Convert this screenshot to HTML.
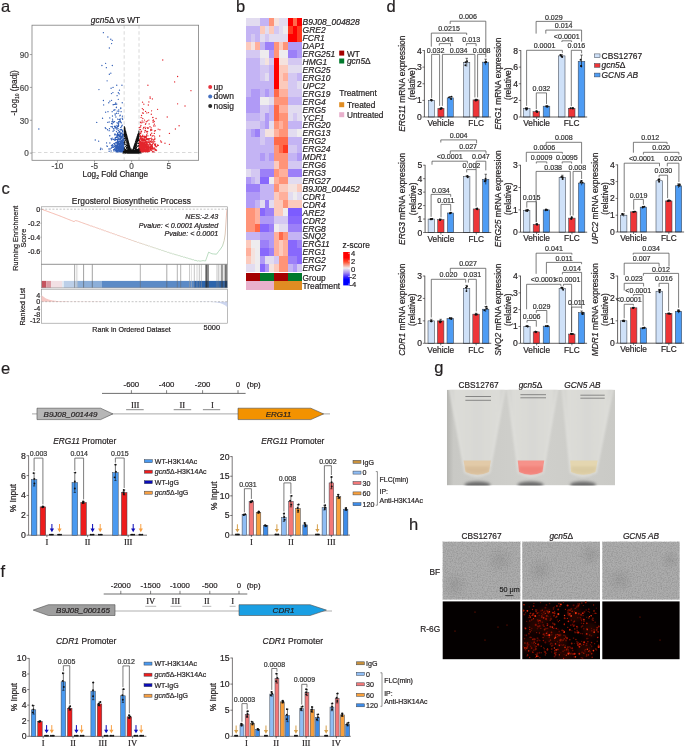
<!DOCTYPE html>
<html><head><meta charset="utf-8"><title>Figure</title><style>html,body{margin:0;padding:0;background:#fff;width:685px;height:747px;overflow:hidden}svg{display:block}</style></head><body><svg width="685" height="747" viewBox="0 0 685 747" font-family='"Liberation Sans", Arial, sans-serif' fill="#231f20" stroke-width="0"><text x="1" y="12.1" font-size="16.5" stroke="#231f20" stroke-width="0.2">a</text>
<line x1="124.18" y1="25.2" x2="124.18" y2="160.3" stroke="#c8c8c8" stroke-width="0.7" stroke-dasharray="3.5,2.5"/>
<line x1="139.02" y1="25.2" x2="139.02" y2="160.3" stroke="#c8c8c8" stroke-width="0.7" stroke-dasharray="3.5,2.5"/>
<line x1="32" y1="152.5" x2="198.6" y2="152.5" stroke="#c8c8c8" stroke-width="0.7" stroke-dasharray="3.5,2.5"/>
<path d="M124 140.43h0M121.6 147.05h0M117.32 151.88h0M120.82 151.92h0M123.13 149.97h0M121.34 150.74h0M112.71 145.18h0M119.51 145.84h0M119.19 149.63h0M120.62 149.19h0M123.53 144.26h0M123.8 149.49h0M122.48 130.32h0M123.71 149.49h0M120.89 151.38h0M121.41 146.36h0M121.95 141.44h0M120.49 139.53h0M121.74 136.23h0M118.38 143.5h0M117.14 136.86h0M122.58 149.61h0M115.53 148.01h0M117.91 151.81h0M123.56 145.44h0M115.2 145.42h0M118.71 141.68h0M120.78 150.07h0M121.93 132.83h0M116.91 143.15h0M119.84 146.72h0M122.84 150.7h0M123.88 149.4h0M122.3 144.41h0M123.21 151.24h0M121.79 150.53h0M120.89 145.34h0M120.14 147.26h0M122.01 150.09h0M120.68 141.77h0M119.02 151.13h0M121.3 150.44h0M119.88 144.21h0M119.41 135.69h0M122.6 140.49h0M122.13 148.9h0M121.39 143.33h0M123.3 145.2h0M120.89 151.13h0M122.26 145.07h0M120.75 149.27h0M121.32 148.17h0M123.36 144.93h0M122.44 133.08h0M122.17 149.03h0M123.6 149.67h0M116.94 136.69h0M120.72 136.23h0M122.12 136.83h0M117.37 146h0M123.67 144.15h0M116.36 151.2h0M122.38 150.21h0M114.12 139.09h0M122.43 143.95h0M121.98 149.7h0M121.43 147.96h0M120.58 134.73h0M115.42 146.87h0M123.86 140.08h0M123.74 150.18h0M124.09 138.75h0M122.82 146.17h0M123.43 140.81h0M124.14 149.33h0M122.15 145.45h0M114.04 151.03h0M115.41 140.05h0M117.08 149.55h0M121.28 137.57h0M118.64 147.01h0M122.65 143.4h0M123.11 148.6h0M121.94 151.93h0M118.29 144.27h0M122.5 151.44h0M123.54 146.33h0M123.15 142.27h0M123.41 142.95h0M122.53 140.58h0M123.86 148.74h0M115.93 142.36h0M107.41 146.34h0M123.32 144.98h0M123.23 145.73h0M121.93 151.14h0M123.34 148.57h0M122.3 151.94h0M124.11 147.06h0M122.03 141.89h0M122.56 150.94h0M121.83 151.76h0M121.93 147.48h0M123.55 145.5h0M120.07 137.06h0M119.63 146.38h0M123.04 146.6h0M119.05 143.96h0M122.84 142.77h0M119.95 138.85h0M115.59 149.68h0M113.63 149.77h0M123.39 148.69h0M123.11 145.25h0M123.78 146.81h0M112.9 146.12h0M120.8 136.31h0M122.59 147.81h0M118.11 147.93h0M124 151.53h0M117.66 139.36h0M120.05 135.08h0M117.41 150.85h0M122.52 143.47h0M120.71 146.75h0M117.97 151.79h0M120.91 145.33h0M120.14 150.59h0M122.62 151.38h0M117.96 139.93h0M123 151.66h0M123.59 139.79h0M123.15 148.99h0M117.96 143.21h0M114.01 150.68h0M121.02 133.27h0M119.45 149.76h0M119.78 134.89h0M121.9 150.54h0M116.97 144.3h0M119.11 151.55h0M121.87 151.03h0M121.13 151.78h0M122.99 146.5h0M120.75 149.1h0M123.32 134.95h0M118.92 145.19h0M122.24 149.52h0M119.6 147.75h0M119.63 139.75h0M123.44 147.82h0M120.55 138.38h0M122.41 145.98h0M118.7 143.5h0M118.97 146.7h0M123.56 151.3h0M120.43 151.45h0M115.92 139.14h0M119.04 144.26h0M119.99 151.55h0M123.45 139.11h0M122.62 151.57h0M122.5 146.94h0M124.1 151.76h0M123.81 151.2h0M120.71 146.14h0M111.43 147.99h0M123.91 132.07h0M119.47 147.59h0M120.95 144.86h0M123.63 143.86h0M121.66 151.86h0M122.68 147.78h0M122.85 142.36h0M120.8 149.89h0M120.9 148.57h0M117.23 146.8h0M119.84 144.88h0M114.7 149.53h0M123.65 144.84h0M118.55 142.2h0M119.51 150.11h0M116.29 150.83h0M122.3 147.42h0M122.68 148.12h0M116.42 150.48h0M121.06 141.91h0M120.54 147.89h0M123.22 148.18h0M118.67 142.94h0M120.22 151.64h0M120.74 143.02h0M121.64 151.68h0M123.08 151.07h0M121.07 149.03h0M118.03 147.91h0M118.45 147.47h0M122.44 147.47h0M118.1 151.68h0M121.58 149.91h0M116.62 145.94h0M117.92 137.89h0M122.15 149.39h0M120.57 151.5h0M122.7 149.26h0M122.96 142.61h0M122.56 140.94h0M115.79 145.45h0M120.73 150.67h0M122.05 142.05h0M123.95 143.52h0M118.82 138.05h0M122.77 149.55h0M123.13 144.84h0M120.84 151.81h0M117.56 150.74h0M120.34 139.18h0M123.16 151h0M119.92 134.23h0M120.84 141.57h0M121.69 144.85h0M121.17 147.67h0M121.45 129.49h0M121.26 148.37h0M122.92 140.85h0M122.86 151.05h0M122.58 151.94h0M116.54 148.79h0M123.46 149.14h0M122.96 149.41h0M123.85 148.68h0M116.79 149.43h0M122.59 147.57h0M123.04 136.78h0M122.51 149.54h0M121.78 151.19h0M119.51 149.79h0M122.24 151.02h0M112.3 147.28h0M121.87 150.99h0M114.81 144.34h0M121.33 141.24h0M122.54 149.79h0M119.35 149.17h0M117.1 148.31h0M122.06 148.23h0M123.63 149.11h0M120.45 151.92h0M120.76 127.39h0M121.57 142.41h0M117.16 149.82h0M121.71 151.76h0M120.11 148.73h0M119.9 144.88h0M116.19 150.95h0M123.89 151.06h0M118.12 135.68h0M117.7 144.58h0M116.53 149.3h0M121 146.71h0M120.96 147.18h0M120.72 147.47h0M122.14 144.89h0M121.72 140.72h0M117.17 151.79h0M120.85 139.03h0M120.29 138.77h0M123.76 151.55h0M116.03 151.76h0M117.68 140.5h0M118.37 145.18h0M120.06 144.14h0M117.11 143.09h0M117.09 142.27h0M116.71 139.57h0M116.12 151.56h0M117.49 150.52h0M123.04 144.92h0M120.1 144.82h0M123.07 149.06h0M116.57 148.11h0M121.93 148.66h0M121.34 146.1h0M121.84 137.54h0M122.89 151.55h0M122.49 139.71h0M121.16 149.09h0M119.48 139.94h0M119.54 145.22h0M123.09 140.26h0M117.2 134.7h0M122.42 151.28h0M120.35 144.48h0M120.04 143.41h0M120.52 147.26h0M119.45 143.52h0M123.72 143.12h0M119.68 149.97h0M120.1 138.46h0M115.67 150.59h0M122.01 150.13h0M123.57 144.65h0M121.62 150.24h0M119.56 143.64h0M121.21 145.8h0M117.08 148.39h0M121.71 151.52h0M116.18 148.71h0M115.13 143.26h0M123.95 142.55h0M119.4 147.02h0M122.9 149.66h0M120.41 151.42h0M121.33 142.75h0M122.66 149.77h0M122.02 143.26h0M118.79 150.54h0M121.46 143.22h0M121.17 151.02h0M115.23 139.97h0M116.46 151.53h0M123.25 134.43h0M124.04 135.43h0M117.69 132.97h0M123.48 147.75h0M123.27 141.94h0M118.29 142.11h0M121.4 151.63h0M120.61 143.36h0M121.61 148.46h0M123.79 144.52h0M124.04 149.19h0M116.94 151.49h0M120.77 146.93h0M123.89 137.81h0M118.37 148.77h0M118.54 149.51h0M116.9 148.95h0M117.37 149.79h0M115.77 149.6h0M123.52 143.67h0M122.52 149.33h0M123.31 148.42h0M117.77 146.29h0M120.33 133.64h0M112.34 144.79h0M117.67 151.84h0M121.22 147.54h0M120.3 146.86h0M121.62 148.97h0M121.52 147.37h0M122.7 148.1h0M119.35 148.2h0M119.53 131.49h0M119.76 132.31h0M123.26 146.64h0M123.65 148.16h0M122.82 150.45h0M122.66 145.55h0M113.09 145.7h0M121.81 145.19h0M122.3 149.02h0M120.04 142.55h0M116.91 151.17h0M123.96 144.24h0M118.35 144.94h0M119.21 144.71h0M122.01 145.7h0M122.64 140.59h0M121.99 150.12h0M113.36 147.21h0M120.82 143.35h0M117.85 141.58h0M120.59 141.41h0M115.13 144.07h0M122.8 150.33h0M122.17 140.21h0M119.38 144.85h0M123.52 142.47h0M123.51 140.6h0M117.03 146.06h0M119.74 141.41h0M121.45 144.7h0M123.6 143.46h0M120.21 150.58h0M120.81 146.42h0M120.97 140.19h0M116.71 145.6h0M123.31 144.46h0M117 145.29h0M118.42 146.67h0M123.78 138.17h0M121.24 148.44h0M121.63 145.99h0M122.95 150.64h0M117.11 135.18h0M118.42 134.4h0M121.02 136.19h0M118.77 147.08h0M123.01 151.81h0M106.55 142.92h0M120.32 120.98h0M112.91 92.56h0M109.88 143.01h0M122.04 147.76h0M121.49 142.07h0M111.58 139.78h0M119.55 136.53h0M112.54 119.17h0M103.63 104.88h0M105.27 127.7h0M119.44 151.28h0M118.48 147.21h0M117.83 145.24h0M118.45 126.2h0M111.95 121.56h0M119.07 148.78h0M120.76 108.49h0M117.34 126.07h0M118.6 125.5h0M115.19 137.96h0M115.69 102.88h0M117.06 122.68h0M117.36 141.48h0M118.74 121.76h0M114.33 104.4h0M122.27 144.59h0M113.13 104.7h0M122.18 118.14h0M116.46 113.27h0M117.09 95.66h0M111.47 93.59h0M117.52 134.5h0M117.98 136.82h0M118.17 113.35h0M114.47 140.1h0M107.98 111.63h0M121.97 133.28h0M110.2 148.89h0M111.52 123.45h0M109.17 130.65h0M122.23 142h0M121.11 111.66h0M116.87 125.33h0M111.57 100.35h0M114.78 127.93h0M118.24 141.42h0M121.28 149.6h0M118.95 149.53h0M118.74 132.09h0M116.32 148.68h0M116.48 146.99h0M110.98 126.59h0M117.22 148.46h0M117.11 139.68h0M117.26 111.11h0M112.66 121.01h0M117.98 135.76h0M109.85 101.19h0M118.27 99.34h0M111.08 138.66h0M122 151.59h0M118.13 147.94h0M120.25 118.97h0M121.95 150.84h0M118.38 135.01h0M116.68 151.4h0M107.7 122.37h0M120.77 107.82h0M114.42 146.23h0M121.35 122.84h0M120.67 143.38h0M109.76 117.92h0M106.89 146.04h0M118.63 146.42h0M118.9 139.55h0M113.85 143.56h0M118.52 124.73h0M118.75 147.22h0M116.66 135.83h0M119.68 121.55h0M116.46 107.29h0M120.16 129.6h0M115.32 134.26h0M115.71 104.25h0M112.23 138.06h0M111.09 151.04h0M116.77 104.07h0M119.23 93.82h0M118.32 130.41h0M112.22 126.42h0M119.92 144.62h0M118.84 121.57h0M120.93 148.86h0M114.93 109.7h0M118.09 138.45h0M120.11 132.69h0M116.92 129.6h0M114.37 126.32h0M121.03 129.87h0M120.61 134.18h0M121.71 136.38h0M118.01 128.45h0M115.06 113.8h0M118.73 110.04h0M107.52 129.77h0M115.07 126.25h0M113.46 128.79h0M114.14 130.13h0M102.22 149.11h0M100.79 148.28h0M122.24 134.82h0M120.88 138.51h0M122.5 131.4h0M112.32 127.55h0M105.61 112.15h0M122.09 151.32h0M122.22 125.28h0M120.08 129.33h0M121.33 148.49h0M122.24 102.73h0M113.8 110.21h0M114.58 134.05h0M122.25 130.32h0M108.77 102.74h0M111.41 145.75h0M105.97 128.55h0M121.99 125.49h0M120.95 148.5h0M119.81 115.81h0M102.56 118.23h0M114.05 149.78h0M118.12 126.23h0M115.19 114.98h0M122.24 142.79h0M118.72 146.69h0M112.48 116h0M109.13 151.21h0M118.19 143.52h0M118.81 111.58h0M114.95 135.04h0M114.55 121.6h0M117.98 123.59h0M117.37 142.63h0M122.43 134.59h0M119.89 150.84h0M116.63 142.92h0M117.27 126.66h0M117.59 133.61h0M117.9 149.91h0M116.93 127.66h0M109.12 121.96h0M119.86 119.94h0M117.57 147.48h0M119.89 131.16h0M119.08 119.43h0M116.44 131.65h0M119.46 90.13h0M121.23 151.14h0M117.97 143.75h0M115.9 116.96h0M115.84 137.4h0M120.57 138.79h0M121.52 129.84h0M113.05 131.29h0M113.18 122.51h0M119.21 145.43h0M119.43 149.71h0M109.75 135.77h0M122.37 138.12h0M115.08 145.58h0M119.66 149.86h0M122.3 147.16h0M114.59 148.09h0M119.38 119.55h0M98.64 141.15h0M117.17 142.76h0M117.61 119.1h0M115.42 137.81h0M120.69 121.96h0M118.32 92.72h0M121.61 126.55h0M117.03 134.46h0M122.31 136.83h0M114.33 143.79h0M116.37 107.54h0M116.65 137.37h0M121.95 138.05h0M122.26 135.7h0M111.09 88.27h0M112.17 111.69h0M119.07 147.63h0M118.9 147.86h0M120.26 115.16h0M116.18 128.28h0M112.42 123.91h0M113.13 139.44h0M100.45 149.61h0M122.43 116.18h0M115.56 126.99h0M113.97 121.83h0M108.98 148.99h0M118.74 122.99h0M114.39 143.95h0M122.64 119.22h0M109.47 128.68h0M103.4 32.65h0M107.86 37.03h0M110.82 39.22h0M112.31 40.31h0M111.57 43.6h0M109.34 47.98h0M105.63 63.31h0M101.92 65.5h0M112.31 65.5h0M106.37 67.69h0M110.82 73.16h0M109.34 74.26h0M98.95 89.59h0M107.11 80.83h0M116.76 85.21h0M121.95 85.21h0M96.73 122.44h0M38.85 129.01h0M95.24 139.96h0M103.4 100.54h0M113.05 87.4h0" stroke="#2f5db6" stroke-width="1.35" stroke-linecap="round" fill="none"/>
<path d="M139.16 140.69h0M145.73 145.25h0M146.06 141.19h0M140.96 142.63h0M141.95 148.95h0M147.07 145.09h0M139.7 145.58h0M145.03 147.38h0M141.65 150.45h0M147.23 144.02h0M139.2 149.48h0M142.89 145.97h0M140.14 150.5h0M149.93 150.21h0M147.37 151.89h0M155.09 144.59h0M139.48 150.05h0M145.94 148.37h0M151.61 139.66h0M140.27 150.06h0M146.54 147.89h0M143.72 143.85h0M148.15 151.46h0M143.8 150.64h0M151.3 145.51h0M147.76 144.22h0M147.16 151.62h0M141.49 150.75h0M140.41 142.92h0M141.05 142.4h0M155.13 150.15h0M143.81 150.1h0M141.91 148.46h0M150.07 144.67h0M139.54 150.9h0M147.1 148.16h0M153.57 143.04h0M150.55 144.57h0M141.77 143.89h0M156.56 150.18h0M142.79 148.66h0M154.65 147.87h0M144.07 142.39h0M150.93 147.51h0M141.05 150.95h0M145.78 139.89h0M149.39 144.84h0M141.65 147.14h0M142.07 144.44h0M139.91 151.17h0M139.74 143.02h0M147.63 146.25h0M148.24 148.49h0M142.23 140.62h0M140.37 147.1h0M142.8 147.36h0M152.21 147.3h0M141.79 143.41h0M143.76 151.09h0M140.75 146.98h0M148.04 144.66h0M144.05 148.19h0M142.41 149.01h0M145.8 141.21h0M150.54 135.24h0M152.78 151.09h0M152.89 151.59h0M148.39 150.48h0M140.39 147.99h0M151.33 150.41h0M151.13 129.61h0M141.73 144.94h0M141.33 150.51h0M148.8 149.43h0M152.36 144.77h0M141.11 150.9h0M142.17 151.2h0M150.78 129.53h0M147.14 144.83h0M143.26 151.89h0M139.47 149.22h0M140.73 146.46h0M144.52 145.68h0M139.3 149.26h0M147.13 147.37h0M139.51 143.08h0M139.57 141.45h0M149.12 148.05h0M153 147.66h0M143.99 144.6h0M145.01 151.32h0M141.91 144.93h0M140.9 143.57h0M145.81 145.31h0M140.27 145h0M151.01 147.79h0M145.24 145.02h0M140.8 148.28h0M141.44 146.08h0M147.91 144.62h0M141.4 150.54h0M151.4 138.05h0M142.55 143.19h0M147.13 146.69h0M139.91 140.75h0M141.64 147.96h0M146.4 147h0M139.83 146.87h0M148 149.96h0M144.14 149.45h0M142.03 148.44h0M141.84 145.36h0M139.39 148.1h0M140.2 141.45h0M140.04 147.64h0M143.56 147.83h0M147 142.1h0M147.23 147.11h0M141.19 138.5h0M143.71 140.29h0M143.82 146.51h0M144.82 138.02h0M141.49 149.92h0M141.76 150.49h0M140.2 133.24h0M146.63 151.17h0M144.53 149.29h0M142.65 147.64h0M146.57 135.97h0M140.48 138.58h0M143.9 148.44h0M147.07 148.65h0M142.63 146.4h0M142.84 145.15h0M140.06 149.29h0M140.12 149.24h0M141.54 148.58h0M143.97 148.91h0M154.61 139.18h0M147 143.77h0M139.51 150.24h0M144.51 139.49h0M144.75 151.39h0M144.05 137.36h0M147.74 142.01h0M142.14 149.24h0M142.01 149.32h0M146.5 150.1h0M146.6 145.7h0M155.68 149.54h0M150.45 149.18h0M143.66 149.4h0M145.68 151.13h0M143.89 144.96h0M140.94 142.98h0M139.53 139.35h0M140.98 151.53h0M153.41 148.73h0M142.81 144.85h0M148.38 147.73h0M145.05 147.62h0M139.65 144.45h0M142.92 138.54h0M139.55 148.06h0M149.71 143.53h0M149.29 146.9h0M142.18 146.21h0M145.11 144.8h0M145.5 150.35h0M146.43 138.28h0M139.17 151.65h0M152.3 142.16h0M142.1 149.22h0M141.62 150.92h0M144.79 143.24h0M148.42 145.86h0M150.68 141.43h0M143.11 147.26h0M140.35 145.64h0M143.32 147.66h0M139.26 149.24h0M152.94 148.69h0M141.61 147.89h0M147.46 148.8h0M146.46 143.99h0M140.8 137.41h0M139.33 134.43h0M140.72 151.33h0M140.89 150.91h0M148.12 146.79h0M140.19 150.73h0M144.94 151.21h0M144.04 142.07h0M143.52 145.94h0M144.84 141.91h0M143.05 150.41h0M142.81 140.17h0M142.61 140.22h0M147.01 150.31h0M140.67 151.97h0M141.97 151.95h0M142.01 146.2h0M139.38 149.36h0M146.48 142.66h0M147.99 151.36h0M142.44 151.84h0M139.92 150.25h0M141.98 147.66h0M150.62 146.76h0M139.15 139.45h0M141.73 136.93h0M147.6 146.83h0M142.84 135.28h0M146.58 143.77h0M139.6 139.9h0M143.66 147.77h0M146.02 148.59h0M145.5 145.92h0M143.57 146.79h0M146.67 142.27h0M141.24 151.7h0M148.02 149.94h0M141.18 141.26h0M149.68 150.76h0M139.18 144.44h0M146.16 147.24h0M145.64 147.6h0M143.39 149.13h0M150.09 148.91h0M148.72 145.8h0M147.62 143.81h0M140.06 147.31h0M147.49 149.92h0M142.18 148.98h0M144.11 150.35h0M144.85 138.65h0M142.66 142.72h0M146.61 135.64h0M145.89 139.86h0M140.8 148.73h0M142.28 144.86h0M144.12 148.64h0M140.85 145.6h0M139.87 144.63h0M140.44 146.94h0M141.02 145.38h0M140.23 143.21h0M149.61 141.93h0M146.38 151.34h0M142.36 143.93h0M141.04 148.38h0M142.4 139.9h0M143.39 151.28h0M143.02 144h0M139.92 136.86h0M144.69 151.27h0M148.04 150.27h0M139.95 135.99h0M144.39 148.69h0M147.87 151.32h0M141.49 148.73h0M140.58 148.14h0M149.62 144.62h0M139.85 145.93h0M144.72 147.64h0M139.42 151.46h0M141.88 147.76h0M141.52 147.87h0M139.44 148.56h0M145.62 151.94h0M144.25 150.74h0M140.87 151.83h0M142.21 144.63h0M141.48 139.5h0M147.12 149.75h0M140.53 148.46h0M147.82 150.89h0M144.61 147.08h0M139.11 146.25h0M141.23 146.46h0M142.07 150.3h0M149.01 140.17h0M145.51 146.48h0M139.16 145.15h0M144.58 139.79h0M139.29 146.46h0M144.2 147.22h0M142.54 135.93h0M140.79 133.68h0M140.06 151.37h0M151.94 148.06h0M142.1 140.93h0M139.18 148.42h0M147.4 138.58h0M145.76 149.33h0M143.89 148.25h0M142.11 140.22h0M141.62 142.72h0M144.9 145.11h0M143.91 145.1h0M147.69 147.2h0M140.25 144.61h0M140.76 145.39h0M142.13 147.83h0M149.94 147.44h0M144.81 143.65h0M142.61 144.88h0M154.95 139.04h0M141.7 143.43h0M139.39 148.98h0M143.45 151.45h0M150.18 138.56h0M144.04 147.61h0M142.85 149.98h0M146.81 149.19h0M145.26 147.55h0M151.94 145.62h0M147.71 149.86h0M142.62 147.19h0M141.04 150.16h0M141.82 145.14h0M148.28 149.55h0M152.51 144.9h0M151.07 150.04h0M144.28 151.06h0M139.69 145.12h0M141.74 136.81h0M140.13 151.85h0M139.17 146.66h0M140.27 151.97h0M140.58 142.23h0M145.51 144.11h0M143.13 151.85h0M144.81 144.74h0M140.29 136.04h0M139.99 141.46h0M148.67 140.03h0M140.48 147.68h0M149.14 138.65h0M142.99 146.61h0M146.26 151.24h0M146.1 147.67h0M149.34 140.06h0M144.45 144.83h0M145.9 139.64h0M145.1 145.79h0M141.57 145.37h0M141.99 146.48h0M142.82 147.2h0M154.73 145.12h0M147.26 139.73h0M143.71 143.97h0M141.66 151.6h0M145.17 143.78h0M145.26 149.91h0M143.98 145.45h0M152.64 149.13h0M141.76 145.1h0M139.3 127.39h0M146.47 139.18h0M143.21 148.8h0M142.22 147.33h0M139.79 144.53h0M142.58 143.28h0M139.92 135.8h0M148.21 139.22h0M146.11 150.11h0M148.22 151.5h0M145.01 144.33h0M139.4 146.46h0M145.65 147.37h0M147.66 146.85h0M139.12 151.39h0M139.96 149.85h0M140.34 139.1h0M145.27 145.57h0M156.38 146.72h0M147.02 150.94h0M139.56 147.56h0M142.69 149.96h0M140.8 144.83h0M140.82 144.21h0M139.38 142.05h0M145.86 148.78h0M148.07 144.27h0M145.36 136.49h0M154.02 151.88h0M141.17 143.82h0M146.23 149.14h0M154.65 144.52h0M152.31 151.85h0M148.27 147.35h0M143.09 151.26h0M148.76 147.29h0M146.7 143.08h0M142.99 143.53h0M143.73 150.14h0M139.1 142.59h0M141.24 149.08h0M157.38 145.76h0M144.64 145.71h0M145.52 146.82h0M155.42 145.29h0M139.56 150.09h0M140.75 151.52h0M140.73 143.79h0M149.17 151.44h0M145.91 150.24h0M149.91 141.72h0M140.75 147.35h0M147.36 139.22h0M142.48 146.49h0M140.61 144.48h0M139.72 144.16h0M149.49 147.55h0M147.05 149.3h0M155.34 145.96h0M139.67 134.03h0M139.74 144.38h0M150.57 144.29h0M144.37 149.49h0M140.14 149.87h0M142.62 147.66h0M143.49 148.93h0M147.87 142.06h0M147.8 147.75h0M139.2 145.92h0M150.83 148.24h0M155.36 149.96h0M143.74 136.6h0M139.11 150.41h0M141.86 150.64h0M151.1 142.34h0M148.95 145.2h0M139.62 143.31h0M152.74 147.49h0M148.87 146.03h0M151.57 146.38h0M141.33 151.91h0M147.84 141.99h0M149.52 147.62h0M142.39 148.27h0M148.99 142.41h0M147.5 151.33h0M145.02 146.92h0M142.34 150.84h0M146.85 150.2h0M142.83 146.43h0M143.07 148.69h0M141.89 140.53h0M144.27 142.45h0M144.7 147.01h0M141.68 143.95h0M151.29 144.96h0M143.18 145.14h0M140.27 151.33h0M151.43 149.01h0M151.06 140.36h0M141.18 146.74h0M144 150.34h0M144.55 151.64h0M143.9 149.16h0M144.13 144.82h0M146.6 144.57h0M139.86 136.01h0M146.91 142.58h0M141.86 148.17h0M143.15 151.81h0M142.3 138.89h0M139.17 147.49h0M148.31 127.88h0M140.41 122.26h0M152.19 135.94h0M145.64 130.55h0M149.38 148.84h0M161.58 142.12h0M146.75 134.61h0M140.51 129.63h0M143.37 113.15h0M150.75 130.45h0M144.67 140.58h0M140.93 125.51h0M146.32 136.72h0M146.92 147h0M139.89 129.47h0M154.34 124.18h0M152.64 143.8h0M155.46 130.69h0M141.72 139.38h0M156.1 150.6h0M143.9 137.1h0M140.7 136.43h0M146.81 112.9h0M149.14 123.94h0M144.38 145.09h0M143.2 128.83h0M144.65 132.05h0M145.01 130.31h0M140.86 138.84h0M147.85 128.44h0M159.88 129.79h0M146.29 137.58h0M143.05 141.98h0M150.08 97.01h0M148.66 138.61h0M142.3 140.12h0M141.64 131.1h0M153.65 139.95h0M144.3 147.43h0M149.99 126.72h0M142.54 144.25h0M140.71 135.93h0M152.57 117.6h0M154.53 144.17h0M147.16 127.56h0M144.76 143.29h0M145.43 128.54h0M142.79 118.47h0M143.12 139.81h0M145.3 137.4h0M142.11 146.52h0M145.38 142.51h0M149.47 147.54h0M148.47 141.89h0M151.93 139.89h0M147.7 139.15h0M142.14 121.03h0M142.13 122.6h0M142.55 136.5h0M144.89 146.82h0M158.19 129.19h0M140.61 127.03h0M152.15 148.25h0M147.78 148.07h0M154.73 141.64h0M154.5 131h0M152.96 117.39h0M147.62 131.46h0M140.61 148.74h0M139.88 148.01h0M141.41 131.88h0M142.45 149.42h0M148.09 142.23h0M156.07 118.48h0M144.8 146.01h0M139.94 149.74h0M146.47 151h0M139.82 149.94h0M154.02 149.04h0M153.43 120.01h0M145.23 144.78h0M145.48 124.28h0M142.61 149.84h0M146.11 144.57h0M147.97 135.81h0M144.82 148.18h0M152.32 135.97h0M153.61 125.9h0M150.54 146.06h0M143.24 151.4h0M151.37 146.25h0M159.63 135.95h0M142.74 151.66h0M154.64 136.88h0M142.54 102.18h0M147.29 133.12h0M140.47 145.7h0M145.55 111.41h0M148.51 112.57h0M142.5 150.43h0M141.25 138.27h0M144.3 149.23h0M144.43 144.62h0M143.37 144.93h0M146.38 131.74h0M144.72 143.06h0M150.85 146.63h0M155.06 125.88h0M157.72 144.82h0M151.74 133.29h0M141.08 122.85h0M154.75 144.31h0M142.53 112.9h0M148.85 120.08h0M142.9 149.77h0M151.68 141.92h0M147.5 120.9h0M139.91 141.33h0M152.42 98.9h0M152.19 139.16h0M153.81 135.58h0M141.74 142.95h0M143.45 139h0M140.82 149.08h0M143.93 122.09h0M153.14 141.48h0M144.59 149.48h0M150.59 134.47h0M143.38 109.76h0M154.26 121.54h0M160.64 140.9h0M143.84 104.18h0M146.28 121.75h0M152.37 146.43h0M155.62 143.98h0M142.38 142.34h0M140.92 144.7h0M154.88 138.69h0M153.12 122.33h0M148.33 105.03h0M145.8 123.62h0M151.31 114.22h0M142.9 143.43h0M151.25 127.86h0M141.53 115.47h0M148.88 142.02h0M148.87 101.94h0M143.52 143.36h0M140.84 142.14h0M154.68 148.76h0M140.82 131.83h0M144.53 120.08h0M149.72 150.88h0M142.08 137.03h0M143.31 140.77h0M141.1 117.56h0M140.28 148.76h0M145.02 127.05h0M148.31 142.11h0M142.31 108.61h0M151.86 130h0M151.57 110.8h0M154.35 133.38h0M152.91 120.72h0M143.67 127.51h0M140.26 136.42h0M148.9 148.13h0M144.61 136.21h0M146.83 150.12h0M162.76 60.02h0M177.6 76.45h0M174.64 81.92h0M190.96 90.69h0M147.92 85.21h0M177.6 103.82h0M185.02 106.01h0M167.22 116.97h0M169.44 133.39h0M179.09 125.72h0M175.38 129.01h0M157.57 109.3h0M150.15 98.35h0M153.86 139.96h0M161.28 142.15h0M164.99 143.25h0M158.31 145.44h0M169.44 144.34h0" stroke="#e3242b" stroke-width="1.35" stroke-linecap="round" fill="none"/>
<path d="M128.99 144.18h0M132.13 151.78h0M125.04 133.66h0M125.22 130.45h0M130.48 153.06h0M127.49 139.77h0M132.74 150.14h0M136.92 137.42h0M126.32 136.15h0M126.86 141.65h0M133.66 147.65h0M125.06 129.18h0M134.28 146.2h0M130.91 151.34h0M135.97 152.52h0M132.7 150.76h0M128.45 153h0M130.38 153.03h0M131.44 152.71h0M134.1 151h0M137.17 137.99h0M132.79 150.66h0M136.65 150.2h0M134.04 146.73h0M138.92 151.71h0M129.91 153.1h0M131.03 151.74h0M125.92 132.25h0M127.85 140.9h0M137.11 140.61h0M137.29 140.79h0M128.31 142.16h0M129.5 146.37h0M126.42 134.27h0M131.38 152.5h0M128.08 142.48h0M132.58 151.91h0M131.83 152.85h0M124.98 138.76h0M137.16 150.98h0M130.1 148.38h0M133.59 148.16h0M126.59 135.65h0M124.96 129.59h0M129.58 146.5h0M137.16 152.85h0M127.92 140.64h0M136.78 150.23h0M131.36 152.4h0M125.7 131.9h0M126.58 141.5h0M138.29 136.01h0M124.58 132.01h0M138.7 143.44h0M128.05 142.44h0M132.08 152.99h0M127.49 138.58h0M136.83 143.09h0M135.16 145.81h0M131.86 152.46h0M128.33 141.38h0M134.46 151.7h0M138.09 135.49h0M129.59 146.15h0M127.21 140.34h0M136.65 140.07h0M133.87 153.07h0M133.98 149.13h0M135.31 143.91h0M129.11 144.79h0M130.05 149.43h0M138.23 152.7h0M126.07 138.72h0M126.35 134.51h0M133.93 147.8h0M132.32 152.19h0M133.82 147.07h0M138.03 138.78h0M127.31 141.64h0M128.53 143.5h0M130.4 149.3h0M137.68 139.53h0M137.6 136.38h0M137.8 138.95h0M124.46 127.57h0M126.9 136.45h0M131.21 152.75h0M129.02 144.96h0M132.42 153.08h0M132.49 150.81h0M131.71 152.91h0M135.46 151.21h0M133.27 149.85h0M130.89 150.79h0M131.27 152.62h0M137.19 152.24h0M132.48 151.46h0M126.22 134.6h0M127.75 139.47h0M134.11 147.42h0M126.47 145.5h0M126.3 134.87h0M127.44 151.09h0M131.41 152.7h0M126.58 137.92h0M127.08 136.82h0M134.9 145.47h0M124.45 128.17h0M133.44 150.68h0M135.88 153.01h0M128.12 143.37h0M135.74 142.68h0M137.71 152.17h0M126.4 147.5h0M134.57 145.81h0M125.03 149.36h0M125.25 144.39h0M136.08 140.5h0M136.98 138.01h0M129.21 145.81h0M126.1 134.13h0M127.72 139.44h0M127.17 137.76h0M128.71 152.42h0M131.6 153.1h0M127.9 140.06h0M135.06 143.88h0M138.05 137.81h0M136.33 144.41h0M130.01 147.64h0M134.39 152.34h0M136.53 147.7h0M130.19 148.69h0M125.23 151.92h0M126.6 135.31h0M136.66 146.86h0M128.36 142.11h0M126.52 138.35h0M128.09 141.12h0M132.3 151.54h0M129.47 145.85h0M129.84 147.77h0M131.67 152.93h0M128.1 141.01h0M124.51 127.41h0M127.63 143.38h0M133.94 148.07h0M129.96 147.73h0M138.79 132.38h0M124.83 133.38h0M133.49 149.72h0M126.25 138.9h0M131.66 153h0M136.44 142.15h0M134.47 146.39h0M124.64 128.58h0M136.58 139.39h0M133.5 150.8h0M131.44 152.66h0M131.64 153.03h0M133.96 146.43h0M125.28 133.11h0M135 143.54h0M131.51 152.98h0M131.29 152.54h0M133.34 153.08h0M126.37 133.89h0M132.61 150.82h0M125.08 132.25h0M134.21 147.64h0M131.85 152.54h0M137.44 136h0M138.7 153.1h0M130.99 151.22h0M130.85 150.89h0M127.31 144.73h0M126.28 135.43h0M136.35 139.48h0M137.34 152.41h0M137.5 135.74h0M131.48 152.72h0M128.66 143.57h0M136.65 140.29h0M135.32 153h0M137.93 137.98h0M128.48 148.3h0M132.92 151.11h0M130.53 149.78h0M136.57 138.78h0M138.06 134.14h0M127 140.21h0M138.37 140.21h0M133.54 148.3h0M132.33 153.1h0M135.05 143.11h0M128.43 144.95h0M137.93 137.53h0M128.6 142.86h0M128.04 152.18h0M132.45 150.86h0M126.66 136.97h0M131.56 153.03h0M137.63 149.98h0M126.25 136.35h0M125.53 132.73h0M128.01 143.38h0M130.31 149.6h0M131.96 152.2h0M128.3 152.98h0M131.65 153.01h0M127.38 138.62h0M127.87 145.88h0M136.77 153.1h0M124.66 132.67h0M131.2 152.02h0M124.18 134.54h0M136.88 152.37h0M125.8 135.11h0M131.93 152.35h0M134.89 147.8h0M130.97 151.71h0M127.63 147.57h0M128.69 143.54h0M127.92 147.02h0M125.84 137.3h0M129.94 147.54h0M133.1 149.21h0M138.41 137.47h0M131.23 152.16h0M127.85 146.78h0M128.74 145.92h0M130.41 149.04h0M134.08 152.83h0M124.69 134.07h0M127.12 144.65h0M131.67 152.95h0M138.57 133.37h0M127.47 152.07h0M138.31 135.56h0M126.96 140.42h0M138.26 136.01h0M130.02 148.19h0M124.95 128.66h0M130.02 148.9h0M135.05 144.5h0M129.07 146.82h0M124.65 150.02h0M129.73 147.38h0M126.69 135.63h0M138.36 136.47h0M138.49 137.12h0M136.38 143.07h0M124.91 135.89h0M127.04 141.76h0M137.49 140.94h0M135.56 143.75h0M124.7 130.72h0M135.27 152.11h0M128.22 148.87h0M128.07 152.08h0M128.27 141.96h0M135.39 149.03h0M138.18 133.77h0M138.38 150.58h0M127.91 142.71h0M131.5 153.09h0M136.09 144.48h0M135.65 152.08h0M128.92 143.68h0M127.11 152.34h0M125.14 130.88h0M132.38 151.86h0M138.84 132.35h0M125.43 137.33h0M130.81 150.46h0M130.37 151.32h0M135.28 148.73h0M125.98 151.69h0M132.59 150.41h0M127.85 141.28h0M126.46 147.4h0M129.02 146.09h0M127.61 147.4h0M138.89 131.33h0M131.23 152.27h0M137.75 135.17h0M126.99 147.93h0M137.98 135.79h0M137.03 137.27h0M138.21 140.09h0M133.03 152.96h0M129.65 146.54h0M133.08 152.98h0M124.35 129.85h0M134.25 145.89h0M135.98 141.8h0M125.12 133.72h0M133.67 148.14h0M126.61 150.51h0M128.38 143.42h0M132.59 150.54h0M130.36 148.86h0M129.58 146.1h0M124.27 148.93h0M136.35 140.91h0M137.28 136.45h0M132.36 151.42h0M125.5 150.54h0M131.67 152.95h0M128.38 142.49h0M131.46 152.7h0M127.11 137.33h0M138.18 149.12h0M124.97 150.01h0M137.6 141.35h0M126.56 152.42h0M130.18 149.85h0M126.9 139.17h0M129.87 147.92h0M127.85 142.34h0M124.79 127.65h0M136.62 139.04h0M133.08 149.47h0M130.41 149.53h0M130.5 152.46h0M130.69 150.53h0M127.67 144.81h0M130.98 151.37h0M131.2 152h0M125.54 133.99h0M131.75 152.74h0M135.06 150.79h0M124.99 129.9h0M129.79 153.02h0M136.9 145.16h0M136.27 142.48h0M138.38 152.71h0M135.88 153.07h0M129.39 152.96h0M137.48 135.97h0M136.28 145.47h0M127.27 137.34h0M131.69 152.91h0M126.57 145.17h0M137.47 136.07h0M135.83 144.14h0M129.52 151.09h0M132.79 153.08h0M138.92 150.25h0M136.02 140.79h0M138.88 135.88h0M130.74 150.96h0M135.21 143.24h0M133.67 151.29h0M134.03 147.11h0M124.21 129.83h0M130.59 150.44h0M137.47 136.28h0M124.51 134.15h0M129.45 146.16h0M132.84 150.05h0M127.21 149.97h0M126.18 152.2h0M126.4 138.89h0M135.79 144.6h0M128.1 142.42h0M129.38 151.78h0M138.09 152.19h0M137.59 138.82h0M132.07 151.87h0M135.74 141.78h0M132.36 153.07h0M127.14 149.43h0M133.7 152.97h0M128.77 147.02h0M135.8 153.1h0M136.71 150.28h0M135.19 143.95h0M127.53 138.34h0M129.16 149.2h0M136.72 152.27h0M132.4 151.06h0M135.88 140.85h0M138.5 138.23h0M137.24 136.43h0M135.22 147.55h0M129.03 152.31h0M127.73 147.99h0M134.46 145.22h0M131.15 152.43h0M136.91 139.63h0M134.93 143.89h0M133.42 148.63h0M137.7 136.55h0M137.97 134.29h0M126.28 139.27h0M133.59 150.23h0M125.16 130.93h0M129.57 148.49h0M137.41 140.94h0M138.19 139.76h0M127.23 143.16h0M136.23 144.14h0M133.55 148.04h0M125.66 131.14h0M128.92 144.8h0M124.49 128.13h0M129.64 148.35h0M138.49 135.77h0M124.64 132.82h0M130.66 152.79h0M134.64 145.04h0M125.53 152.64h0M124.2 136.1h0M135.49 153.1h0M131.46 152.7h0M131.52 152.89h0M136.52 140.74h0M127.37 149.75h0M125.81 153.01h0M135.87 145.68h0M133.5 148.04h0M130.13 148.35h0M137.36 136.81h0M127.24 140.19h0M129.81 152.84h0M131.02 151.44h0M135.38 148.87h0M129.35 146.85h0M134.01 152.96h0M130.69 152.17h0M126.05 139.08h0M137.32 137.07h0M134.61 152.96h0M126.49 137.23h0M129.03 144.78h0M126.99 144.65h0M125.69 152.96h0M129.88 149.47h0M135.06 144.54h0M127.09 152.98h0M127.24 140.29h0M135.92 150.33h0M133.56 147.78h0M126.28 150.41h0M135.18 151.47h0M132.7 152.65h0M127.57 142h0M135.67 144.7h0M134.27 151.75h0M128.83 153.04h0M130.41 151.15h0M133.52 148.72h0M133.4 148.53h0M134.2 152.92h0M133.89 152.28h0M131.45 153.1h0M132.24 151.54h0M131.89 152.71h0M132.71 150.21h0M133.67 151.7h0M130.27 152.95h0M134.34 147.07h0M135.5 143.81h0M125.02 128.94h0M130.11 148.87h0M134.54 145.47h0M128.11 140.79h0M132 152.55h0M136.07 140.23h0M135.7 148.67h0M131.14 151.75h0M127.53 151.6h0M133.66 149.36h0M131.13 151.7h0M136.55 138.87h0M136.8 139.32h0M130.5 149.75h0M124.22 151.4h0M127.82 142.22h0M133.64 152.48h0M137.96 153.06h0M136.47 144.66h0M126.26 145.87h0M124.4 126.79h0M138.3 152.14h0M125.69 131.88h0M129.32 147.8h0M137.6 152.75h0M137.4 143.02h0M134.1 148.86h0M136.63 139.47h0M135.19 145.04h0M137.28 136.37h0M126.25 136.17h0M125.05 132.1h0M131.57 153.04h0M136.99 139.01h0M132.53 151.37h0M129.74 147.82h0M138.44 136.32h0M124.6 141.77h0M138 138.02h0M138.75 140.69h0M124.68 143.87h0M129.2 152.17h0M131.22 151.92h0M135.62 143.59h0M132.4 152.95h0M136.46 139.89h0M131.66 153.04h0M133.89 152.53h0M128.89 143.6h0M132.88 151.02h0M124.77 133.52h0M132.27 151.3h0M127 147.43h0M133.94 147.66h0M133.26 151.43h0M134.51 144.86h0M134.29 146.23h0M135.5 143.87h0M126.87 136.88h0M133.91 149.39h0M136.39 149.11h0M128.01 142.08h0M130.57 150.08h0M124.99 130.41h0M124.76 129.96h0M137.81 139h0M124.39 136.7h0M138.73 137.1h0M130.3 149h0M126.43 136.08h0M124.25 152.83h0M138.52 133.73h0M124.44 151.91h0M135.07 143.78h0M124.92 141.21h0M136.88 153.03h0M133.51 152.12h0M138.02 139.8h0M124.35 127.77h0M133.84 153.08h0M128.8 152.91h0M136.96 140h0M132.71 150.25h0M134.22 145.98h0M133.75 152.2h0M129.9 147.87h0M135.82 142.93h0M128.52 145.42h0M136.46 139.44h0M133.17 150.17h0M133.1 150.49h0M129.77 151h0M137.48 152h0M124.21 130.33h0M130.45 149.82h0M124.81 137.02h0M137.05 143.08h0M128.24 145.53h0M134.34 152.33h0M125.44 131.04h0M135.31 152.66h0M133.19 152.27h0M127.25 139.19h0M135.33 151.13h0M125.48 140.19h0M127.64 143.44h0M131.92 152.47h0M132.93 149.59h0M134.58 145.49h0M132.56 150.78h0M124.84 150.19h0M125.75 140.25h0M126.5 134.49h0M129.3 145.36h0M138.88 148.6h0M132.6 150.39h0M135.74 144.85h0M136.33 152.41h0M124.74 130.29h0M126.86 139.89h0M137.1 138.02h0M138.24 153.05h0M133.06 150.54h0M128 144.55h0M133.69 150.65h0M130.01 149.12h0M138.9 140.71h0M124.75 134.06h0M137.6 153.08h0M135.85 148.31h0M138.8 138.87h0M126.33 136.11h0M134.23 147.69h0M125.74 135.31h0M127.99 141.59h0M127.72 139.16h0M134.24 145.73h0M124.71 152.17h0M138.04 138.18h0M126.25 135.86h0M125.62 137.84h0M133.51 148.79h0M131.27 153.09h0M127.47 142.75h0M134.77 146.19h0M128.13 144.55h0M126.49 136.04h0M126.67 137.7h0M128.9 153.02h0M138.7 136.69h0M127.31 140.26h0M128.43 142.31h0M138.89 134.54h0M125.63 134.91h0M137.48 135.95h0M138.7 135.19h0M136.16 139.75h0M136.53 138.63h0M126.94 138h0M132.66 150.41h0M126.85 144.84h0M127.1 140.44h0M131.53 152.93h0M127.24 145.63h0M136.22 139.74h0M135.05 143.75h0M134.89 144.19h0M136.67 149.92h0M124.41 147.81h0M137.12 139.4h0M126.94 151.21h0M126.61 134.97h0M131.89 152.35h0M131.83 152.56h0M137.02 142.75h0M134.73 144.02h0M137.13 149.59h0M131.8 152.64h0M132.15 151.83h0M126.89 136.26h0M127.9 153.09h0M125.61 152.49h0M124.44 132.01h0M134.61 145.38h0M137.08 153.08h0M126.01 135.71h0M125.99 132.3h0M126.21 134.6h0M132.68 153.04h0M136.44 151.31h0M130.42 152.12h0M130.05 150.01h0M129.2 145.32h0M129.15 147.51h0M137.73 140.34h0M124.97 129.36h0M138.39 152.14h0M130.44 152.67h0M132.06 152.16h0M124.49 128.98h0M138.57 134.89h0M133.58 148.83h0M137.31 137.74h0M134.25 146.42h0M132.23 152.51h0M127.9 145.69h0M128.45 143.99h0M133.79 149.45h0M131.8 152.73h0M131.1 151.56h0M126.13 134.5h0M130.21 148.32h0M132.29 152.48h0M132.64 153.02h0M134.72 144.83h0M132.31 152.74h0M128.79 143.45h0M129.87 148.46h0M124.36 128.47h0M132.44 151.08h0M128.41 152.31h0M135.64 145.63h0M130.71 150.58h0M129.94 147.34h0M127.52 145.45h0M126.47 135.97h0M129.41 150.43h0M136.79 149.47h0M135.14 147.46h0M131.23 152.54h0M137.75 134.89h0M135.54 141.7h0M131.57 153.07h0M130.38 150h0M133.19 149.58h0M134.91 144.11h0M129.98 148.19h0M135.86 150.38h0M130.77 150.63h0M128.69 145.11h0M125.48 151.19h0M136.7 139.31h0M127.21 138.95h0M137.69 139.35h0M131.56 153.03h0M132.17 152.74h0M131.86 153.02h0M129.49 146.2h0M129.39 149.79h0M131.97 152.26h0M132.51 150.98h0M137.24 149.65h0M130.71 150.12h0M129.27 145.25h0M128.9 146.76h0M131.79 152.68h0M137.45 141.77h0M138.88 149.82h0M126.5 138.72h0M126.97 136.38h0M133.53 152.55h0M138.93 153.08h0M130.29 152.76h0M134.43 145.99h0M132.88 153h0M131.57 153.04h0M128.13 149.97h0M138.98 132.71h0M126.51 152.96h0M125.67 132.21h0M131.93 152.81h0M136.15 144.26h0M128.97 152.14h0M126.69 135.5h0M125.66 146.37h0M129.36 145.55h0M137.4 136.55h0M138.42 134.82h0M124.83 135.15h0M128.85 146.81h0M128.69 143.54h0M131.53 153.09h0M129.96 152.89h0M128.77 151.04h0M135.94 141.63h0M126.75 138.95h0M128.49 147.41h0M125.88 135.12h0M125.15 132.23h0M136.44 138.84h0M128.39 143.02h0M124.7 150.67h0M126.49 153h0M128.18 152.97h0M130.76 151.34h0M126.54 135.06h0M138.4 136.54h0M138.29 133.59h0M126.12 152.05h0M137.53 139.22h0M129.64 146.94h0M137.13 138.06h0M131.79 152.63h0M129.89 151.38h0M128.79 146.47h0M125.46 132.59h0M134.02 147.17h0M132.52 151.01h0M125.16 129.04h0M127.54 138.78h0M130.17 150.26h0M137.28 152.9h0M128.28 143.02h0M134.27 152.33h0M130.3 151.06h0M127.87 151.73h0M133.51 149.48h0M135.07 153.09h0M124.77 135h0M127.12 137.34h0M128.79 152.87h0M136.64 138.73h0M134.81 146.37h0M129.36 146.12h0M136.56 152.16h0M124.82 144.62h0M124.88 134.77h0M127.3 144.75h0M125.46 150.16h0M135.27 152.44h0M125.51 149.67h0M137.98 143.26h0M136.5 150.56h0M124.99 149.27h0M131.78 153.1h0M135.49 144.31h0M134.61 152.65h0M132.29 152.41h0M132.25 151.66h0M130.29 148.89h0M128.79 143.82h0M127.71 143h0M131.83 152.62h0M128.62 152.95h0M132.54 150.73h0M136.28 139.37h0M134.07 146.88h0M131.02 151.83h0M125.88 133.7h0M125.08 131.25h0M127.11 150.28h0M125.86 135.74h0M126.67 135.62h0M124.34 138.59h0M125.43 131.07h0M132.54 151.07h0M127 136.44h0M124.3 142.66h0M133.5 151.01h0M127.91 140.1h0M135.67 152.28h0M126.94 141.24h0M137.93 134.78h0M135.82 146.65h0M129.03 144.66h0M129.65 147.31h0M129.66 152.81h0M124.79 134.13h0M134.65 145.31h0M131.52 152.92h0M126.52 135.67h0M134.39 145.38h0M130.76 153.09h0M124.77 130.49h0M124.22 133.42h0M135.86 144.31h0M128.38 150.41h0M130.43 150.19h0M136.44 152.83h0M128.57 143.41h0M132.54 150.61h0M128.98 144.5h0M138.59 137.75h0M138.64 145.68h0M136.22 141.13h0M128.59 144.92h0M138.32 134.92h0M129.28 153.1h0M126.98 150.21h0M125.44 150.49h0M132.8 150.24h0M132.04 152.02h0M126.86 148.45h0M125.85 152.06h0M125.59 132.05h0M127.91 141.51h0M132.68 150.28h0M131.8 152.69h0M125.27 131.81h0M136.99 138.23h0M125.88 142.74h0M125.7 150.3h0M126.72 148.02h0M135.68 145.05h0M135.7 141.26h0M124.41 131.27h0M127.34 138.39h0M137.37 140.35h0M132.53 151.22h0M126.67 151.39h0M135.51 145.58h0M126 136.55h0M135.12 148.09h0M124.83 152.94h0M132.32 153.08h0M137.91 152.17h0M127.05 138.7h0M125.87 136.58h0M125.82 152.57h0M132.41 151.08h0M126.32 148.1h0M134.41 145.88h0M124.38 130.89h0M126.42 138.76h0M124.71 133.9h0M136.32 151.31h0M131.24 152.07h0M137.14 153.04h0M129.07 145.56h0M137.45 137.67h0M129.54 146.06h0M132.74 149.99h0M132.77 149.92h0M124.48 128h0M126.34 151.99h0M128.24 141h0M128.07 146.62h0M138.9 132.97h0M132.5 151.29h0M135.67 148.71h0M129.57 146.74h0M138.11 151.68h0M135.51 150.51h0M133.61 149.63h0M132.35 151.41h0M128.98 151.22h0M129.63 146.63h0M127.66 138.98h0M137.11 136.99h0M130.79 150.48h0M125.16 131.82h0M128.76 150.35h0M138.09 138.14h0M125.37 132.77h0M132.79 152.76h0M135.67 141.75h0M131.37 153.06h0M128 140.76h0M126.62 135.47h0M130.11 148.62h0M133.13 151.46h0M127.1 137.89h0M133.1 149.54h0M129.24 147.91h0M126.97 139.54h0M137.88 138.07h0M129.03 149.56h0M130.19 152.65h0M125.03 135.15h0M129.14 145.05h0M133.05 149.18h0M137.91 134.3h0M138.83 136.53h0M129.06 145.96h0M126.5 134.43h0M136.26 140.51h0M132.17 151.99h0M133.11 149.31h0M135.18 143.51h0M135.7 145.04h0M135.65 151.02h0M128.31 142.39h0M124.31 126.76h0M133.91 152.39h0M138.86 131.22h0M124.59 129.09h0M125.07 131.6h0M138.13 134.33h0M126.4 134.53h0M126.59 142.92h0M135.73 143.81h0M133.62 147.52h0M136.06 142.49h0M125.78 153.05h0M133.76 149.34h0M137 140.05h0M137.82 146.42h0M127.51 139.35h0M128.07 140.51h0M135.45 152.31h0M138.94 133.89h0M132.63 151.02h0M128.15 144.95h0M128.37 145.01h0M131.39 153.09h0M134.31 147.26h0M137.28 137.44h0M137.29 137.37h0M126.89 135.95h0M128.6 146.53h0M125.84 153.1h0M137.71 134.95h0M126.68 153.01h0M129.22 149.04h0M137.27 153.09h0M127.66 146.76h0M124.74 129.71h0M127.62 139.03h0M138.88 131.63h0M137.22 138.14h0M130.54 149.51h0M134.35 145.32h0M125.85 136.75h0M131.54 153.08h0M127.37 141.33h0M135.03 143.8h0M125.2 132.57h0M131.73 152.84h0M124.34 142.41h0M132.25 151.47h0M134.42 147.05h0M134.83 144.53h0M138.62 135.94h0M129.9 149.81h0M124.26 129.77h0M127.96 151.55h0M140.96 153.05h0M133.82 151.22h0M135.88 152.49h0M124.46 151.17h0M133.17 152.25h0M135.9 152.01h0M130.72 153.04h0M131.57 153.04h0M125.06 151.34h0M131.32 152.14h0M131.52 151.61h0M127.6 151.6h0M135.24 151.84h0M134.13 151.6h0M128.33 152.29h0M135.83 152.2h0M130.97 152.32h0M129.9 151.85h0M129.55 152.82h0M127.61 152.18h0M131.95 151.21h0M137.55 151.53h0M130.87 150.73h0M130.55 153.04h0M133.65 152.46h0M128.26 151.54h0M126.76 151.02h0M127.45 151.86h0M132.48 151.9h0M126.24 152.56h0M132.95 153.09h0M133.16 151.63h0M136.32 151.67h0M131.11 151.98h0M133.36 151.08h0M131.5 151.68h0M132.79 152.44h0M126.23 151.93h0M135.68 152.03h0M134.6 153h0M134.8 152.41h0M134.36 152.23h0M131.85 152.69h0M131.11 152.19h0M136.39 152.92h0M134.52 152.97h0M137.92 151.53h0M134.18 152.54h0M129.86 151.04h0M134.35 152.17h0M129.43 151.73h0M132.58 151.71h0M135.51 152.72h0M134.88 151.67h0M126.71 152.32h0M134.24 150.47h0M127.99 151.84h0M139.91 152.8h0M128.47 152.51h0M129.02 151.11h0M134.01 151.93h0M134.4 150.27h0M131.75 153.09h0M130.84 151.88h0M129.55 150.66h0M133.1 151.82h0M133.53 152.01h0M129.31 151.53h0M131.82 152.21h0M127.16 153.02h0M128.22 151.18h0M132.87 150.98h0M129.7 153.02h0M129.94 153h0M132.92 152.85h0M130.19 151.23h0M134.54 152.69h0M131.16 152.23h0M126.83 152.66h0M131.72 152.6h0M128.36 149.08h0M125.65 152.01h0M125.42 152.38h0M133.99 152.96h0M131.56 152.05h0M131.41 153.01h0M134.48 153.02h0M138.2 151.62h0M130.23 152.73h0M132.12 152.21h0M137.92 152.27h0M125.37 153.06h0M133.84 151.56h0M132.93 152.07h0M134.26 151.36h0M131.91 151.53h0M136.09 152.19h0M138.73 152.7h0M131.23 152.46h0M135.39 151.67h0M133.93 152.63h0M133.99 152.79h0M128.94 152.52h0M125.77 151.89h0M129.59 151.79h0M130.16 152.77h0M130.8 151.38h0M133.53 150.6h0M133.61 151.51h0M133.56 151.84h0M138.43 150.91h0M129.36 151.13h0M131.66 152.6h0M129.11 152.49h0M137.78 151.31h0M137.52 152.94h0M133.08 151.2h0M134.89 151.8h0M130.55 152.55h0M129.43 151.44h0M128.77 152.85h0M132.54 152.97h0M130.68 152.54h0M129.21 152.91h0M135.98 152.39h0M135.49 151.46h0M137.66 151.96h0M137.32 151.74h0M136.48 151.8h0M131.18 151.84h0M132.27 152.51h0M129.76 152.54h0M131.18 151.03h0M132.79 151.31h0M133.75 151.24h0M135.73 150.96h0M136.85 149.99h0M131.41 152.03h0M131.14 151.84h0M136.14 150.07h0M131.77 151.84h0M133.72 151.94h0M128.2 152.55h0M131.24 152.43h0M133.64 151.11h0M127.58 152.67h0M139.11 151.36h0M132.51 151.92h0M130.98 151.3h0M129.93 151.98h0M132.53 152.16h0M132.38 153.06h0M129.51 152.84h0M128.87 151.58h0M133.41 151.73h0M133.99 152.68h0M127.23 152.77h0M131.81 152.51h0M131.47 152.68h0M130.18 152.02h0M130.13 151.73h0M135.09 152.69h0M133.35 152h0M130.52 151.64h0M125.92 152.36h0M131.83 150.86h0M135.42 151.96h0M134.22 152.46h0M131.23 152.33h0M132 151.58h0M130.72 152.52h0M133.24 152.37h0M132.88 152.42h0M133.37 152.03h0M128.75 152.92h0M131.23 151.67h0M130.25 152.66h0M127.4 152.75h0M129.37 153.1h0M129.67 153.07h0M132.43 151.86h0M134.11 152.38h0M138.38 151.61h0M133.82 152.92h0M136.07 152.66h0M126.46 152.19h0M132.55 150.06h0M126.04 151.34h0M132.79 152.24h0M125.87 151.79h0M136.7 150.23h0M133.39 149.99h0M132.14 151.96h0M133.39 152.26h0M132.91 152.9h0M126.59 152.4h0M134.1 152.54h0M133.31 152.88h0M134.54 148.63h0M129.87 152.71h0M127.91 150.82h0M131.7 151.26h0M128.56 152.53h0M129.92 151.31h0M127.03 152.97h0M130.17 152.85h0M128.57 151.31h0M138.99 152.09h0M126.71 151.47h0M136.3 150.47h0M128.81 153.02h0M125.29 152.53h0M127.38 150.85h0M134.07 152.53h0M125 152.09h0M139.7 149.99h0M130.01 150.52h0M137.44 152.87h0M129.13 152.6h0M129.54 152.63h0M135.1 152.97h0M135.48 151.43h0M128.83 152.78h0M128.37 152.61h0M125.8 151.82h0M124.34 152.49h0M128.57 151.47h0M134.13 152.48h0M128.99 151.03h0M128.03 153.07h0M131.29 152.86h0M131.64 151.25h0M135.51 151.54h0M133.83 151.95h0M132.4 152.82h0M134.64 152.08h0M127.75 152.95h0M132.98 152.83h0M136.74 151.29h0M133.35 152.87h0M130.01 152.94h0M130.71 152.73h0M129.69 152.66h0M139.92 152.49h0M133.41 151.71h0M128.68 152.07h0M129.53 149.82h0M131.62 149.17h0M131.18 152.18h0M137.44 152.26h0M135.08 152.28h0M131.6 151.74h0M130.35 152.74h0M129.24 152.74h0M132.83 150.63h0M129.44 151.83h0M131.32 150.59h0M128.53 152.84h0M130.45 152.09h0M129.06 151.9h0M130.77 152.12h0M127.6 151.96h0M134.45 151.82h0M125.08 151.85h0M131.64 152.65h0M131.43 152.09h0M127.24 151.76h0M130.32 153.08h0M124.57 152.81h0M126.09 151.96h0M132.25 150.98h0M137.86 152.53h0M130.42 151.63h0M129.31 151.84h0M132.56 153.07h0M126.82 152.67h0M137.16 152.68h0M135.65 149.91h0M136.01 151.69h0M126.74 152.53h0M128.67 151.09h0M130.39 152.72h0M129.09 152.2h0M135.32 152.03h0M126.33 152.69h0M133.1 150.42h0M130.91 151.97h0M136.26 152.56h0M134.14 152.06h0M132.53 150.56h0M137.45 152.28h0M131.09 151.95h0M139.06 152.72h0M134.38 152.52h0M132.2 153.02h0M134.93 150.56h0M137.26 153.01h0M133.84 151.89h0M129.62 152.13h0M127.54 152.9h0M128.74 151.82h0M136.19 151.45h0M132.39 152.05h0M126.7 152.9h0M134.73 151.7h0M129.57 152.66h0M136.17 152.96h0M137.33 150.72h0M133.21 151.98h0M130.33 152.14h0M130.63 153.08h0M132.87 151h0M129.92 152.51h0M128.5 152.87h0M130.08 152.44h0M136.1 151.28h0M130.63 152.29h0M126.21 150.64h0M136.48 153.04h0M128.55 151.24h0M135.38 152.61h0M133.33 151.98h0M128.63 151.16h0M130.94 152.53h0M130.56 152.84h0M132.65 151.77h0M133.65 151.93h0M127.63 151.92h0M130.01 152.16h0M130.41 151.8h0M126.73 152.7h0M129.98 152.06h0M126.67 150.29h0M131.57 151.36h0M128.33 152.28h0M127.24 152.6h0M130.38 152.52h0M126.61 152.3h0M129.86 151.47h0M133.46 152.63h0M129.22 152.88h0M133.91 151.46h0M134.39 150.76h0M130.65 151.8h0M135.6 150.84h0M134.39 153.05h0M131.85 152.61h0M130.28 153.03h0M132.75 151.52h0M133.02 152.97h0M130.71 152.8h0M130.17 152.8h0M136.24 152.47h0M134.13 152.26h0M130.62 152.86h0M129.4 151.83h0M126.46 152.78h0M131.41 153.04h0M130.81 151.72h0M131.5 151.39h0M133.42 152.82h0M127.23 151.83h0M133.95 152.3h0M130.33 150.18h0M123.46 151.98h0M123.57 151.26h0M140.18 151.75h0M133.25 152.14h0M134.34 152.25h0M126.82 151.95h0M132.46 152.61h0M134.75 152.92h0M133.75 152.96h0M127.59 152.29h0M132.43 152.85h0M129.48 152.94h0M135.86 152.03h0M123.04 153.05h0M123.47 151.26h0M129.02 153.01h0M130.42 153.04h0M132.12 151.72h0M127.56 152.4h0M129.69 152.62h0M133.17 150.37h0M123.99 152.96h0M132.54 152.54h0M134.39 151.19h0M128.02 152.51h0M132.03 152.5h0M132.8 152.85h0M127.89 150.21h0M131.16 152.69h0M127.95 152.8h0M130.03 151.79h0M134.32 152.2h0M131.49 153.1h0M132.29 151.36h0M128.75 149.63h0M128.44 151.13h0M133.7 151.31h0M135.66 152.72h0M130.1 152.19h0M131.79 152h0M129.94 150.63h0M131.96 152.77h0M127.97 150.45h0M133.48 152.61h0M131.33 152.28h0M135.79 151.96h0M129.06 152.53h0M129.86 152.98h0M138.85 152.64h0M132.65 152.53h0M130.66 152.65h0M135.11 151.49h0M129.17 152.72h0M128.14 151.18h0M133.81 151.7h0M132.85 151.51h0M134.53 152.88h0M129.19 151.91h0M127.46 152.38h0M131.93 151.61h0M129.16 152.2h0M132.55 152.16h0M131.4 151.3h0M135.28 152.27h0M127.37 153.08h0M130.67 150.11h0M136.67 152.98h0M130.72 152.17h0M132.35 152.26h0M130.61 151.67h0M124.8 151.2h0M125.87 153.04h0M133.52 150.9h0M132.24 150.29h0M137.05 152.89h0M129.52 152.83h0M129.74 152.48h0M131.48 152.47h0M124.78 153.02h0M131.49 152.1h0M128.18 152.43h0M128.04 151.81h0M128.53 152.94h0M130.32 151.54h0M133 152.76h0M134.85 150.93h0M131.86 150.66h0M132.55 152.55h0M128.18 151.73h0M134.96 152.73h0M135.01 150.33h0M137.45 151.93h0M130.71 151.33h0M134.61 151.6h0M126.35 152.09h0M133.5 152.38h0M136.95 152.03h0M135.25 150.87h0M130.83 152.58h0M131.66 151.58h0M134.96 151.8h0M129.25 151.81h0M132.54 151.64h0M128.5 151.25h0M128.88 152.26h0M124.54 152.01h0M127.07 151.15h0M132.56 152.28h0M128.73 152.5h0M130.14 151.77h0M130.33 152.83h0M129.15 152.72h0M134.54 152.84h0M132.93 149.64h0M134.9 151.37h0M125.22 152.91h0M125.26 150.9h0M131.4 152.95h0M134.1 152.87h0M131.96 152.77h0M138.51 152.07h0M130.18 152.81h0M125.88 151.3h0M127.81 152.49h0M131.29 152.58h0M129.02 152.22h0M129.31 149.78h0M129.59 152.24h0M135.08 152.14h0M128.24 151.86h0M130.3 151.38h0M128.97 152.54h0M131.31 152.85h0M134.27 152.92h0M131.29 152.97h0M136.89 152.28h0" stroke="#111111" stroke-width="1.2" stroke-linecap="round" fill="none"/>
<rect x="32" y="25.2" width="166.6" height="135.1" fill="none" stroke="#7f7f7f" stroke-width="0.8"/>
<line x1="29.8" y1="153.1" x2="32" y2="153.1" stroke="#7f7f7f" stroke-width="0.7"/>
<text x="28.8" y="156.4" font-size="8.2" text-anchor="end" fill="#4d4d4d" stroke="#4d4d4d" stroke-width="0.2">0</text>
<line x1="29.8" y1="120.25" x2="32" y2="120.25" stroke="#7f7f7f" stroke-width="0.7"/>
<text x="28.8" y="123.55" font-size="8.2" text-anchor="end" fill="#4d4d4d" stroke="#4d4d4d" stroke-width="0.2">30</text>
<line x1="29.8" y1="87.4" x2="32" y2="87.4" stroke="#7f7f7f" stroke-width="0.7"/>
<text x="28.8" y="90.7" font-size="8.2" text-anchor="end" fill="#4d4d4d" stroke="#4d4d4d" stroke-width="0.2">60</text>
<line x1="29.8" y1="54.55" x2="32" y2="54.55" stroke="#7f7f7f" stroke-width="0.7"/>
<text x="28.8" y="57.85" font-size="8.2" text-anchor="end" fill="#4d4d4d" stroke="#4d4d4d" stroke-width="0.2">90</text>
<line x1="57.4" y1="160.3" x2="57.4" y2="162.5" stroke="#7f7f7f" stroke-width="0.7"/>
<text x="57.4" y="168.9" font-size="8.2" text-anchor="middle" fill="#4d4d4d" stroke="#4d4d4d" stroke-width="0.2">-10</text>
<line x1="94.5" y1="160.3" x2="94.5" y2="162.5" stroke="#7f7f7f" stroke-width="0.7"/>
<text x="94.5" y="168.9" font-size="8.2" text-anchor="middle" fill="#4d4d4d" stroke="#4d4d4d" stroke-width="0.2">-5</text>
<line x1="131.6" y1="160.3" x2="131.6" y2="162.5" stroke="#7f7f7f" stroke-width="0.7"/>
<text x="131.6" y="168.9" font-size="8.2" text-anchor="middle" fill="#4d4d4d" stroke="#4d4d4d" stroke-width="0.2">0</text>
<line x1="168.7" y1="160.3" x2="168.7" y2="162.5" stroke="#7f7f7f" stroke-width="0.7"/>
<text x="168.7" y="168.9" font-size="8.2" text-anchor="middle" fill="#4d4d4d" stroke="#4d4d4d" stroke-width="0.2">5</text>
<text x="115.5" y="23.2" font-size="8.4" text-anchor="middle" stroke="#231f20" stroke-width="0.2"><tspan font-style="italic">gcn5</tspan>Δ vs WT</text>
<text x="115.3" y="177" font-size="8.2" text-anchor="middle" stroke="#231f20" stroke-width="0.2">Log<tspan font-size="5" dy="1.5">2</tspan><tspan dy="-1.5"> Fold Change</tspan></text>
<text x="17.3" y="92.8" font-size="8.2" text-anchor="middle" stroke="#231f20" stroke-width="0.2" transform="rotate(-90 17.3 92.8)">-Log<tspan font-size="5" dy="1.5">10</tspan><tspan dy="-1.5"> (padj)</tspan></text>
<circle cx="210.2" cy="87.1" r="2.0" fill="#e6323c"/>
<text x="213.6" y="89.8" font-size="8.5" stroke="#231f20" stroke-width="0.2">up</text>
<circle cx="210.2" cy="96.5" r="2.0" fill="#4470c0"/>
<text x="213.6" y="99.2" font-size="8.5" stroke="#231f20" stroke-width="0.2">down</text>
<circle cx="210.2" cy="105.9" r="2.0" fill="#2a2a2a"/>
<text x="213.6" y="108.6" font-size="8.5" stroke="#231f20" stroke-width="0.2">nosig</text>
<text x="235.9" y="12.2" font-size="16.5" stroke="#231f20" stroke-width="0.2">b</text>
<g shape-rendering="crispEdges"><rect x="246" y="17.9" width="4.71" height="7.98" fill="#e2dcf0"/><rect x="250.66" y="17.9" width="4.71" height="7.98" fill="#e2dcf0"/><rect x="255.32" y="17.9" width="4.71" height="7.98" fill="#e2dcf0"/><rect x="259.98" y="17.9" width="4.71" height="7.98" fill="#c4b4f4"/><rect x="264.64" y="17.9" width="4.71" height="7.98" fill="#c4b4f4"/><rect x="269.3" y="17.9" width="4.71" height="7.98" fill="#ff9478"/><rect x="273.96" y="17.9" width="4.71" height="7.98" fill="#f4e2de"/><rect x="278.62" y="17.9" width="4.71" height="7.98" fill="#e2dcf0"/><rect x="283.28" y="17.9" width="4.71" height="7.98" fill="#e2dcf0"/><rect x="287.94" y="17.9" width="4.71" height="7.98" fill="#ff0000"/><rect x="292.6" y="17.9" width="4.71" height="7.98" fill="#ff6a4a"/><rect x="297.26" y="17.9" width="4.71" height="7.98" fill="#ff0000"/><rect x="246" y="25.83" width="4.71" height="7.98" fill="#c4b4f4"/><rect x="250.66" y="25.83" width="4.71" height="7.98" fill="#c4b4f4"/><rect x="255.32" y="25.83" width="4.71" height="7.98" fill="#c4b4f4"/><rect x="259.98" y="25.83" width="4.71" height="7.98" fill="#fccabc"/><rect x="264.64" y="25.83" width="4.71" height="7.98" fill="#e2dcf0"/><rect x="269.3" y="25.83" width="4.71" height="7.98" fill="#fccabc"/><rect x="273.96" y="25.83" width="4.71" height="7.98" fill="#d4c8f2"/><rect x="278.62" y="25.83" width="4.71" height="7.98" fill="#e2dcf0"/><rect x="283.28" y="25.83" width="4.71" height="7.98" fill="#eeecee"/><rect x="287.94" y="25.83" width="4.71" height="7.98" fill="#ff3a20"/><rect x="292.6" y="25.83" width="4.71" height="7.98" fill="#ff0000"/><rect x="297.26" y="25.83" width="4.71" height="7.98" fill="#ff3a20"/><rect x="246" y="33.76" width="4.71" height="7.98" fill="#c4b4f4"/><rect x="250.66" y="33.76" width="4.71" height="7.98" fill="#d4c8f2"/><rect x="255.32" y="33.76" width="4.71" height="7.98" fill="#c4b4f4"/><rect x="259.98" y="33.76" width="4.71" height="7.98" fill="#e2dcf0"/><rect x="264.64" y="33.76" width="4.71" height="7.98" fill="#d4c8f2"/><rect x="269.3" y="33.76" width="4.71" height="7.98" fill="#e2dcf0"/><rect x="273.96" y="33.76" width="4.71" height="7.98" fill="#e2dcf0"/><rect x="278.62" y="33.76" width="4.71" height="7.98" fill="#e2dcf0"/><rect x="283.28" y="33.76" width="4.71" height="7.98" fill="#e2dcf0"/><rect x="287.94" y="33.76" width="4.71" height="7.98" fill="#ff0000"/><rect x="292.6" y="33.76" width="4.71" height="7.98" fill="#ff0000"/><rect x="297.26" y="33.76" width="4.71" height="7.98" fill="#ff3a20"/><rect x="246" y="41.69" width="4.71" height="7.98" fill="#fccabc"/><rect x="250.66" y="41.69" width="4.71" height="7.98" fill="#f4e2de"/><rect x="255.32" y="41.69" width="4.71" height="7.98" fill="#ffb09c"/><rect x="259.98" y="41.69" width="4.71" height="7.98" fill="#c4b4f4"/><rect x="264.64" y="41.69" width="4.71" height="7.98" fill="#9c80f8"/><rect x="269.3" y="41.69" width="4.71" height="7.98" fill="#9c80f8"/><rect x="273.96" y="41.69" width="4.71" height="7.98" fill="#ff9478"/><rect x="278.62" y="41.69" width="4.71" height="7.98" fill="#fccabc"/><rect x="283.28" y="41.69" width="4.71" height="7.98" fill="#ff9478"/><rect x="287.94" y="41.69" width="4.71" height="7.98" fill="#b09af6"/><rect x="292.6" y="41.69" width="4.71" height="7.98" fill="#b09af6"/><rect x="297.26" y="41.69" width="4.71" height="7.98" fill="#b09af6"/><rect x="246" y="49.62" width="4.71" height="7.98" fill="#d4c8f2"/><rect x="250.66" y="49.62" width="4.71" height="7.98" fill="#d4c8f2"/><rect x="255.32" y="49.62" width="4.71" height="7.98" fill="#d4c8f2"/><rect x="259.98" y="49.62" width="4.71" height="7.98" fill="#eeecee"/><rect x="264.64" y="49.62" width="4.71" height="7.98" fill="#eeecee"/><rect x="269.3" y="49.62" width="4.71" height="7.98" fill="#b09af6"/><rect x="273.96" y="49.62" width="4.71" height="7.98" fill="#ff9478"/><rect x="278.62" y="49.62" width="4.71" height="7.98" fill="#eeecee"/><rect x="283.28" y="49.62" width="4.71" height="7.98" fill="#eeecee"/><rect x="287.94" y="49.62" width="4.71" height="7.98" fill="#9c80f8"/><rect x="292.6" y="49.62" width="4.71" height="7.98" fill="#9c80f8"/><rect x="297.26" y="49.62" width="4.71" height="7.98" fill="#b09af6"/><rect x="246" y="57.55" width="4.71" height="7.98" fill="#c4b4f4"/><rect x="250.66" y="57.55" width="4.71" height="7.98" fill="#c4b4f4"/><rect x="255.32" y="57.55" width="4.71" height="7.98" fill="#c4b4f4"/><rect x="259.98" y="57.55" width="4.71" height="7.98" fill="#e2dcf0"/><rect x="264.64" y="57.55" width="4.71" height="7.98" fill="#f4e2de"/><rect x="269.3" y="57.55" width="4.71" height="7.98" fill="#d4c8f2"/><rect x="273.96" y="57.55" width="4.71" height="7.98" fill="#ff0000"/><rect x="278.62" y="57.55" width="4.71" height="7.98" fill="#f4e2de"/><rect x="283.28" y="57.55" width="4.71" height="7.98" fill="#f4e2de"/><rect x="287.94" y="57.55" width="4.71" height="7.98" fill="#d4c8f2"/><rect x="292.6" y="57.55" width="4.71" height="7.98" fill="#d4c8f2"/><rect x="297.26" y="57.55" width="4.71" height="7.98" fill="#d4c8f2"/><rect x="246" y="65.48" width="4.71" height="7.98" fill="#c4b4f4"/><rect x="250.66" y="65.48" width="4.71" height="7.98" fill="#c4b4f4"/><rect x="255.32" y="65.48" width="4.71" height="7.98" fill="#c4b4f4"/><rect x="259.98" y="65.48" width="4.71" height="7.98" fill="#d4c8f2"/><rect x="264.64" y="65.48" width="4.71" height="7.98" fill="#d4c8f2"/><rect x="269.3" y="65.48" width="4.71" height="7.98" fill="#c4b4f4"/><rect x="273.96" y="65.48" width="4.71" height="7.98" fill="#ff0000"/><rect x="278.62" y="65.48" width="4.71" height="7.98" fill="#fccabc"/><rect x="283.28" y="65.48" width="4.71" height="7.98" fill="#fccabc"/><rect x="287.94" y="65.48" width="4.71" height="7.98" fill="#e2dcf0"/><rect x="292.6" y="65.48" width="4.71" height="7.98" fill="#e2dcf0"/><rect x="297.26" y="65.48" width="4.71" height="7.98" fill="#e2dcf0"/><rect x="246" y="73.41" width="4.71" height="7.98" fill="#c4b4f4"/><rect x="250.66" y="73.41" width="4.71" height="7.98" fill="#c4b4f4"/><rect x="255.32" y="73.41" width="4.71" height="7.98" fill="#c4b4f4"/><rect x="259.98" y="73.41" width="4.71" height="7.98" fill="#d4c8f2"/><rect x="264.64" y="73.41" width="4.71" height="7.98" fill="#e2dcf0"/><rect x="269.3" y="73.41" width="4.71" height="7.98" fill="#c4b4f4"/><rect x="273.96" y="73.41" width="4.71" height="7.98" fill="#ff0000"/><rect x="278.62" y="73.41" width="4.71" height="7.98" fill="#fccabc"/><rect x="283.28" y="73.41" width="4.71" height="7.98" fill="#ffb09c"/><rect x="287.94" y="73.41" width="4.71" height="7.98" fill="#d4c8f2"/><rect x="292.6" y="73.41" width="4.71" height="7.98" fill="#d4c8f2"/><rect x="297.26" y="73.41" width="4.71" height="7.98" fill="#c4b4f4"/><rect x="246" y="81.34" width="4.71" height="7.98" fill="#c4b4f4"/><rect x="250.66" y="81.34" width="4.71" height="7.98" fill="#c4b4f4"/><rect x="255.32" y="81.34" width="4.71" height="7.98" fill="#c4b4f4"/><rect x="259.98" y="81.34" width="4.71" height="7.98" fill="#c4b4f4"/><rect x="264.64" y="81.34" width="4.71" height="7.98" fill="#c4b4f4"/><rect x="269.3" y="81.34" width="4.71" height="7.98" fill="#c4b4f4"/><rect x="273.96" y="81.34" width="4.71" height="7.98" fill="#ff0000"/><rect x="278.62" y="81.34" width="4.71" height="7.98" fill="#fccabc"/><rect x="283.28" y="81.34" width="4.71" height="7.98" fill="#fccabc"/><rect x="287.94" y="81.34" width="4.71" height="7.98" fill="#d4c8f2"/><rect x="292.6" y="81.34" width="4.71" height="7.98" fill="#d4c8f2"/><rect x="297.26" y="81.34" width="4.71" height="7.98" fill="#e2dcf0"/><rect x="246" y="89.27" width="4.71" height="7.98" fill="#c4b4f4"/><rect x="250.66" y="89.27" width="4.71" height="7.98" fill="#b09af6"/><rect x="255.32" y="89.27" width="4.71" height="7.98" fill="#b09af6"/><rect x="259.98" y="89.27" width="4.71" height="7.98" fill="#c4b4f4"/><rect x="264.64" y="89.27" width="4.71" height="7.98" fill="#b09af6"/><rect x="269.3" y="89.27" width="4.71" height="7.98" fill="#c4b4f4"/><rect x="273.96" y="89.27" width="4.71" height="7.98" fill="#ff6a4a"/><rect x="278.62" y="89.27" width="4.71" height="7.98" fill="#ffb09c"/><rect x="283.28" y="89.27" width="4.71" height="7.98" fill="#ffb09c"/><rect x="287.94" y="89.27" width="4.71" height="7.98" fill="#d4c8f2"/><rect x="292.6" y="89.27" width="4.71" height="7.98" fill="#d4c8f2"/><rect x="297.26" y="89.27" width="4.71" height="7.98" fill="#d4c8f2"/><rect x="246" y="97.2" width="4.71" height="7.98" fill="#b09af6"/><rect x="250.66" y="97.2" width="4.71" height="7.98" fill="#b09af6"/><rect x="255.32" y="97.2" width="4.71" height="7.98" fill="#b09af6"/><rect x="259.98" y="97.2" width="4.71" height="7.98" fill="#eeecee"/><rect x="264.64" y="97.2" width="4.71" height="7.98" fill="#eeecee"/><rect x="269.3" y="97.2" width="4.71" height="7.98" fill="#e2dcf0"/><rect x="273.96" y="97.2" width="4.71" height="7.98" fill="#ff9478"/><rect x="278.62" y="97.2" width="4.71" height="7.98" fill="#ff9478"/><rect x="283.28" y="97.2" width="4.71" height="7.98" fill="#ff9478"/><rect x="287.94" y="97.2" width="4.71" height="7.98" fill="#c4b4f4"/><rect x="292.6" y="97.2" width="4.71" height="7.98" fill="#c4b4f4"/><rect x="297.26" y="97.2" width="4.71" height="7.98" fill="#c4b4f4"/><rect x="246" y="105.13" width="4.71" height="7.98" fill="#b09af6"/><rect x="250.66" y="105.13" width="4.71" height="7.98" fill="#b09af6"/><rect x="255.32" y="105.13" width="4.71" height="7.98" fill="#b09af6"/><rect x="259.98" y="105.13" width="4.71" height="7.98" fill="#d4c8f2"/><rect x="264.64" y="105.13" width="4.71" height="7.98" fill="#d4c8f2"/><rect x="269.3" y="105.13" width="4.71" height="7.98" fill="#c4b4f4"/><rect x="273.96" y="105.13" width="4.71" height="7.98" fill="#ff6a4a"/><rect x="278.62" y="105.13" width="4.71" height="7.98" fill="#ffb09c"/><rect x="283.28" y="105.13" width="4.71" height="7.98" fill="#ffb09c"/><rect x="287.94" y="105.13" width="4.71" height="7.98" fill="#e2dcf0"/><rect x="292.6" y="105.13" width="4.71" height="7.98" fill="#e2dcf0"/><rect x="297.26" y="105.13" width="4.71" height="7.98" fill="#e2dcf0"/><rect x="246" y="113.06" width="4.71" height="7.98" fill="#c4b4f4"/><rect x="250.66" y="113.06" width="4.71" height="7.98" fill="#c4b4f4"/><rect x="255.32" y="113.06" width="4.71" height="7.98" fill="#c4b4f4"/><rect x="259.98" y="113.06" width="4.71" height="7.98" fill="#d4c8f2"/><rect x="264.64" y="113.06" width="4.71" height="7.98" fill="#b09af6"/><rect x="269.3" y="113.06" width="4.71" height="7.98" fill="#c4b4f4"/><rect x="273.96" y="113.06" width="4.71" height="7.98" fill="#ff6a4a"/><rect x="278.62" y="113.06" width="4.71" height="7.98" fill="#ff9478"/><rect x="283.28" y="113.06" width="4.71" height="7.98" fill="#ff9478"/><rect x="287.94" y="113.06" width="4.71" height="7.98" fill="#e2dcf0"/><rect x="292.6" y="113.06" width="4.71" height="7.98" fill="#d4c8f2"/><rect x="297.26" y="113.06" width="4.71" height="7.98" fill="#e2dcf0"/><rect x="246" y="120.99" width="4.71" height="7.98" fill="#d4c8f2"/><rect x="250.66" y="120.99" width="4.71" height="7.98" fill="#d4c8f2"/><rect x="255.32" y="120.99" width="4.71" height="7.98" fill="#d4c8f2"/><rect x="259.98" y="120.99" width="4.71" height="7.98" fill="#c4b4f4"/><rect x="264.64" y="120.99" width="4.71" height="7.98" fill="#b09af6"/><rect x="269.3" y="120.99" width="4.71" height="7.98" fill="#e2dcf0"/><rect x="273.96" y="120.99" width="4.71" height="7.98" fill="#ff9478"/><rect x="278.62" y="120.99" width="4.71" height="7.98" fill="#ffb09c"/><rect x="283.28" y="120.99" width="4.71" height="7.98" fill="#ff9478"/><rect x="287.94" y="120.99" width="4.71" height="7.98" fill="#c4b4f4"/><rect x="292.6" y="120.99" width="4.71" height="7.98" fill="#c4b4f4"/><rect x="297.26" y="120.99" width="4.71" height="7.98" fill="#c4b4f4"/><rect x="246" y="128.92" width="4.71" height="7.98" fill="#c4b4f4"/><rect x="250.66" y="128.92" width="4.71" height="7.98" fill="#b09af6"/><rect x="255.32" y="128.92" width="4.71" height="7.98" fill="#9c80f8"/><rect x="259.98" y="128.92" width="4.71" height="7.98" fill="#d4c8f2"/><rect x="264.64" y="128.92" width="4.71" height="7.98" fill="#f4e2de"/><rect x="269.3" y="128.92" width="4.71" height="7.98" fill="#f4e2de"/><rect x="273.96" y="128.92" width="4.71" height="7.98" fill="#ffb09c"/><rect x="278.62" y="128.92" width="4.71" height="7.98" fill="#ff9478"/><rect x="283.28" y="128.92" width="4.71" height="7.98" fill="#ff9478"/><rect x="287.94" y="128.92" width="4.71" height="7.98" fill="#e2dcf0"/><rect x="292.6" y="128.92" width="4.71" height="7.98" fill="#e2dcf0"/><rect x="297.26" y="128.92" width="4.71" height="7.98" fill="#eeecee"/><rect x="246" y="136.85" width="4.71" height="7.98" fill="#c4b4f4"/><rect x="250.66" y="136.85" width="4.71" height="7.98" fill="#c4b4f4"/><rect x="255.32" y="136.85" width="4.71" height="7.98" fill="#c4b4f4"/><rect x="259.98" y="136.85" width="4.71" height="7.98" fill="#d4c8f2"/><rect x="264.64" y="136.85" width="4.71" height="7.98" fill="#c4b4f4"/><rect x="269.3" y="136.85" width="4.71" height="7.98" fill="#c4b4f4"/><rect x="273.96" y="136.85" width="4.71" height="7.98" fill="#ff6a4a"/><rect x="278.62" y="136.85" width="4.71" height="7.98" fill="#ff6a4a"/><rect x="283.28" y="136.85" width="4.71" height="7.98" fill="#ff6a4a"/><rect x="287.94" y="136.85" width="4.71" height="7.98" fill="#c4b4f4"/><rect x="292.6" y="136.85" width="4.71" height="7.98" fill="#c4b4f4"/><rect x="297.26" y="136.85" width="4.71" height="7.98" fill="#c4b4f4"/><rect x="246" y="144.78" width="4.71" height="7.98" fill="#c4b4f4"/><rect x="250.66" y="144.78" width="4.71" height="7.98" fill="#c4b4f4"/><rect x="255.32" y="144.78" width="4.71" height="7.98" fill="#c4b4f4"/><rect x="259.98" y="144.78" width="4.71" height="7.98" fill="#c4b4f4"/><rect x="264.64" y="144.78" width="4.71" height="7.98" fill="#c4b4f4"/><rect x="269.3" y="144.78" width="4.71" height="7.98" fill="#c4b4f4"/><rect x="273.96" y="144.78" width="4.71" height="7.98" fill="#ff9478"/><rect x="278.62" y="144.78" width="4.71" height="7.98" fill="#ff6a4a"/><rect x="283.28" y="144.78" width="4.71" height="7.98" fill="#ff3a20"/><rect x="287.94" y="144.78" width="4.71" height="7.98" fill="#d4c8f2"/><rect x="292.6" y="144.78" width="4.71" height="7.98" fill="#d4c8f2"/><rect x="297.26" y="144.78" width="4.71" height="7.98" fill="#c4b4f4"/><rect x="246" y="152.71" width="4.71" height="7.98" fill="#c4b4f4"/><rect x="250.66" y="152.71" width="4.71" height="7.98" fill="#c4b4f4"/><rect x="255.32" y="152.71" width="4.71" height="7.98" fill="#c4b4f4"/><rect x="259.98" y="152.71" width="4.71" height="7.98" fill="#b09af6"/><rect x="264.64" y="152.71" width="4.71" height="7.98" fill="#c4b4f4"/><rect x="269.3" y="152.71" width="4.71" height="7.98" fill="#b09af6"/><rect x="273.96" y="152.71" width="4.71" height="7.98" fill="#ff9478"/><rect x="278.62" y="152.71" width="4.71" height="7.98" fill="#ff9478"/><rect x="283.28" y="152.71" width="4.71" height="7.98" fill="#ff9478"/><rect x="287.94" y="152.71" width="4.71" height="7.98" fill="#c4b4f4"/><rect x="292.6" y="152.71" width="4.71" height="7.98" fill="#c4b4f4"/><rect x="297.26" y="152.71" width="4.71" height="7.98" fill="#b09af6"/><rect x="246" y="160.64" width="4.71" height="7.98" fill="#c4b4f4"/><rect x="250.66" y="160.64" width="4.71" height="7.98" fill="#c4b4f4"/><rect x="255.32" y="160.64" width="4.71" height="7.98" fill="#c4b4f4"/><rect x="259.98" y="160.64" width="4.71" height="7.98" fill="#c4b4f4"/><rect x="264.64" y="160.64" width="4.71" height="7.98" fill="#c4b4f4"/><rect x="269.3" y="160.64" width="4.71" height="7.98" fill="#c4b4f4"/><rect x="273.96" y="160.64" width="4.71" height="7.98" fill="#fccabc"/><rect x="278.62" y="160.64" width="4.71" height="7.98" fill="#ff9478"/><rect x="283.28" y="160.64" width="4.71" height="7.98" fill="#ff9478"/><rect x="287.94" y="160.64" width="4.71" height="7.98" fill="#d4c8f2"/><rect x="292.6" y="160.64" width="4.71" height="7.98" fill="#d4c8f2"/><rect x="297.26" y="160.64" width="4.71" height="7.98" fill="#d4c8f2"/><rect x="246" y="168.57" width="4.71" height="7.98" fill="#e2dcf0"/><rect x="250.66" y="168.57" width="4.71" height="7.98" fill="#d4c8f2"/><rect x="255.32" y="168.57" width="4.71" height="7.98" fill="#d4c8f2"/><rect x="259.98" y="168.57" width="4.71" height="7.98" fill="#9c80f8"/><rect x="264.64" y="168.57" width="4.71" height="7.98" fill="#9c80f8"/><rect x="269.3" y="168.57" width="4.71" height="7.98" fill="#9c80f8"/><rect x="273.96" y="168.57" width="4.71" height="7.98" fill="#ff9478"/><rect x="278.62" y="168.57" width="4.71" height="7.98" fill="#ffb09c"/><rect x="283.28" y="168.57" width="4.71" height="7.98" fill="#ffb09c"/><rect x="287.94" y="168.57" width="4.71" height="7.98" fill="#9c80f8"/><rect x="292.6" y="168.57" width="4.71" height="7.98" fill="#9c80f8"/><rect x="297.26" y="168.57" width="4.71" height="7.98" fill="#9c80f8"/><rect x="246" y="176.5" width="4.71" height="7.98" fill="#b09af6"/><rect x="250.66" y="176.5" width="4.71" height="7.98" fill="#c4b4f4"/><rect x="255.32" y="176.5" width="4.71" height="7.98" fill="#d4c8f2"/><rect x="259.98" y="176.5" width="4.71" height="7.98" fill="#8868fc"/><rect x="264.64" y="176.5" width="4.71" height="7.98" fill="#8868fc"/><rect x="269.3" y="176.5" width="4.71" height="7.98" fill="#eeecee"/><rect x="273.96" y="176.5" width="4.71" height="7.98" fill="#ffb09c"/><rect x="278.62" y="176.5" width="4.71" height="7.98" fill="#ff9478"/><rect x="283.28" y="176.5" width="4.71" height="7.98" fill="#ff9478"/><rect x="287.94" y="176.5" width="4.71" height="7.98" fill="#e2dcf0"/><rect x="292.6" y="176.5" width="4.71" height="7.98" fill="#e2dcf0"/><rect x="297.26" y="176.5" width="4.71" height="7.98" fill="#e2dcf0"/><rect x="246" y="184.43" width="4.71" height="7.98" fill="#9c80f8"/><rect x="250.66" y="184.43" width="4.71" height="7.98" fill="#9c80f8"/><rect x="255.32" y="184.43" width="4.71" height="7.98" fill="#9c80f8"/><rect x="259.98" y="184.43" width="4.71" height="7.98" fill="#c4b4f4"/><rect x="264.64" y="184.43" width="4.71" height="7.98" fill="#c4b4f4"/><rect x="269.3" y="184.43" width="4.71" height="7.98" fill="#c4b4f4"/><rect x="273.96" y="184.43" width="4.71" height="7.98" fill="#ff9478"/><rect x="278.62" y="184.43" width="4.71" height="7.98" fill="#fccabc"/><rect x="283.28" y="184.43" width="4.71" height="7.98" fill="#fccabc"/><rect x="287.94" y="184.43" width="4.71" height="7.98" fill="#f4e2de"/><rect x="292.6" y="184.43" width="4.71" height="7.98" fill="#f4e2de"/><rect x="297.26" y="184.43" width="4.71" height="7.98" fill="#fccabc"/><rect x="246" y="192.36" width="4.71" height="7.98" fill="#b09af6"/><rect x="250.66" y="192.36" width="4.71" height="7.98" fill="#b09af6"/><rect x="255.32" y="192.36" width="4.71" height="7.98" fill="#b09af6"/><rect x="259.98" y="192.36" width="4.71" height="7.98" fill="#c4b4f4"/><rect x="264.64" y="192.36" width="4.71" height="7.98" fill="#c4b4f4"/><rect x="269.3" y="192.36" width="4.71" height="7.98" fill="#c4b4f4"/><rect x="273.96" y="192.36" width="4.71" height="7.98" fill="#fccabc"/><rect x="278.62" y="192.36" width="4.71" height="7.98" fill="#ffb09c"/><rect x="283.28" y="192.36" width="4.71" height="7.98" fill="#ffb09c"/><rect x="287.94" y="192.36" width="4.71" height="7.98" fill="#e2dcf0"/><rect x="292.6" y="192.36" width="4.71" height="7.98" fill="#eeecee"/><rect x="297.26" y="192.36" width="4.71" height="7.98" fill="#e2dcf0"/><rect x="246" y="200.29" width="4.71" height="7.98" fill="#b09af6"/><rect x="250.66" y="200.29" width="4.71" height="7.98" fill="#b09af6"/><rect x="255.32" y="200.29" width="4.71" height="7.98" fill="#c4b4f4"/><rect x="259.98" y="200.29" width="4.71" height="7.98" fill="#e2dcf0"/><rect x="264.64" y="200.29" width="4.71" height="7.98" fill="#9c80f8"/><rect x="269.3" y="200.29" width="4.71" height="7.98" fill="#e2dcf0"/><rect x="273.96" y="200.29" width="4.71" height="7.98" fill="#fccabc"/><rect x="278.62" y="200.29" width="4.71" height="7.98" fill="#fccabc"/><rect x="283.28" y="200.29" width="4.71" height="7.98" fill="#ff9478"/><rect x="287.94" y="200.29" width="4.71" height="7.98" fill="#fccabc"/><rect x="292.6" y="200.29" width="4.71" height="7.98" fill="#fccabc"/><rect x="297.26" y="200.29" width="4.71" height="7.98" fill="#fccabc"/><rect x="246" y="208.22" width="4.71" height="7.98" fill="#ff9478"/><rect x="250.66" y="208.22" width="4.71" height="7.98" fill="#ff9478"/><rect x="255.32" y="208.22" width="4.71" height="7.98" fill="#ffb09c"/><rect x="259.98" y="208.22" width="4.71" height="7.98" fill="#8868fc"/><rect x="264.64" y="208.22" width="4.71" height="7.98" fill="#9c80f8"/><rect x="269.3" y="208.22" width="4.71" height="7.98" fill="#9c80f8"/><rect x="273.96" y="208.22" width="4.71" height="7.98" fill="#fccabc"/><rect x="278.62" y="208.22" width="4.71" height="7.98" fill="#fccabc"/><rect x="283.28" y="208.22" width="4.71" height="7.98" fill="#eeecee"/><rect x="287.94" y="208.22" width="4.71" height="7.98" fill="#7c5cff"/><rect x="292.6" y="208.22" width="4.71" height="7.98" fill="#7c5cff"/><rect x="297.26" y="208.22" width="4.71" height="7.98" fill="#7c5cff"/><rect x="246" y="216.15" width="4.71" height="7.98" fill="#ff9478"/><rect x="250.66" y="216.15" width="4.71" height="7.98" fill="#ff9478"/><rect x="255.32" y="216.15" width="4.71" height="7.98" fill="#ffb09c"/><rect x="259.98" y="216.15" width="4.71" height="7.98" fill="#b09af6"/><rect x="264.64" y="216.15" width="4.71" height="7.98" fill="#b09af6"/><rect x="269.3" y="216.15" width="4.71" height="7.98" fill="#b09af6"/><rect x="273.96" y="216.15" width="4.71" height="7.98" fill="#d4c8f2"/><rect x="278.62" y="216.15" width="4.71" height="7.98" fill="#d4c8f2"/><rect x="283.28" y="216.15" width="4.71" height="7.98" fill="#d4c8f2"/><rect x="287.94" y="216.15" width="4.71" height="7.98" fill="#8868fc"/><rect x="292.6" y="216.15" width="4.71" height="7.98" fill="#8868fc"/><rect x="297.26" y="216.15" width="4.71" height="7.98" fill="#8868fc"/><rect x="246" y="224.08" width="4.71" height="7.98" fill="#ff9478"/><rect x="250.66" y="224.08" width="4.71" height="7.98" fill="#ff9478"/><rect x="255.32" y="224.08" width="4.71" height="7.98" fill="#ff6a4a"/><rect x="259.98" y="224.08" width="4.71" height="7.98" fill="#8868fc"/><rect x="264.64" y="224.08" width="4.71" height="7.98" fill="#8868fc"/><rect x="269.3" y="224.08" width="4.71" height="7.98" fill="#9c80f8"/><rect x="273.96" y="224.08" width="4.71" height="7.98" fill="#eeecee"/><rect x="278.62" y="224.08" width="4.71" height="7.98" fill="#e2dcf0"/><rect x="283.28" y="224.08" width="4.71" height="7.98" fill="#e2dcf0"/><rect x="287.94" y="224.08" width="4.71" height="7.98" fill="#9c80f8"/><rect x="292.6" y="224.08" width="4.71" height="7.98" fill="#9c80f8"/><rect x="297.26" y="224.08" width="4.71" height="7.98" fill="#9c80f8"/><rect x="246" y="232.01" width="4.71" height="7.98" fill="#c4b4f4"/><rect x="250.66" y="232.01" width="4.71" height="7.98" fill="#c4b4f4"/><rect x="255.32" y="232.01" width="4.71" height="7.98" fill="#c4b4f4"/><rect x="259.98" y="232.01" width="4.71" height="7.98" fill="#b09af6"/><rect x="264.64" y="232.01" width="4.71" height="7.98" fill="#b09af6"/><rect x="269.3" y="232.01" width="4.71" height="7.98" fill="#b09af6"/><rect x="273.96" y="232.01" width="4.71" height="7.98" fill="#ffb09c"/><rect x="278.62" y="232.01" width="4.71" height="7.98" fill="#ff6a4a"/><rect x="283.28" y="232.01" width="4.71" height="7.98" fill="#ff9478"/><rect x="287.94" y="232.01" width="4.71" height="7.98" fill="#c4b4f4"/><rect x="292.6" y="232.01" width="4.71" height="7.98" fill="#c4b4f4"/><rect x="297.26" y="232.01" width="4.71" height="7.98" fill="#c4b4f4"/><rect x="246" y="239.94" width="4.71" height="7.98" fill="#fccabc"/><rect x="250.66" y="239.94" width="4.71" height="7.98" fill="#eeecee"/><rect x="255.32" y="239.94" width="4.71" height="7.98" fill="#eeecee"/><rect x="259.98" y="239.94" width="4.71" height="7.98" fill="#9c80f8"/><rect x="264.64" y="239.94" width="4.71" height="7.98" fill="#9c80f8"/><rect x="269.3" y="239.94" width="4.71" height="7.98" fill="#b09af6"/><rect x="273.96" y="239.94" width="4.71" height="7.98" fill="#ffb09c"/><rect x="278.62" y="239.94" width="4.71" height="7.98" fill="#fccabc"/><rect x="283.28" y="239.94" width="4.71" height="7.98" fill="#ffb09c"/><rect x="287.94" y="239.94" width="4.71" height="7.98" fill="#8868fc"/><rect x="292.6" y="239.94" width="4.71" height="7.98" fill="#8868fc"/><rect x="297.26" y="239.94" width="4.71" height="7.98" fill="#9c80f8"/><rect x="246" y="247.87" width="4.71" height="7.98" fill="#ffb09c"/><rect x="250.66" y="247.87" width="4.71" height="7.98" fill="#f4e2de"/><rect x="255.32" y="247.87" width="4.71" height="7.98" fill="#eeecee"/><rect x="259.98" y="247.87" width="4.71" height="7.98" fill="#8868fc"/><rect x="264.64" y="247.87" width="4.71" height="7.98" fill="#8868fc"/><rect x="269.3" y="247.87" width="4.71" height="7.98" fill="#9c80f8"/><rect x="273.96" y="247.87" width="4.71" height="7.98" fill="#ffb09c"/><rect x="278.62" y="247.87" width="4.71" height="7.98" fill="#fccabc"/><rect x="283.28" y="247.87" width="4.71" height="7.98" fill="#ffb09c"/><rect x="287.94" y="247.87" width="4.71" height="7.98" fill="#8868fc"/><rect x="292.6" y="247.87" width="4.71" height="7.98" fill="#8868fc"/><rect x="297.26" y="247.87" width="4.71" height="7.98" fill="#8868fc"/><rect x="246" y="255.8" width="4.71" height="7.98" fill="#fccabc"/><rect x="250.66" y="255.8" width="4.71" height="7.98" fill="#f4e2de"/><rect x="255.32" y="255.8" width="4.71" height="7.98" fill="#eeecee"/><rect x="259.98" y="255.8" width="4.71" height="7.98" fill="#b09af6"/><rect x="264.64" y="255.8" width="4.71" height="7.98" fill="#e2dcf0"/><rect x="269.3" y="255.8" width="4.71" height="7.98" fill="#e2dcf0"/><rect x="273.96" y="255.8" width="4.71" height="7.98" fill="#d4c8f2"/><rect x="278.62" y="255.8" width="4.71" height="7.98" fill="#ff9478"/><rect x="283.28" y="255.8" width="4.71" height="7.98" fill="#ff9478"/><rect x="287.94" y="255.8" width="4.71" height="7.98" fill="#9c80f8"/><rect x="292.6" y="255.8" width="4.71" height="7.98" fill="#9c80f8"/><rect x="297.26" y="255.8" width="4.71" height="7.98" fill="#8868fc"/><rect x="246" y="263.73" width="4.71" height="7.98" fill="#e2dcf0"/><rect x="250.66" y="263.73" width="4.71" height="7.98" fill="#e2dcf0"/><rect x="255.32" y="263.73" width="4.71" height="7.98" fill="#eeecee"/><rect x="259.98" y="263.73" width="4.71" height="7.98" fill="#8868fc"/><rect x="264.64" y="263.73" width="4.71" height="7.98" fill="#b09af6"/><rect x="269.3" y="263.73" width="4.71" height="7.98" fill="#f4e2de"/><rect x="273.96" y="263.73" width="4.71" height="7.98" fill="#fccabc"/><rect x="278.62" y="263.73" width="4.71" height="7.98" fill="#ff9478"/><rect x="283.28" y="263.73" width="4.71" height="7.98" fill="#ff9478"/><rect x="287.94" y="263.73" width="4.71" height="7.98" fill="#c4b4f4"/><rect x="292.6" y="263.73" width="4.71" height="7.98" fill="#b09af6"/><rect x="297.26" y="263.73" width="4.71" height="7.98" fill="#d4c8f2"/></g>
<text x="302.6" y="25.36" font-size="8.5" font-style="italic" stroke="#231f20" stroke-width="0.2">B9J08_004828</text>
<text x="302.6" y="33.3" font-size="8.5" font-style="italic" stroke="#231f20" stroke-width="0.2">GRE2</text>
<text x="302.6" y="41.22" font-size="8.5" font-style="italic" stroke="#231f20" stroke-width="0.2">FCR1</text>
<text x="302.6" y="49.16" font-size="8.5" font-style="italic" stroke="#231f20" stroke-width="0.2">DAP1</text>
<text x="302.6" y="57.08" font-size="8.5" font-style="italic" stroke="#231f20" stroke-width="0.2">ERG251</text>
<text x="302.6" y="65.02" font-size="8.5" font-style="italic" stroke="#231f20" stroke-width="0.2">HMG1</text>
<text x="302.6" y="72.94" font-size="8.5" font-style="italic" stroke="#231f20" stroke-width="0.2">ERG25</text>
<text x="302.6" y="80.88" font-size="8.5" font-style="italic" stroke="#231f20" stroke-width="0.2">ERG10</text>
<text x="302.6" y="88.81" font-size="8.5" font-style="italic" stroke="#231f20" stroke-width="0.2">UPC2</text>
<text x="302.6" y="96.74" font-size="8.5" font-style="italic" stroke="#231f20" stroke-width="0.2">ERG19</text>
<text x="302.6" y="104.66" font-size="8.5" font-style="italic" stroke="#231f20" stroke-width="0.2">ERG4</text>
<text x="302.6" y="112.59" font-size="8.5" font-style="italic" stroke="#231f20" stroke-width="0.2">ERG5</text>
<text x="302.6" y="120.53" font-size="8.5" font-style="italic" stroke="#231f20" stroke-width="0.2">YCF1</text>
<text x="302.6" y="128.46" font-size="8.5" font-style="italic" stroke="#231f20" stroke-width="0.2">ERG20</text>
<text x="302.6" y="136.38" font-size="8.5" font-style="italic" stroke="#231f20" stroke-width="0.2">ERG13</text>
<text x="302.6" y="144.31" font-size="8.5" font-style="italic" stroke="#231f20" stroke-width="0.2">ERG2</text>
<text x="302.6" y="152.25" font-size="8.5" font-style="italic" stroke="#231f20" stroke-width="0.2">ERG24</text>
<text x="302.6" y="160.18" font-size="8.5" font-style="italic" stroke="#231f20" stroke-width="0.2">MDR1</text>
<text x="302.6" y="168.11" font-size="8.5" font-style="italic" stroke="#231f20" stroke-width="0.2">ERG6</text>
<text x="302.6" y="176.03" font-size="8.5" font-style="italic" stroke="#231f20" stroke-width="0.2">ERG3</text>
<text x="302.6" y="183.97" font-size="8.5" font-style="italic" stroke="#231f20" stroke-width="0.2">ERG27</text>
<text x="302.6" y="191.9" font-size="8.5" font-style="italic" stroke="#231f20" stroke-width="0.2">B9J08_004452</text>
<text x="302.6" y="199.82" font-size="8.5" font-style="italic" stroke="#231f20" stroke-width="0.2">CDR1</text>
<text x="302.6" y="207.75" font-size="8.5" font-style="italic" stroke="#231f20" stroke-width="0.2">CDR4</text>
<text x="302.6" y="215.69" font-size="8.5" font-style="italic" stroke="#231f20" stroke-width="0.2">ARE2</text>
<text x="302.6" y="223.62" font-size="8.5" font-style="italic" stroke="#231f20" stroke-width="0.2">CDR2</text>
<text x="302.6" y="231.55" font-size="8.5" font-style="italic" stroke="#231f20" stroke-width="0.2">ERG8</text>
<text x="302.6" y="239.47" font-size="8.5" font-style="italic" stroke="#231f20" stroke-width="0.2">SNQ2</text>
<text x="302.6" y="247.41" font-size="8.5" font-style="italic" stroke="#231f20" stroke-width="0.2">ERG11</text>
<text x="302.6" y="255.34" font-size="8.5" font-style="italic" stroke="#231f20" stroke-width="0.2">ERG1</text>
<text x="302.6" y="263.26" font-size="8.5" font-style="italic" stroke="#231f20" stroke-width="0.2">ERG2</text>
<text x="302.6" y="271.19" font-size="8.5" font-style="italic" stroke="#231f20" stroke-width="0.2">ERG7</text>
<rect x="246" y="273.3" width="4.71" height="7.7" fill="#a50000" shape-rendering="crispEdges"/>
<rect x="246" y="281" width="4.71" height="8.5" fill="#e8b0cc" shape-rendering="crispEdges"/>
<rect x="250.66" y="273.3" width="4.71" height="7.7" fill="#a50000" shape-rendering="crispEdges"/>
<rect x="250.66" y="281" width="4.71" height="8.5" fill="#e8b0cc" shape-rendering="crispEdges"/>
<rect x="255.32" y="273.3" width="4.71" height="7.7" fill="#a50000" shape-rendering="crispEdges"/>
<rect x="255.32" y="281" width="4.71" height="8.5" fill="#e8b0cc" shape-rendering="crispEdges"/>
<rect x="259.98" y="273.3" width="4.71" height="7.7" fill="#00792c" shape-rendering="crispEdges"/>
<rect x="259.98" y="281" width="4.71" height="8.5" fill="#e8b0cc" shape-rendering="crispEdges"/>
<rect x="264.64" y="273.3" width="4.71" height="7.7" fill="#00792c" shape-rendering="crispEdges"/>
<rect x="264.64" y="281" width="4.71" height="8.5" fill="#e8b0cc" shape-rendering="crispEdges"/>
<rect x="269.3" y="273.3" width="4.71" height="7.7" fill="#00792c" shape-rendering="crispEdges"/>
<rect x="269.3" y="281" width="4.71" height="8.5" fill="#e8b0cc" shape-rendering="crispEdges"/>
<rect x="273.96" y="273.3" width="4.71" height="7.7" fill="#a50000" shape-rendering="crispEdges"/>
<rect x="273.96" y="281" width="4.71" height="8.5" fill="#e08c22" shape-rendering="crispEdges"/>
<rect x="278.62" y="273.3" width="4.71" height="7.7" fill="#a50000" shape-rendering="crispEdges"/>
<rect x="278.62" y="281" width="4.71" height="8.5" fill="#e08c22" shape-rendering="crispEdges"/>
<rect x="283.28" y="273.3" width="4.71" height="7.7" fill="#a50000" shape-rendering="crispEdges"/>
<rect x="283.28" y="281" width="4.71" height="8.5" fill="#e08c22" shape-rendering="crispEdges"/>
<rect x="287.94" y="273.3" width="4.71" height="7.7" fill="#00792c" shape-rendering="crispEdges"/>
<rect x="287.94" y="281" width="4.71" height="8.5" fill="#e08c22" shape-rendering="crispEdges"/>
<rect x="292.6" y="273.3" width="4.71" height="7.7" fill="#00792c" shape-rendering="crispEdges"/>
<rect x="292.6" y="281" width="4.71" height="8.5" fill="#e08c22" shape-rendering="crispEdges"/>
<rect x="297.26" y="273.3" width="4.71" height="7.7" fill="#00792c" shape-rendering="crispEdges"/>
<rect x="297.26" y="281" width="4.71" height="8.5" fill="#e08c22" shape-rendering="crispEdges"/>
<text x="302.6" y="280.75" font-size="8.3" stroke="#231f20" stroke-width="0.2">Group</text>
<text x="302.6" y="288.85" font-size="8.3" stroke="#231f20" stroke-width="0.2">Treatment</text>
<rect x="339.2" y="50.6" width="5" height="5" fill="#a50000"/>
<text x="347" y="57.2" font-size="8.3" stroke="#231f20" stroke-width="0.2">WT</text>
<rect x="339.2" y="58.5" width="5" height="5" fill="#00792c"/>
<text x="347" y="64.3" font-size="8.3" stroke="#231f20" stroke-width="0.2"><tspan font-style="italic">gcn5</tspan>Δ</text>
<text x="339.2" y="96" font-size="8.3" stroke="#231f20" stroke-width="0.2">Treatment</text>
<rect x="339.2" y="102.2" width="5" height="5" fill="#e08c22"/>
<text x="347" y="107.8" font-size="8.3" stroke="#231f20" stroke-width="0.2">Treated</text>
<rect x="339.2" y="112.2" width="5" height="5" fill="#e8b0cc"/>
<text x="347" y="117.8" font-size="8.3" stroke="#231f20" stroke-width="0.2">Untreated</text>
<text x="342.6" y="248" font-size="8.3" stroke="#231f20" stroke-width="0.2">z-score</text>
<defs><linearGradient id="zg" x1="0" y1="0" x2="0" y2="1"><stop offset="0" stop-color="#ff0000"/><stop offset="0.17" stop-color="#ff0000"/><stop offset="0.3" stop-color="#ff5030"/><stop offset="0.48" stop-color="#f0eeee"/><stop offset="0.62" stop-color="#a890f0"/><stop offset="0.76" stop-color="#3018ff"/><stop offset="0.82" stop-color="#0000ff"/><stop offset="1" stop-color="#0000ff"/></linearGradient></defs>
<rect x="343.2" y="252" width="6.6" height="33.4" fill="url(#zg)"/>
<line x1="348.2" y1="253.3" x2="349.8" y2="253.3" stroke="#ffffff" stroke-width="0.6"/>
<text x="351" y="256.2" font-size="7.6" stroke="#231f20" stroke-width="0.2">4</text>
<line x1="348.2" y1="261" x2="349.8" y2="261" stroke="#ffffff" stroke-width="0.6"/>
<text x="351" y="263.9" font-size="7.6" stroke="#231f20" stroke-width="0.2">2</text>
<line x1="348.2" y1="268.7" x2="349.8" y2="268.7" stroke="#ffffff" stroke-width="0.6"/>
<text x="351" y="271.6" font-size="7.6" stroke="#231f20" stroke-width="0.2">0</text>
<line x1="348.2" y1="276.4" x2="349.8" y2="276.4" stroke="#ffffff" stroke-width="0.6"/>
<text x="349.6" y="279.3" font-size="7.6" stroke="#231f20" stroke-width="0.2">-2</text>
<line x1="348.2" y1="284.1" x2="349.8" y2="284.1" stroke="#ffffff" stroke-width="0.6"/>
<text x="349.6" y="287" font-size="7.6" stroke="#231f20" stroke-width="0.2">-4</text>
<text x="1.6" y="193.6" font-size="16.5" stroke="#231f20" stroke-width="0.2">c</text>
<text x="131.4" y="203.9" font-size="8.45" text-anchor="middle" stroke="#231f20" stroke-width="0.2">Ergosterol Biosynthetic Process</text>
<defs><linearGradient id="cg" gradientUnits="userSpaceOnUse" x1="41.6" y1="0" x2="227.3" y2="0"><stop offset="0" stop-color="#f28a78"/><stop offset="0.45" stop-color="#e4a898"/><stop offset="0.64" stop-color="#b4c8a8"/><stop offset="0.97" stop-color="#84c494"/><stop offset="1" stop-color="#f09080"/></linearGradient></defs>
<path d="M41.6 209.2 L42.83 209.65 L44.05 210.11 L45.28 210.56 L46.51 211.01 L47.73 211.47 L48.96 211.92 L50.19 212.37 L51.41 212.83 L52.64 213.28 L53.87 213.73 L55.09 214.19 L56.32 214.64 L57.55 215.09 L58.77 215.55 L60 216 L61.27 216.51 L62.55 217.02 L63.82 217.53 L65.09 218.04 L66.36 218.55 L67.64 219.05 L68.91 219.56 L70.18 220.07 L71.45 220.58 L72.73 221.09 L74 221.6 L75.5 220.6 L77.5 221 L78.8 221.48 L80.1 221.96 L81.4 222.44 L82.7 222.92 L84 223.4 L85.33 223.87 L86.67 224.33 L88 224.8 L89.33 225.27 L90.67 225.97 L92 225.98 L93.23 226.81 L94.46 226.95 L95.69 227.54 L96.91 227.97 L98.14 228.26 L99.37 228.98 L100.6 229.02 L101.83 229.92 L103.06 229.86 L104.29 230.77 L105.51 230.8 L106.74 231.52 L107.97 231.81 L109.2 232.24 L110.43 232.83 L111.66 232.97 L112.89 233.81 L114.11 233.77 L115.34 234.7 L116.57 234.67 L117.8 235.49 L119.03 235.65 L120.26 236.22 L121.49 236.67 L122.71 236.94 L123.94 237.67 L125.17 237.7 L126.4 238.61 L127.63 238.55 L128.86 239.45 L130.09 239.49 L131.31 240.2 L132.54 240.5 L133.77 240.92 L135 241.52 L136.21 241.61 L137.41 242.44 L138.62 242.35 L139.83 243.23 L141.03 243.22 L142.24 243.9 L143.45 244.18 L144.66 244.53 L145.86 245.15 L147.07 245.19 L148.28 246.05 L149.48 245.95 L150.69 246.81 L151.9 246.85 L153.1 247.47 L154.31 247.82 L155.52 248.09 L156.72 248.78 L157.93 248.77 L159.14 249.65 L160.34 249.56 L161.55 250.39 L162.76 250.48 L163.97 251.03 L165.17 251.46 L166.38 251.66 L167.59 252.41 L168.79 252.36 L170 253.25 L171.24 253.13 L172.48 253.91 L173.71 253.95 L174.95 254.51 L176.19 254.82 L177.43 255.09 L178.67 255.68 L179.9 255.7 L181.14 256.49 L182.38 256.37 L183.62 257.22 L184.86 257.13 L186.1 257.88 L187.33 257.95 L188.57 258.47 L189.81 258.82 L191.05 259.05 L192.29 259.68 L193.52 259.67 L194.76 260.48 L196 260.35 L197.33 261.05 L198.67 260.75 L200 261.2 L201.5 260.9 L203 260.6 L204.25 260.8 L205.5 261 L207.3 256 L208.6 252.2 L210.3 253 L212 253.8 L213.5 253.93 L215 254.07 L216.5 254.2 L218.5 251.5 L220.5 249 L222.5 246 L224.2 240.5 L225.2 234 L226 222 L226.6 213 L227 209.6" fill="none" stroke="url(#cg)" stroke-width="0.6"/>
<line x1="41.6" y1="209.2" x2="227.3" y2="209.2" stroke="#8c8c8c" stroke-width="0.5" stroke-dasharray="2,1.6"/>
<text x="218.2" y="218.8" font-size="7.15" text-anchor="end" font-style="italic" stroke="#231f20" stroke-width="0.2">NES:-2.43</text>
<text x="218.2" y="227.6" font-size="7.15" text-anchor="end" font-style="italic" stroke="#231f20" stroke-width="0.2">Pvalue: &lt; 0.0001 Ajusted</text>
<text x="218.2" y="235.6" font-size="7.15" text-anchor="end" font-style="italic" stroke="#231f20" stroke-width="0.2">Pvalue: &lt; 0.0001</text>
<rect x="41.6" y="280.9" width="4.75" height="7" fill="#c4545e"/>
<rect x="46.3" y="280.9" width="4.75" height="7" fill="#dc9aa2"/>
<rect x="51" y="280.9" width="11.05" height="7" fill="#f2e0e4"/>
<rect x="62" y="280.9" width="1.85" height="7" fill="#e4ebf4"/>
<rect x="63.8" y="280.9" width="12.95" height="7" fill="#bccfe8"/>
<rect x="76.7" y="280.9" width="25.35" height="7" fill="#8cafd9"/>
<rect x="102" y="280.9" width="92.05" height="7" fill="#5b8ac6"/>
<rect x="194" y="280.9" width="33.35" height="7" fill="#2c64ac"/>
<line x1="74.6" y1="264.2" x2="74.6" y2="287.9" stroke="#555" stroke-width="0.5"/>
<line x1="76.4" y1="264.2" x2="76.4" y2="287.9" stroke="#bbb" stroke-width="0.5"/>
<line x1="77.6" y1="264.2" x2="77.6" y2="287.9" stroke="#ccc" stroke-width="0.4"/>
<line x1="83.6" y1="264.2" x2="83.6" y2="287.9" stroke="#444" stroke-width="0.5"/>
<line x1="92.3" y1="264.2" x2="92.3" y2="287.9" stroke="#444" stroke-width="0.5"/>
<line x1="140.3" y1="264.2" x2="140.3" y2="287.9" stroke="#666" stroke-width="0.5"/>
<line x1="166.8" y1="264.2" x2="166.8" y2="287.9" stroke="#555" stroke-width="0.5"/>
<line x1="177.3" y1="264.2" x2="177.3" y2="287.9" stroke="#666" stroke-width="0.5"/>
<line x1="180.7" y1="264.2" x2="180.7" y2="287.9" stroke="#666" stroke-width="0.5"/>
<line x1="189.5" y1="264.2" x2="189.5" y2="287.9" stroke="#999" stroke-width="0.5"/>
<line x1="191.4" y1="264.2" x2="191.4" y2="287.9" stroke="#bbb" stroke-width="0.5"/>
<line x1="194.3" y1="264.2" x2="194.3" y2="287.9" stroke="#888" stroke-width="0.5"/>
<line x1="197" y1="264.2" x2="197" y2="287.9" stroke="#aaa" stroke-width="0.5"/>
<line x1="199.3" y1="264.2" x2="199.3" y2="287.9" stroke="#888" stroke-width="0.5"/>
<line x1="201.4" y1="264.2" x2="201.4" y2="287.9" stroke="#999" stroke-width="0.5"/>
<line x1="205.8" y1="264.2" x2="205.8" y2="287.9" stroke="#333" stroke-width="0.7"/>
<line x1="206.6" y1="264.2" x2="206.6" y2="287.9" stroke="#222" stroke-width="0.7"/>
<line x1="207.4" y1="264.2" x2="207.4" y2="287.9" stroke="#333" stroke-width="0.6"/>
<line x1="208.5" y1="264.2" x2="208.5" y2="287.9" stroke="#444" stroke-width="0.6"/>
<line x1="217" y1="264.2" x2="217" y2="287.9" stroke="#888" stroke-width="0.5"/>
<line x1="218.8" y1="264.2" x2="218.8" y2="287.9" stroke="#777" stroke-width="0.5"/>
<line x1="221.3" y1="264.2" x2="221.3" y2="287.9" stroke="#444" stroke-width="0.6"/>
<line x1="222.3" y1="264.2" x2="222.3" y2="287.9" stroke="#333" stroke-width="0.6"/>
<line x1="224.2" y1="264.2" x2="224.2" y2="287.9" stroke="#555" stroke-width="0.5"/>
<line x1="225.6" y1="264.2" x2="225.6" y2="287.9" stroke="#222" stroke-width="0.7"/>
<line x1="226.6" y1="264.2" x2="226.6" y2="287.9" stroke="#222" stroke-width="0.6"/>
<rect x="41.6" y="206.8" width="185.7" height="57.4" fill="none" stroke="#8c8c8c" stroke-width="0.6"/>
<rect x="41.6" y="264.2" width="185.7" height="23.7" fill="none" stroke="#8c8c8c" stroke-width="0.6"/>
<rect x="41.6" y="289.2" width="185.7" height="34" fill="none" stroke="#8c8c8c" stroke-width="0.6"/>
<polygon points="41.6,295.19 42.6,295.96 43.6,296.8 44.6,297.52 45.6,298.13 46.6,298.64 47.6,299.07 48.6,299.44 49.6,299.75 50.6,300.01 51.6,300.24 52.6,300.43 53.6,300.59 54.6,300.72 55.6,300.84 56.6,300.93 57.6,301.02 58.6,301.08 59.6,301.14 60.6,301.19 61.6,301.24 62.6,301.27 63.6,301.3 64.6,301.33 65.6,301.35 66.6,301.37 67.6,301.38 68.6,301.4 69.6,301.41 70.6,301.42 71.6,301.42 72.6,301.43 73.6,301.44 74.6,301.44 75.6,301.44 76.6,301.45 77.6,301.45 78.6,301.45 79.6,301.46 80.6,301.46 101.6,301.62 101.6,301.7 41.6,301.7" fill="#f6c8c4"/>
<polygon points="196,301.7 196,301.87 197,301.87 198,301.87 199,301.87 200,301.88 201,301.88 202,301.89 203,301.9 204,301.91 205,301.92 206,301.93 207,301.95 208,301.97 209,301.99 210,302.03 211,302.06 212,302.11 213,302.17 214,302.23 215,302.32 216,302.42 217,302.55 218,302.7 219,302.89 220,303.11 221,303.39 222,303.73 223,304.15 224,304.66 225,305.28 226,306.04 227,306.96 227.3,308.68 227.3,301.7" fill="#cdd6f0"/>
<line x1="41.6" y1="301.7" x2="227.3" y2="301.7" stroke="#8c8c8c" stroke-width="0.5" stroke-dasharray="2,1.6"/>
<text x="40.3" y="211.8" font-size="7.1" text-anchor="end" stroke="#231f20" stroke-width="0.2">0</text>
<line x1="40.1" y1="209.2" x2="41.6" y2="209.2" stroke="#8c8c8c" stroke-width="0.5"/>
<text x="40.3" y="225.8" font-size="7.1" text-anchor="end" stroke="#231f20" stroke-width="0.2">-0.2</text>
<line x1="40.1" y1="223.2" x2="41.6" y2="223.2" stroke="#8c8c8c" stroke-width="0.5"/>
<text x="40.3" y="239.8" font-size="7.1" text-anchor="end" stroke="#231f20" stroke-width="0.2">-0.4</text>
<line x1="40.1" y1="237.2" x2="41.6" y2="237.2" stroke="#8c8c8c" stroke-width="0.5"/>
<text x="40.3" y="253.8" font-size="7.1" text-anchor="end" stroke="#231f20" stroke-width="0.2">-0.6</text>
<line x1="40.1" y1="251.2" x2="41.6" y2="251.2" stroke="#8c8c8c" stroke-width="0.5"/>
<text x="40.3" y="298.1" font-size="7.2" text-anchor="end" stroke="#231f20" stroke-width="0.2">4</text>
<text x="40.3" y="304.3" font-size="7.2" text-anchor="end" stroke="#231f20" stroke-width="0.2">0</text>
<text x="40.3" y="310.5" font-size="7.2" text-anchor="end" stroke="#231f20" stroke-width="0.2">-4</text>
<text x="40.3" y="316.7" font-size="7.2" text-anchor="end" stroke="#231f20" stroke-width="0.2">-8</text>
<text x="40.3" y="322.9" font-size="7.2" text-anchor="end" stroke="#231f20" stroke-width="0.2">-12</text>
<text x="131.6" y="331.9" font-size="7.1" text-anchor="middle" stroke="#231f20" stroke-width="0.2">Rank in Ordered Dataset</text>
<text x="211.8" y="330" font-size="7.4" text-anchor="middle" stroke="#231f20" stroke-width="0.2">5000</text>
<text x="18.2" y="238.2" font-size="7.2" text-anchor="middle" stroke="#231f20" stroke-width="0.2" transform="rotate(-90 18.2 238.2)">Running Enrichment</text>
<text x="26.1" y="238.2" font-size="7.2" text-anchor="middle" stroke="#231f20" stroke-width="0.2" transform="rotate(-90 26.1 238.2)">Score</text>
<text x="25" y="306.8" font-size="7.1" text-anchor="middle" stroke="#231f20" stroke-width="0.2" transform="rotate(-90 25 306.8)">Ranked List</text>
<text x="386.5" y="12.1" font-size="16.5" stroke="#231f20" stroke-width="0.2">d</text>
<rect x="428.3" y="100.38" width="6.1" height="16.62" fill="#cfe1f8" stroke="#3c4450" stroke-width="0.55"/>
<line x1="431.35" y1="99.71" x2="431.35" y2="101.04" stroke="#111" stroke-width="0.6"/>
<line x1="430.15" y1="99.71" x2="432.55" y2="99.71" stroke="#111" stroke-width="0.6"/>
<circle cx="431.52" cy="100.44" r="0.95" fill="#111"/>
<circle cx="431.25" cy="99.81" r="0.95" fill="#111"/>
<circle cx="431.59" cy="100.36" r="0.95" fill="#111"/>
<rect x="437.9" y="108.36" width="6.1" height="8.64" fill="#ee3538" stroke="#3c4450" stroke-width="0.55"/>
<line x1="440.95" y1="107.69" x2="440.95" y2="109.02" stroke="#111" stroke-width="0.6"/>
<line x1="439.75" y1="107.69" x2="442.15" y2="107.69" stroke="#111" stroke-width="0.6"/>
<circle cx="440.98" cy="108.77" r="0.95" fill="#111"/>
<circle cx="441.77" cy="108.18" r="0.95" fill="#111"/>
<circle cx="440.4" cy="108.89" r="0.95" fill="#111"/>
<rect x="447.2" y="97.88" width="6.1" height="19.12" fill="#4e9cf4" stroke="#3c4450" stroke-width="0.55"/>
<line x1="450.25" y1="96.55" x2="450.25" y2="99.21" stroke="#111" stroke-width="0.6"/>
<line x1="449.05" y1="96.55" x2="451.45" y2="96.55" stroke="#111" stroke-width="0.6"/>
<circle cx="451.12" cy="98.97" r="0.95" fill="#111"/>
<circle cx="448.97" cy="97.37" r="0.95" fill="#111"/>
<circle cx="451.55" cy="96.6" r="0.95" fill="#111"/>
<rect x="463.7" y="62.47" width="6.1" height="54.53" fill="#cfe1f8" stroke="#3c4450" stroke-width="0.55"/>
<line x1="466.75" y1="58.31" x2="466.75" y2="66.63" stroke="#111" stroke-width="0.6"/>
<line x1="465.55" y1="58.31" x2="467.95" y2="58.31" stroke="#111" stroke-width="0.6"/>
<circle cx="467.07" cy="61.19" r="0.95" fill="#111"/>
<circle cx="465.39" cy="65.32" r="0.95" fill="#111"/>
<circle cx="465.52" cy="62.23" r="0.95" fill="#111"/>
<rect x="473" y="99.88" width="6.1" height="17.12" fill="#ee3538" stroke="#3c4450" stroke-width="0.55"/>
<line x1="476.05" y1="99.21" x2="476.05" y2="100.54" stroke="#111" stroke-width="0.6"/>
<line x1="474.85" y1="99.21" x2="477.25" y2="99.21" stroke="#111" stroke-width="0.6"/>
<circle cx="475.33" cy="100.29" r="0.95" fill="#111"/>
<circle cx="475.95" cy="100.5" r="0.95" fill="#111"/>
<circle cx="477.01" cy="99.96" r="0.95" fill="#111"/>
<rect x="482.6" y="62.14" width="6.1" height="54.86" fill="#4e9cf4" stroke="#3c4450" stroke-width="0.55"/>
<line x1="485.65" y1="59.15" x2="485.65" y2="65.13" stroke="#111" stroke-width="0.6"/>
<line x1="484.45" y1="59.15" x2="486.85" y2="59.15" stroke="#111" stroke-width="0.6"/>
<circle cx="486.04" cy="62.02" r="0.95" fill="#111"/>
<circle cx="486.1" cy="62.14" r="0.95" fill="#111"/>
<circle cx="485.03" cy="62.39" r="0.95" fill="#111"/>
<line x1="424.4" y1="50.2" x2="424.4" y2="117" stroke="#231f20" stroke-width="0.7"/>
<line x1="424.4" y1="117" x2="491.1" y2="117" stroke="#231f20" stroke-width="0.7"/>
<line x1="422.4" y1="117" x2="424.4" y2="117" stroke="#231f20" stroke-width="0.6"/>
<text x="421.7" y="120" font-size="8.6" text-anchor="end" stroke="#231f20" stroke-width="0.2">0</text>
<line x1="422.4" y1="100.38" x2="424.4" y2="100.38" stroke="#231f20" stroke-width="0.6"/>
<text x="421.7" y="103.38" font-size="8.6" text-anchor="end" stroke="#231f20" stroke-width="0.2">1</text>
<line x1="422.4" y1="83.75" x2="424.4" y2="83.75" stroke="#231f20" stroke-width="0.6"/>
<text x="421.7" y="86.75" font-size="8.6" text-anchor="end" stroke="#231f20" stroke-width="0.2">2</text>
<line x1="422.4" y1="67.12" x2="424.4" y2="67.12" stroke="#231f20" stroke-width="0.6"/>
<text x="421.7" y="70.12" font-size="8.6" text-anchor="end" stroke="#231f20" stroke-width="0.2">3</text>
<line x1="422.4" y1="50.5" x2="424.4" y2="50.5" stroke="#231f20" stroke-width="0.6"/>
<text x="421.7" y="53.5" font-size="8.6" text-anchor="end" stroke="#231f20" stroke-width="0.2">4</text>
<line x1="440.8" y1="117" x2="440.8" y2="119" stroke="#231f20" stroke-width="0.6"/>
<line x1="476.2" y1="117" x2="476.2" y2="119" stroke="#231f20" stroke-width="0.6"/>
<text x="440.8" y="126.2" font-size="8.3" text-anchor="middle" stroke="#231f20" stroke-width="0.2">Vehicle</text>
<text x="476.2" y="126.2" font-size="8.3" text-anchor="middle" stroke="#231f20" stroke-width="0.2">FLC</text>
<text x="404.5" y="83.75" font-size="8.4" text-anchor="middle" stroke="#231f20" stroke-width="0.2" transform="rotate(-90 404.5 83.75)"><tspan font-style="italic">ERG11</tspan> mRNA expression</text>
<text x="415" y="83.75" font-size="8.4" text-anchor="middle" stroke="#231f20" stroke-width="0.2" transform="rotate(-90 415 83.75)">(relative)</text>
<path d="M431.6 97.91V54.4H439.6V105.89" fill="none" stroke="#4a4a4a" stroke-width="0.72"/>
<text x="435.6" y="52.5" font-size="7.1" text-anchor="middle" fill="#333" stroke="#333" stroke-width="0.2">0.032</text>
<path d="M442.4 105.89V54.4H474.9V97.41" fill="none" stroke="#4a4a4a" stroke-width="0.72"/>
<text x="458.65" y="52.5" font-size="7.1" text-anchor="middle" fill="#333" stroke="#333" stroke-width="0.2">0.034</text>
<path d="M477.6 97.41V54.4H485.8V57.35" fill="none" stroke="#4a4a4a" stroke-width="0.72"/>
<text x="481.7" y="52.5" font-size="7.1" text-anchor="middle" fill="#333" stroke="#333" stroke-width="0.2">0.008</text>
<path d="M439.3 45.7V43.6H450.5V46.2" fill="none" stroke="#4a4a4a" stroke-width="0.72"/>
<text x="444.9" y="41.7" font-size="7.1" text-anchor="middle" fill="#333" stroke="#333" stroke-width="0.2">0.041</text>
<path d="M466.4 45.7V43.6H476.1V46.2" fill="none" stroke="#4a4a4a" stroke-width="0.72"/>
<text x="471.25" y="41.7" font-size="7.1" text-anchor="middle" fill="#333" stroke="#333" stroke-width="0.2">0.013</text>
<path d="M431.3 46.7V33.1H466.7V35" fill="none" stroke="#4a4a4a" stroke-width="0.72"/>
<text x="449" y="31.2" font-size="7.1" text-anchor="middle" fill="#333" stroke="#333" stroke-width="0.2">0.0215</text>
<path d="M450.2 24V21.2H485.8V54.4" fill="none" stroke="#4a4a4a" stroke-width="0.72"/>
<text x="468" y="19.3" font-size="7.1" text-anchor="middle" fill="#333" stroke="#333" stroke-width="0.2">0.006</text>
<rect x="523.4" y="108.69" width="6.6" height="8.31" fill="#cfe1f8" stroke="#3c4450" stroke-width="0.55"/>
<line x1="526.7" y1="107.69" x2="526.7" y2="109.69" stroke="#111" stroke-width="0.6"/>
<line x1="525.5" y1="107.69" x2="527.9" y2="107.69" stroke="#111" stroke-width="0.6"/>
<circle cx="527.14" cy="108.74" r="0.95" fill="#111"/>
<circle cx="525.7" cy="108.36" r="0.95" fill="#111"/>
<circle cx="526.35" cy="109.66" r="0.95" fill="#111"/>
<rect x="533" y="111.6" width="6.6" height="5.4" fill="#ee3538" stroke="#3c4450" stroke-width="0.55"/>
<line x1="536.3" y1="110.93" x2="536.3" y2="112.26" stroke="#111" stroke-width="0.6"/>
<line x1="535.1" y1="110.93" x2="537.5" y2="110.93" stroke="#111" stroke-width="0.6"/>
<circle cx="537.17" cy="111.9" r="0.95" fill="#111"/>
<circle cx="536.58" cy="111.34" r="0.95" fill="#111"/>
<circle cx="536.75" cy="111.52" r="0.95" fill="#111"/>
<rect x="543.2" y="106.19" width="6.6" height="10.81" fill="#4e9cf4" stroke="#3c4450" stroke-width="0.55"/>
<line x1="546.5" y1="105.78" x2="546.5" y2="106.61" stroke="#111" stroke-width="0.6"/>
<line x1="545.3" y1="105.78" x2="547.7" y2="105.78" stroke="#111" stroke-width="0.6"/>
<circle cx="546.33" cy="106.49" r="0.95" fill="#111"/>
<circle cx="547.64" cy="106.47" r="0.95" fill="#111"/>
<circle cx="547.39" cy="106.56" r="0.95" fill="#111"/>
<rect x="558.4" y="55.9" width="6.6" height="61.1" fill="#cfe1f8" stroke="#3c4450" stroke-width="0.55"/>
<line x1="561.7" y1="54.66" x2="561.7" y2="57.15" stroke="#111" stroke-width="0.6"/>
<line x1="560.5" y1="54.66" x2="562.9" y2="54.66" stroke="#111" stroke-width="0.6"/>
<circle cx="562.22" cy="56.96" r="0.95" fill="#111"/>
<circle cx="561.43" cy="56.31" r="0.95" fill="#111"/>
<circle cx="560.35" cy="55.05" r="0.95" fill="#111"/>
<rect x="568.4" y="108.27" width="6.6" height="8.73" fill="#ee3538" stroke="#3c4450" stroke-width="0.55"/>
<line x1="571.7" y1="107.94" x2="571.7" y2="108.6" stroke="#111" stroke-width="0.6"/>
<line x1="570.5" y1="107.94" x2="572.9" y2="107.94" stroke="#111" stroke-width="0.6"/>
<circle cx="572.86" cy="108.56" r="0.95" fill="#111"/>
<circle cx="570.55" cy="108.27" r="0.95" fill="#111"/>
<circle cx="572.95" cy="107.95" r="0.95" fill="#111"/>
<rect x="578.2" y="61.31" width="6.6" height="55.69" fill="#4e9cf4" stroke="#3c4450" stroke-width="0.55"/>
<line x1="581.5" y1="55.07" x2="581.5" y2="67.54" stroke="#111" stroke-width="0.6"/>
<line x1="580.3" y1="55.07" x2="582.7" y2="55.07" stroke="#111" stroke-width="0.6"/>
<circle cx="581.28" cy="66.14" r="0.95" fill="#111"/>
<circle cx="580.98" cy="65.86" r="0.95" fill="#111"/>
<circle cx="580.56" cy="59.79" r="0.95" fill="#111"/>
<line x1="520.8" y1="50.2" x2="520.8" y2="117" stroke="#231f20" stroke-width="0.7"/>
<line x1="520.8" y1="117" x2="587.2" y2="117" stroke="#231f20" stroke-width="0.7"/>
<line x1="518.8" y1="117" x2="520.8" y2="117" stroke="#231f20" stroke-width="0.6"/>
<text x="518.1" y="120" font-size="8.6" text-anchor="end" stroke="#231f20" stroke-width="0.2">0</text>
<line x1="518.8" y1="100.38" x2="520.8" y2="100.38" stroke="#231f20" stroke-width="0.6"/>
<text x="518.1" y="103.38" font-size="8.6" text-anchor="end" stroke="#231f20" stroke-width="0.2">2</text>
<line x1="518.8" y1="83.75" x2="520.8" y2="83.75" stroke="#231f20" stroke-width="0.6"/>
<text x="518.1" y="86.75" font-size="8.6" text-anchor="end" stroke="#231f20" stroke-width="0.2">4</text>
<line x1="518.8" y1="67.12" x2="520.8" y2="67.12" stroke="#231f20" stroke-width="0.6"/>
<text x="518.1" y="70.12" font-size="8.6" text-anchor="end" stroke="#231f20" stroke-width="0.2">6</text>
<line x1="518.8" y1="50.5" x2="520.8" y2="50.5" stroke="#231f20" stroke-width="0.6"/>
<text x="518.1" y="53.5" font-size="8.6" text-anchor="end" stroke="#231f20" stroke-width="0.2">8</text>
<line x1="536.6" y1="117" x2="536.6" y2="119" stroke="#231f20" stroke-width="0.6"/>
<line x1="571.6" y1="117" x2="571.6" y2="119" stroke="#231f20" stroke-width="0.6"/>
<text x="536.6" y="126.2" font-size="8.3" text-anchor="middle" stroke="#231f20" stroke-width="0.2">Vehicle</text>
<text x="571.6" y="126.2" font-size="8.3" text-anchor="middle" stroke="#231f20" stroke-width="0.2">FLC</text>
<text x="500.9" y="83.75" font-size="8.4" text-anchor="middle" stroke="#231f20" stroke-width="0.2" transform="rotate(-90 500.9 83.75)"><tspan font-style="italic">ERG1</tspan> mRNA expression</text>
<text x="511.4" y="83.75" font-size="8.4" text-anchor="middle" stroke="#231f20" stroke-width="0.2" transform="rotate(-90 511.4 83.75)">(relative)</text>
<path d="M526.6 105.89V50.3H562.4V52.8" fill="none" stroke="#4a4a4a" stroke-width="0.72"/>
<text x="544.5" y="48.4" font-size="7.1" text-anchor="middle" fill="#333" stroke="#333" stroke-width="0.2">0.0001</text>
<path d="M571.3 106.14V50.3H581.6V53.27" fill="none" stroke="#4a4a4a" stroke-width="0.72"/>
<text x="576.45" y="48.4" font-size="7.1" text-anchor="middle" fill="#333" stroke="#333" stroke-width="0.2">0.016</text>
<path d="M536.3 109.13V92.9H546.5V103.98" fill="none" stroke="#4a4a4a" stroke-width="0.72"/>
<text x="541.4" y="91" font-size="7.1" text-anchor="middle" fill="#333" stroke="#333" stroke-width="0.2">0.032</text>
<path d="M561.9 42V40.8H571.6V42" fill="none" stroke="#4a4a4a" stroke-width="0.72"/>
<text x="566.75" y="38.9" font-size="7.1" text-anchor="middle" fill="#333" stroke="#333" stroke-width="0.2">&lt;0.0001</text>
<path d="M545.8 33.6V30.1H581.6V41.6" fill="none" stroke="#4a4a4a" stroke-width="0.72"/>
<text x="563.7" y="28.2" font-size="7.1" text-anchor="middle" fill="#333" stroke="#333" stroke-width="0.2">0.014</text>
<path d="M536.1 33.6V21.4H571.6V22.9" fill="none" stroke="#4a4a4a" stroke-width="0.72"/>
<text x="553.85" y="19.5" font-size="7.1" text-anchor="middle" fill="#333" stroke="#333" stroke-width="0.2">0.029</text>
<rect x="428.1" y="219.04" width="6.3" height="13.46" fill="#cfe1f8" stroke="#3c4450" stroke-width="0.55"/>
<line x1="431.25" y1="218.64" x2="431.25" y2="219.44" stroke="#111" stroke-width="0.6"/>
<line x1="430.05" y1="218.64" x2="432.45" y2="218.64" stroke="#111" stroke-width="0.6"/>
<circle cx="431.77" cy="219.23" r="0.95" fill="#111"/>
<circle cx="432.23" cy="218.89" r="0.95" fill="#111"/>
<circle cx="430.5" cy="219.29" r="0.95" fill="#111"/>
<rect x="437.7" y="219.71" width="6.3" height="12.79" fill="#ee3538" stroke="#3c4450" stroke-width="0.55"/>
<line x1="440.85" y1="219.17" x2="440.85" y2="220.25" stroke="#111" stroke-width="0.6"/>
<line x1="439.65" y1="219.17" x2="442.05" y2="219.17" stroke="#111" stroke-width="0.6"/>
<circle cx="440.08" cy="220.09" r="0.95" fill="#111"/>
<circle cx="439.81" cy="219.46" r="0.95" fill="#111"/>
<circle cx="440.05" cy="219.68" r="0.95" fill="#111"/>
<rect x="447.4" y="212.98" width="6.3" height="19.52" fill="#4e9cf4" stroke="#3c4450" stroke-width="0.55"/>
<line x1="450.55" y1="212.58" x2="450.55" y2="213.39" stroke="#111" stroke-width="0.6"/>
<line x1="449.35" y1="212.58" x2="451.75" y2="212.58" stroke="#111" stroke-width="0.6"/>
<circle cx="450.36" cy="213.15" r="0.95" fill="#111"/>
<circle cx="450.85" cy="212.71" r="0.95" fill="#111"/>
<circle cx="449.92" cy="213.38" r="0.95" fill="#111"/>
<rect x="463.6" y="176.64" width="6.3" height="55.86" fill="#cfe1f8" stroke="#3c4450" stroke-width="0.55"/>
<line x1="466.75" y1="175.83" x2="466.75" y2="177.45" stroke="#111" stroke-width="0.6"/>
<line x1="465.55" y1="175.83" x2="467.95" y2="175.83" stroke="#111" stroke-width="0.6"/>
<circle cx="467.79" cy="177.21" r="0.95" fill="#111"/>
<circle cx="467.61" cy="176.14" r="0.95" fill="#111"/>
<circle cx="467.44" cy="176.11" r="0.95" fill="#111"/>
<rect x="473.2" y="208.94" width="6.3" height="23.56" fill="#ee3538" stroke="#3c4450" stroke-width="0.55"/>
<line x1="476.35" y1="208.41" x2="476.35" y2="209.48" stroke="#111" stroke-width="0.6"/>
<line x1="475.15" y1="208.41" x2="477.55" y2="208.41" stroke="#111" stroke-width="0.6"/>
<circle cx="477.17" cy="208.46" r="0.95" fill="#111"/>
<circle cx="477.33" cy="209.21" r="0.95" fill="#111"/>
<circle cx="477.06" cy="208.96" r="0.95" fill="#111"/>
<rect x="482.6" y="179.33" width="6.3" height="53.17" fill="#4e9cf4" stroke="#3c4450" stroke-width="0.55"/>
<line x1="485.75" y1="174.22" x2="485.75" y2="184.45" stroke="#111" stroke-width="0.6"/>
<line x1="484.55" y1="174.22" x2="486.95" y2="174.22" stroke="#111" stroke-width="0.6"/>
<circle cx="485.55" cy="178.68" r="0.95" fill="#111"/>
<circle cx="485.55" cy="180.72" r="0.95" fill="#111"/>
<circle cx="484.68" cy="181.24" r="0.95" fill="#111"/>
<line x1="425.1" y1="164.9" x2="425.1" y2="232.5" stroke="#231f20" stroke-width="0.7"/>
<line x1="425.1" y1="232.5" x2="491.3" y2="232.5" stroke="#231f20" stroke-width="0.7"/>
<line x1="423.1" y1="232.5" x2="425.1" y2="232.5" stroke="#231f20" stroke-width="0.6"/>
<text x="422.4" y="235.5" font-size="8.6" text-anchor="end" stroke="#231f20" stroke-width="0.2">0</text>
<line x1="423.1" y1="219.04" x2="425.1" y2="219.04" stroke="#231f20" stroke-width="0.6"/>
<text x="422.4" y="222.04" font-size="8.6" text-anchor="end" stroke="#231f20" stroke-width="0.2">1</text>
<line x1="423.1" y1="205.58" x2="425.1" y2="205.58" stroke="#231f20" stroke-width="0.6"/>
<text x="422.4" y="208.58" font-size="8.6" text-anchor="end" stroke="#231f20" stroke-width="0.2">2</text>
<line x1="423.1" y1="192.12" x2="425.1" y2="192.12" stroke="#231f20" stroke-width="0.6"/>
<text x="422.4" y="195.12" font-size="8.6" text-anchor="end" stroke="#231f20" stroke-width="0.2">3</text>
<line x1="423.1" y1="178.66" x2="425.1" y2="178.66" stroke="#231f20" stroke-width="0.6"/>
<text x="422.4" y="181.66" font-size="8.6" text-anchor="end" stroke="#231f20" stroke-width="0.2">4</text>
<line x1="423.1" y1="165.2" x2="425.1" y2="165.2" stroke="#231f20" stroke-width="0.6"/>
<text x="422.4" y="168.2" font-size="8.6" text-anchor="end" stroke="#231f20" stroke-width="0.2">5</text>
<line x1="440.9" y1="232.5" x2="440.9" y2="234.5" stroke="#231f20" stroke-width="0.6"/>
<line x1="476.25" y1="232.5" x2="476.25" y2="234.5" stroke="#231f20" stroke-width="0.6"/>
<text x="440.9" y="241.7" font-size="8.3" text-anchor="middle" stroke="#231f20" stroke-width="0.2">Vehicle</text>
<text x="476.25" y="241.7" font-size="8.3" text-anchor="middle" stroke="#231f20" stroke-width="0.2">FLC</text>
<text x="405.2" y="198.85" font-size="8.4" text-anchor="middle" stroke="#231f20" stroke-width="0.2" transform="rotate(-90 405.2 198.85)"><tspan font-style="italic">ERG3</tspan> mRNA expression</text>
<text x="415.7" y="198.85" font-size="8.4" text-anchor="middle" stroke="#231f20" stroke-width="0.2" transform="rotate(-90 415.7 198.85)">(relative)</text>
<path d="M431.1 216.84V194.4H450.7V196.8" fill="none" stroke="#4a4a4a" stroke-width="0.72"/>
<text x="440.9" y="192.5" font-size="7.1" text-anchor="middle" fill="#333" stroke="#333" stroke-width="0.2">0.034</text>
<path d="M441 217.37V204.4H450.7V210.78" fill="none" stroke="#4a4a4a" stroke-width="0.72"/>
<text x="445.85" y="202.5" font-size="7.1" text-anchor="middle" fill="#333" stroke="#333" stroke-width="0.2">0.011</text>
<path d="M432 164.7V161.2H467.4V163.5" fill="none" stroke="#4a4a4a" stroke-width="0.72"/>
<text x="449.7" y="159.3" font-size="7.1" text-anchor="middle" fill="#333" stroke="#333" stroke-width="0.2">&lt;0.0001</text>
<path d="M466.7 172.4V169.6H476.1V206.61" fill="none" stroke="#4a4a4a" stroke-width="0.72"/>
<text x="471.4" y="167.7" font-size="7.1" text-anchor="middle" fill="#333" stroke="#333" stroke-width="0.2">0.002</text>
<path d="M476.1 169.6V161.2H485.8V170.4" fill="none" stroke="#4a4a4a" stroke-width="0.72"/>
<text x="480.95" y="159.3" font-size="7.1" text-anchor="middle" fill="#333" stroke="#333" stroke-width="0.2">0.047</text>
<path d="M450.3 154V150.9H486V153.7" fill="none" stroke="#4a4a4a" stroke-width="0.72"/>
<text x="468.15" y="149" font-size="7.1" text-anchor="middle" fill="#333" stroke="#333" stroke-width="0.2">0.027</text>
<path d="M440.8 142.5V139.9H476.6V143.3" fill="none" stroke="#4a4a4a" stroke-width="0.72"/>
<text x="458.7" y="138" font-size="7.1" text-anchor="middle" fill="#333" stroke="#333" stroke-width="0.2">0.004</text>
<rect x="523.5" y="210.31" width="6.4" height="21.89" fill="#cfe1f8" stroke="#3c4450" stroke-width="0.55"/>
<line x1="526.7" y1="209.42" x2="526.7" y2="211.21" stroke="#111" stroke-width="0.6"/>
<line x1="525.5" y1="209.42" x2="527.9" y2="209.42" stroke="#111" stroke-width="0.6"/>
<circle cx="527.27" cy="211.02" r="0.95" fill="#111"/>
<circle cx="527.93" cy="210.04" r="0.95" fill="#111"/>
<circle cx="526.02" cy="210.72" r="0.95" fill="#111"/>
<rect x="533.2" y="224.38" width="6.4" height="7.82" fill="#ee3538" stroke="#3c4450" stroke-width="0.55"/>
<line x1="536.4" y1="223.94" x2="536.4" y2="224.83" stroke="#111" stroke-width="0.6"/>
<line x1="535.2" y1="223.94" x2="537.6" y2="223.94" stroke="#111" stroke-width="0.6"/>
<circle cx="536.84" cy="224.17" r="0.95" fill="#111"/>
<circle cx="536.92" cy="224.56" r="0.95" fill="#111"/>
<circle cx="537.18" cy="224.48" r="0.95" fill="#111"/>
<rect x="543.2" y="209.87" width="6.4" height="22.33" fill="#4e9cf4" stroke="#3c4450" stroke-width="0.55"/>
<line x1="546.4" y1="209.42" x2="546.4" y2="210.31" stroke="#111" stroke-width="0.6"/>
<line x1="545.2" y1="209.42" x2="547.6" y2="209.42" stroke="#111" stroke-width="0.6"/>
<circle cx="545.63" cy="210.21" r="0.95" fill="#111"/>
<circle cx="546" cy="209.51" r="0.95" fill="#111"/>
<circle cx="547.25" cy="210.08" r="0.95" fill="#111"/>
<rect x="559.1" y="177.48" width="6.4" height="54.72" fill="#cfe1f8" stroke="#3c4450" stroke-width="0.55"/>
<line x1="562.3" y1="175.25" x2="562.3" y2="179.72" stroke="#111" stroke-width="0.6"/>
<line x1="561.1" y1="175.25" x2="563.5" y2="175.25" stroke="#111" stroke-width="0.6"/>
<circle cx="561.32" cy="176.9" r="0.95" fill="#111"/>
<circle cx="562.76" cy="177.25" r="0.95" fill="#111"/>
<circle cx="562.72" cy="178.98" r="0.95" fill="#111"/>
<rect x="568.7" y="218.13" width="6.4" height="14.07" fill="#ee3538" stroke="#3c4450" stroke-width="0.55"/>
<line x1="571.9" y1="217.24" x2="571.9" y2="219.02" stroke="#111" stroke-width="0.6"/>
<line x1="570.7" y1="217.24" x2="573.1" y2="217.24" stroke="#111" stroke-width="0.6"/>
<circle cx="571.44" cy="218.8" r="0.95" fill="#111"/>
<circle cx="571.07" cy="218.87" r="0.95" fill="#111"/>
<circle cx="571.63" cy="217.28" r="0.95" fill="#111"/>
<rect x="578.4" y="183.07" width="6.4" height="49.13" fill="#4e9cf4" stroke="#3c4450" stroke-width="0.55"/>
<line x1="581.6" y1="180.83" x2="581.6" y2="185.3" stroke="#111" stroke-width="0.6"/>
<line x1="580.4" y1="180.83" x2="582.8" y2="180.83" stroke="#111" stroke-width="0.6"/>
<circle cx="581.43" cy="180.88" r="0.95" fill="#111"/>
<circle cx="582.64" cy="182.59" r="0.95" fill="#111"/>
<circle cx="580.51" cy="182.23" r="0.95" fill="#111"/>
<line x1="520.5" y1="164.9" x2="520.5" y2="232.2" stroke="#231f20" stroke-width="0.7"/>
<line x1="520.5" y1="232.2" x2="587.2" y2="232.2" stroke="#231f20" stroke-width="0.7"/>
<line x1="518.5" y1="232.2" x2="520.5" y2="232.2" stroke="#231f20" stroke-width="0.6"/>
<text x="517.8" y="235.2" font-size="8.6" text-anchor="end" stroke="#231f20" stroke-width="0.2">0</text>
<line x1="518.5" y1="209.87" x2="520.5" y2="209.87" stroke="#231f20" stroke-width="0.6"/>
<text x="517.8" y="212.87" font-size="8.6" text-anchor="end" stroke="#231f20" stroke-width="0.2">1</text>
<line x1="518.5" y1="187.53" x2="520.5" y2="187.53" stroke="#231f20" stroke-width="0.6"/>
<text x="517.8" y="190.53" font-size="8.6" text-anchor="end" stroke="#231f20" stroke-width="0.2">2</text>
<line x1="518.5" y1="165.2" x2="520.5" y2="165.2" stroke="#231f20" stroke-width="0.6"/>
<text x="517.8" y="168.2" font-size="8.6" text-anchor="end" stroke="#231f20" stroke-width="0.2">3</text>
<line x1="536.55" y1="232.2" x2="536.55" y2="234.2" stroke="#231f20" stroke-width="0.6"/>
<line x1="571.95" y1="232.2" x2="571.95" y2="234.2" stroke="#231f20" stroke-width="0.6"/>
<text x="536.55" y="241.4" font-size="8.3" text-anchor="middle" stroke="#231f20" stroke-width="0.2">Vehicle</text>
<text x="571.95" y="241.4" font-size="8.3" text-anchor="middle" stroke="#231f20" stroke-width="0.2">FLC</text>
<text x="500.6" y="198.7" font-size="8.4" text-anchor="middle" stroke="#231f20" stroke-width="0.2" transform="rotate(-90 500.6 198.7)"><tspan font-style="italic">ERG25</tspan> mRNA expression</text>
<text x="511.1" y="198.7" font-size="8.4" text-anchor="middle" stroke="#231f20" stroke-width="0.2" transform="rotate(-90 511.1 198.7)">(relative)</text>
<path d="M526.8 207.62V201.7H536.4V222.14" fill="none" stroke="#4a4a4a" stroke-width="0.72"/>
<text x="531.6" y="199.8" font-size="7.1" text-anchor="middle" fill="#333" stroke="#333" stroke-width="0.2">0.015</text>
<path d="M536.1 222.14V171.4H570.3V215.44" fill="none" stroke="#4a4a4a" stroke-width="0.72"/>
<text x="553.2" y="169.5" font-size="7.1" text-anchor="middle" fill="#333" stroke="#333" stroke-width="0.2">0.038</text>
<path d="M573.1 215.44V171.4H581.6V179.03" fill="none" stroke="#4a4a4a" stroke-width="0.72"/>
<text x="577.35" y="169.5" font-size="7.1" text-anchor="middle" fill="#333" stroke="#333" stroke-width="0.2">0.008</text>
<path d="M536.3 163.5V161.9H546.8V163.5" fill="none" stroke="#4a4a4a" stroke-width="0.72"/>
<text x="541.55" y="160" font-size="7.1" text-anchor="middle" fill="#333" stroke="#333" stroke-width="0.2">0.0009</text>
<path d="M562.2 163.5V161.9H571.6V163.5" fill="none" stroke="#4a4a4a" stroke-width="0.72"/>
<text x="566.9" y="160" font-size="7.1" text-anchor="middle" fill="#333" stroke="#333" stroke-width="0.2">0.0095</text>
<path d="M526.3 161.9V152.3H562.4V153.7" fill="none" stroke="#4a4a4a" stroke-width="0.72"/>
<text x="544.35" y="150.4" font-size="7.1" text-anchor="middle" fill="#333" stroke="#333" stroke-width="0.2">0.0006</text>
<path d="M546.1 145.3V142.3H581.6V163.7" fill="none" stroke="#4a4a4a" stroke-width="0.72"/>
<text x="563.85" y="140.4" font-size="7.1" text-anchor="middle" fill="#333" stroke="#333" stroke-width="0.2">0.008</text>
<rect x="620.5" y="215.2" width="6.4" height="16.8" fill="#cfe1f8" stroke="#3c4450" stroke-width="0.55"/>
<line x1="623.7" y1="213.86" x2="623.7" y2="216.54" stroke="#111" stroke-width="0.6"/>
<line x1="622.5" y1="213.86" x2="624.9" y2="213.86" stroke="#111" stroke-width="0.6"/>
<circle cx="622.33" cy="213.95" r="0.95" fill="#111"/>
<circle cx="622.74" cy="214.57" r="0.95" fill="#111"/>
<circle cx="622.35" cy="213.89" r="0.95" fill="#111"/>
<rect x="630.5" y="211.84" width="6.4" height="20.16" fill="#ee3538" stroke="#3c4450" stroke-width="0.55"/>
<line x1="633.7" y1="211.5" x2="633.7" y2="212.18" stroke="#111" stroke-width="0.6"/>
<line x1="632.5" y1="211.5" x2="634.9" y2="211.5" stroke="#111" stroke-width="0.6"/>
<circle cx="634.21" cy="211.58" r="0.95" fill="#111"/>
<circle cx="635.1" cy="211.6" r="0.95" fill="#111"/>
<circle cx="633.25" cy="212.01" r="0.95" fill="#111"/>
<rect x="640.2" y="207.14" width="6.4" height="24.86" fill="#4e9cf4" stroke="#3c4450" stroke-width="0.55"/>
<line x1="643.4" y1="206.46" x2="643.4" y2="207.81" stroke="#111" stroke-width="0.6"/>
<line x1="642.2" y1="206.46" x2="644.6" y2="206.46" stroke="#111" stroke-width="0.6"/>
<circle cx="642.79" cy="206.86" r="0.95" fill="#111"/>
<circle cx="642.64" cy="207.45" r="0.95" fill="#111"/>
<circle cx="644.45" cy="206.66" r="0.95" fill="#111"/>
<rect x="656" y="180.76" width="6.4" height="51.24" fill="#cfe1f8" stroke="#3c4450" stroke-width="0.55"/>
<line x1="659.2" y1="179.08" x2="659.2" y2="182.44" stroke="#111" stroke-width="0.6"/>
<line x1="658" y1="179.08" x2="660.4" y2="179.08" stroke="#111" stroke-width="0.6"/>
<circle cx="658.43" cy="179.76" r="0.95" fill="#111"/>
<circle cx="659.23" cy="179.33" r="0.95" fill="#111"/>
<circle cx="659.08" cy="181.66" r="0.95" fill="#111"/>
<rect x="665.6" y="200.92" width="6.4" height="31.08" fill="#ee3538" stroke="#3c4450" stroke-width="0.55"/>
<line x1="668.8" y1="199.91" x2="668.8" y2="201.93" stroke="#111" stroke-width="0.6"/>
<line x1="667.6" y1="199.91" x2="670" y2="199.91" stroke="#111" stroke-width="0.6"/>
<circle cx="667.62" cy="201.08" r="0.95" fill="#111"/>
<circle cx="668.41" cy="200.79" r="0.95" fill="#111"/>
<circle cx="670" cy="200.78" r="0.95" fill="#111"/>
<rect x="675.3" y="185.8" width="6.4" height="46.2" fill="#4e9cf4" stroke="#3c4450" stroke-width="0.55"/>
<line x1="678.5" y1="183.78" x2="678.5" y2="187.82" stroke="#111" stroke-width="0.6"/>
<line x1="677.3" y1="183.78" x2="679.7" y2="183.78" stroke="#111" stroke-width="0.6"/>
<circle cx="678.23" cy="185.21" r="0.95" fill="#111"/>
<circle cx="679.89" cy="184.33" r="0.95" fill="#111"/>
<circle cx="679.75" cy="185.84" r="0.95" fill="#111"/>
<line x1="617.6" y1="164.5" x2="617.6" y2="232" stroke="#231f20" stroke-width="0.7"/>
<line x1="617.6" y1="232" x2="684.1" y2="232" stroke="#231f20" stroke-width="0.7"/>
<line x1="615.6" y1="232" x2="617.6" y2="232" stroke="#231f20" stroke-width="0.6"/>
<text x="614.9" y="235" font-size="8.6" text-anchor="end" stroke="#231f20" stroke-width="0.2">0</text>
<line x1="615.6" y1="215.2" x2="617.6" y2="215.2" stroke="#231f20" stroke-width="0.6"/>
<text x="614.9" y="218.2" font-size="8.6" text-anchor="end" stroke="#231f20" stroke-width="0.2">1</text>
<line x1="615.6" y1="198.4" x2="617.6" y2="198.4" stroke="#231f20" stroke-width="0.6"/>
<text x="614.9" y="201.4" font-size="8.6" text-anchor="end" stroke="#231f20" stroke-width="0.2">2</text>
<line x1="615.6" y1="181.6" x2="617.6" y2="181.6" stroke="#231f20" stroke-width="0.6"/>
<text x="614.9" y="184.6" font-size="8.6" text-anchor="end" stroke="#231f20" stroke-width="0.2">3</text>
<line x1="615.6" y1="164.8" x2="617.6" y2="164.8" stroke="#231f20" stroke-width="0.6"/>
<text x="614.9" y="167.8" font-size="8.6" text-anchor="end" stroke="#231f20" stroke-width="0.2">4</text>
<line x1="633.55" y1="232" x2="633.55" y2="234" stroke="#231f20" stroke-width="0.6"/>
<line x1="668.85" y1="232" x2="668.85" y2="234" stroke="#231f20" stroke-width="0.6"/>
<text x="633.55" y="241.2" font-size="8.3" text-anchor="middle" stroke="#231f20" stroke-width="0.2">Vehicle</text>
<text x="668.85" y="241.2" font-size="8.3" text-anchor="middle" stroke="#231f20" stroke-width="0.2">FLC</text>
<text x="597.7" y="198.4" font-size="8.4" text-anchor="middle" stroke="#231f20" stroke-width="0.2" transform="rotate(-90 597.7 198.4)"><tspan font-style="italic">UPC2</tspan> mRNA expression</text>
<text x="608.2" y="198.4" font-size="8.4" text-anchor="middle" stroke="#231f20" stroke-width="0.2" transform="rotate(-90 608.2 198.4)">(relative)</text>
<path d="M633.7 209.7V199.4H643.4V204.66" fill="none" stroke="#4a4a4a" stroke-width="0.72"/>
<text x="638.55" y="197.5" font-size="7.1" text-anchor="middle" fill="#333" stroke="#333" stroke-width="0.2">0.019</text>
<path d="M624.2 212.06V163.2H659.5V166.3" fill="none" stroke="#4a4a4a" stroke-width="0.72"/>
<text x="641.85" y="161.3" font-size="7.1" text-anchor="middle" fill="#333" stroke="#333" stroke-width="0.2">&lt;0.0001</text>
<path d="M667.3 166.3V163.2H678.9V181.98" fill="none" stroke="#4a4a4a" stroke-width="0.72"/>
<text x="673.1" y="161.3" font-size="7.1" text-anchor="middle" fill="#333" stroke="#333" stroke-width="0.2">0.020</text>
<path d="M659.1 177.28V175.2H667.6V198.11" fill="none" stroke="#4a4a4a" stroke-width="0.72"/>
<text x="663.35" y="173.3" font-size="7.1" text-anchor="middle" fill="#333" stroke="#333" stroke-width="0.2">0.030</text>
<path d="M643.4 154.5V152.3H678.9V154.5" fill="none" stroke="#4a4a4a" stroke-width="0.72"/>
<text x="661.15" y="150.4" font-size="7.1" text-anchor="middle" fill="#333" stroke="#333" stroke-width="0.2">0.020</text>
<path d="M633.4 152.7V142.3H667.1V144.1" fill="none" stroke="#4a4a4a" stroke-width="0.72"/>
<text x="650.25" y="140.4" font-size="7.1" text-anchor="middle" fill="#333" stroke="#333" stroke-width="0.2">0.012</text>
<rect x="428" y="320.87" width="6.5" height="22.43" fill="#cfe1f8" stroke="#3c4450" stroke-width="0.55"/>
<line x1="431.25" y1="319.3" x2="431.25" y2="322.44" stroke="#111" stroke-width="0.6"/>
<line x1="430.05" y1="319.3" x2="432.45" y2="319.3" stroke="#111" stroke-width="0.6"/>
<circle cx="431.2" cy="321.3" r="0.95" fill="#111"/>
<circle cx="431.1" cy="321.13" r="0.95" fill="#111"/>
<circle cx="431.69" cy="321.15" r="0.95" fill="#111"/>
<rect x="437.4" y="320.87" width="6.5" height="22.43" fill="#ee3538" stroke="#3c4450" stroke-width="0.55"/>
<line x1="440.65" y1="319.3" x2="440.65" y2="322.44" stroke="#111" stroke-width="0.6"/>
<line x1="439.45" y1="319.3" x2="441.85" y2="319.3" stroke="#111" stroke-width="0.6"/>
<circle cx="441.03" cy="321.62" r="0.95" fill="#111"/>
<circle cx="440.1" cy="322.41" r="0.95" fill="#111"/>
<circle cx="439.65" cy="321.38" r="0.95" fill="#111"/>
<rect x="447" y="318.62" width="6.5" height="24.68" fill="#4e9cf4" stroke="#3c4450" stroke-width="0.55"/>
<line x1="450.25" y1="317.73" x2="450.25" y2="319.52" stroke="#111" stroke-width="0.6"/>
<line x1="449.05" y1="317.73" x2="451.45" y2="317.73" stroke="#111" stroke-width="0.6"/>
<circle cx="449.72" cy="318.19" r="0.95" fill="#111"/>
<circle cx="451.53" cy="318.1" r="0.95" fill="#111"/>
<circle cx="451.35" cy="319.07" r="0.95" fill="#111"/>
<rect x="463.3" y="288.34" width="6.5" height="54.96" fill="#cfe1f8" stroke="#3c4450" stroke-width="0.55"/>
<line x1="466.55" y1="285.42" x2="466.55" y2="291.25" stroke="#111" stroke-width="0.6"/>
<line x1="465.35" y1="285.42" x2="467.75" y2="285.42" stroke="#111" stroke-width="0.6"/>
<circle cx="467.02" cy="286.54" r="0.95" fill="#111"/>
<circle cx="466.43" cy="291.1" r="0.95" fill="#111"/>
<circle cx="465.98" cy="287.6" r="0.95" fill="#111"/>
<rect x="472.8" y="314.14" width="6.5" height="29.16" fill="#ee3538" stroke="#3c4450" stroke-width="0.55"/>
<line x1="476.05" y1="313.24" x2="476.05" y2="315.03" stroke="#111" stroke-width="0.6"/>
<line x1="474.85" y1="313.24" x2="477.25" y2="313.24" stroke="#111" stroke-width="0.6"/>
<circle cx="475.52" cy="314.63" r="0.95" fill="#111"/>
<circle cx="476.86" cy="314.57" r="0.95" fill="#111"/>
<circle cx="475.83" cy="314.41" r="0.95" fill="#111"/>
<rect x="482.4" y="309.2" width="6.5" height="34.1" fill="#4e9cf4" stroke="#3c4450" stroke-width="0.55"/>
<line x1="485.65" y1="306.51" x2="485.65" y2="311.89" stroke="#111" stroke-width="0.6"/>
<line x1="484.45" y1="306.51" x2="486.85" y2="306.51" stroke="#111" stroke-width="0.6"/>
<circle cx="486.91" cy="308.43" r="0.95" fill="#111"/>
<circle cx="484.37" cy="310.32" r="0.95" fill="#111"/>
<circle cx="486.58" cy="306.65" r="0.95" fill="#111"/>
<line x1="424.8" y1="275.7" x2="424.8" y2="343.3" stroke="#231f20" stroke-width="0.7"/>
<line x1="424.8" y1="343.3" x2="491.3" y2="343.3" stroke="#231f20" stroke-width="0.7"/>
<line x1="422.8" y1="343.3" x2="424.8" y2="343.3" stroke="#231f20" stroke-width="0.6"/>
<text x="422.1" y="346.3" font-size="8.6" text-anchor="end" stroke="#231f20" stroke-width="0.2">0</text>
<line x1="422.8" y1="320.87" x2="424.8" y2="320.87" stroke="#231f20" stroke-width="0.6"/>
<text x="422.1" y="323.87" font-size="8.6" text-anchor="end" stroke="#231f20" stroke-width="0.2">1</text>
<line x1="422.8" y1="298.43" x2="424.8" y2="298.43" stroke="#231f20" stroke-width="0.6"/>
<text x="422.1" y="301.43" font-size="8.6" text-anchor="end" stroke="#231f20" stroke-width="0.2">2</text>
<line x1="422.8" y1="276" x2="424.8" y2="276" stroke="#231f20" stroke-width="0.6"/>
<text x="422.1" y="279" font-size="8.6" text-anchor="end" stroke="#231f20" stroke-width="0.2">3</text>
<line x1="440.75" y1="343.3" x2="440.75" y2="345.3" stroke="#231f20" stroke-width="0.6"/>
<line x1="476.1" y1="343.3" x2="476.1" y2="345.3" stroke="#231f20" stroke-width="0.6"/>
<text x="440.75" y="352.5" font-size="8.3" text-anchor="middle" stroke="#231f20" stroke-width="0.2">Vehicle</text>
<text x="476.1" y="352.5" font-size="8.3" text-anchor="middle" stroke="#231f20" stroke-width="0.2">FLC</text>
<text x="404.9" y="309.65" font-size="8.4" text-anchor="middle" stroke="#231f20" stroke-width="0.2" transform="rotate(-90 404.9 309.65)"><tspan font-style="italic">CDR1</tspan> mRNA expression</text>
<text x="415.4" y="309.65" font-size="8.4" text-anchor="middle" stroke="#231f20" stroke-width="0.2" transform="rotate(-90 415.4 309.65)">(relative)</text>
<path d="M431.3 317.5V279.3H465.7V282.6" fill="none" stroke="#4a4a4a" stroke-width="0.72"/>
<text x="448.5" y="277.4" font-size="7.1" text-anchor="middle" fill="#333" stroke="#333" stroke-width="0.2">0.020</text>
<path d="M468.4 282.6V279.3H476.3V311.44" fill="none" stroke="#4a4a4a" stroke-width="0.72"/>
<text x="472.35" y="277.4" font-size="7.1" text-anchor="middle" fill="#333" stroke="#333" stroke-width="0.2">0.031</text>
<path d="M450.3 271.9V268.3H485.8V304.71" fill="none" stroke="#4a4a4a" stroke-width="0.72"/>
<text x="468.05" y="266.4" font-size="7.1" text-anchor="middle" fill="#333" stroke="#333" stroke-width="0.2">0.027</text>
<rect x="523.8" y="326.48" width="6.3" height="16.82" fill="#cfe1f8" stroke="#3c4450" stroke-width="0.55"/>
<line x1="526.95" y1="326.14" x2="526.95" y2="326.81" stroke="#111" stroke-width="0.6"/>
<line x1="525.75" y1="326.14" x2="528.15" y2="326.14" stroke="#111" stroke-width="0.6"/>
<circle cx="527.81" cy="326.46" r="0.95" fill="#111"/>
<circle cx="526.36" cy="326.17" r="0.95" fill="#111"/>
<circle cx="527.52" cy="326.3" r="0.95" fill="#111"/>
<rect x="533.2" y="331.86" width="6.3" height="11.44" fill="#ee3538" stroke="#3c4450" stroke-width="0.55"/>
<line x1="536.35" y1="331.52" x2="536.35" y2="332.2" stroke="#111" stroke-width="0.6"/>
<line x1="535.15" y1="331.52" x2="537.55" y2="331.52" stroke="#111" stroke-width="0.6"/>
<circle cx="535.26" cy="331.75" r="0.95" fill="#111"/>
<circle cx="536.03" cy="332.18" r="0.95" fill="#111"/>
<circle cx="535.66" cy="331.69" r="0.95" fill="#111"/>
<rect x="543.2" y="326.14" width="6.3" height="17.16" fill="#4e9cf4" stroke="#3c4450" stroke-width="0.55"/>
<line x1="546.35" y1="325.8" x2="546.35" y2="326.48" stroke="#111" stroke-width="0.6"/>
<line x1="545.15" y1="325.8" x2="547.55" y2="325.8" stroke="#111" stroke-width="0.6"/>
<circle cx="545.84" cy="326.14" r="0.95" fill="#111"/>
<circle cx="547.6" cy="325.91" r="0.95" fill="#111"/>
<circle cx="547.75" cy="326.2" r="0.95" fill="#111"/>
<rect x="559.1" y="288.62" width="6.3" height="54.68" fill="#cfe1f8" stroke="#3c4450" stroke-width="0.55"/>
<line x1="562.25" y1="287.27" x2="562.25" y2="289.96" stroke="#111" stroke-width="0.6"/>
<line x1="561.05" y1="287.27" x2="563.45" y2="287.27" stroke="#111" stroke-width="0.6"/>
<circle cx="563.13" cy="289.8" r="0.95" fill="#111"/>
<circle cx="561.27" cy="287.61" r="0.95" fill="#111"/>
<circle cx="562.41" cy="288.07" r="0.95" fill="#111"/>
<rect x="568.7" y="334.05" width="6.3" height="9.25" fill="#ee3538" stroke="#3c4450" stroke-width="0.55"/>
<line x1="571.85" y1="333.71" x2="571.85" y2="334.38" stroke="#111" stroke-width="0.6"/>
<line x1="570.65" y1="333.71" x2="573.05" y2="333.71" stroke="#111" stroke-width="0.6"/>
<circle cx="571.04" cy="333.74" r="0.95" fill="#111"/>
<circle cx="572.92" cy="334.02" r="0.95" fill="#111"/>
<circle cx="571.32" cy="333.95" r="0.95" fill="#111"/>
<rect x="578.4" y="312.68" width="6.3" height="30.62" fill="#4e9cf4" stroke="#3c4450" stroke-width="0.55"/>
<line x1="581.55" y1="311" x2="581.55" y2="314.36" stroke="#111" stroke-width="0.6"/>
<line x1="580.35" y1="311" x2="582.75" y2="311" stroke="#111" stroke-width="0.6"/>
<circle cx="582.78" cy="314.09" r="0.95" fill="#111"/>
<circle cx="582.94" cy="312.77" r="0.95" fill="#111"/>
<circle cx="582.42" cy="313.88" r="0.95" fill="#111"/>
<line x1="520.5" y1="275.7" x2="520.5" y2="343.3" stroke="#231f20" stroke-width="0.7"/>
<line x1="520.5" y1="343.3" x2="587.1" y2="343.3" stroke="#231f20" stroke-width="0.7"/>
<line x1="518.5" y1="343.3" x2="520.5" y2="343.3" stroke="#231f20" stroke-width="0.6"/>
<text x="517.8" y="346.3" font-size="8.6" text-anchor="end" stroke="#231f20" stroke-width="0.2">0</text>
<line x1="518.5" y1="326.48" x2="520.5" y2="326.48" stroke="#231f20" stroke-width="0.6"/>
<text x="517.8" y="329.48" font-size="8.6" text-anchor="end" stroke="#231f20" stroke-width="0.2">1</text>
<line x1="518.5" y1="309.65" x2="520.5" y2="309.65" stroke="#231f20" stroke-width="0.6"/>
<text x="517.8" y="312.65" font-size="8.6" text-anchor="end" stroke="#231f20" stroke-width="0.2">2</text>
<line x1="518.5" y1="292.82" x2="520.5" y2="292.82" stroke="#231f20" stroke-width="0.6"/>
<text x="517.8" y="295.82" font-size="8.6" text-anchor="end" stroke="#231f20" stroke-width="0.2">3</text>
<line x1="518.5" y1="276" x2="520.5" y2="276" stroke="#231f20" stroke-width="0.6"/>
<text x="517.8" y="279" font-size="8.6" text-anchor="end" stroke="#231f20" stroke-width="0.2">4</text>
<line x1="536.65" y1="343.3" x2="536.65" y2="345.3" stroke="#231f20" stroke-width="0.6"/>
<line x1="571.9" y1="343.3" x2="571.9" y2="345.3" stroke="#231f20" stroke-width="0.6"/>
<text x="536.65" y="352.5" font-size="8.3" text-anchor="middle" stroke="#231f20" stroke-width="0.2">Vehicle</text>
<text x="571.9" y="352.5" font-size="8.3" text-anchor="middle" stroke="#231f20" stroke-width="0.2">FLC</text>
<text x="500.6" y="309.65" font-size="8.4" text-anchor="middle" stroke="#231f20" stroke-width="0.2" transform="rotate(-90 500.6 309.65)"><tspan font-style="italic">SNQ2</tspan> mRNA expression</text>
<text x="511.1" y="309.65" font-size="8.4" text-anchor="middle" stroke="#231f20" stroke-width="0.2" transform="rotate(-90 511.1 309.65)">(relative)</text>
<path d="M527 322.6V320.5H536.3V326.7" fill="none" stroke="#4a4a4a" stroke-width="0.72"/>
<text x="531.65" y="318.6" font-size="7.1" text-anchor="middle" fill="#333" stroke="#333" stroke-width="0.2">0.006</text>
<path d="M536.3 312.9V310.5H546.8V323.1" fill="none" stroke="#4a4a4a" stroke-width="0.72"/>
<text x="541.55" y="308.6" font-size="7.1" text-anchor="middle" fill="#333" stroke="#333" stroke-width="0.2">0.029</text>
<path d="M526.6 309.3V284.3H560.9V285.9" fill="none" stroke="#4a4a4a" stroke-width="0.72"/>
<text x="543.75" y="282.4" font-size="7.1" text-anchor="middle" fill="#333" stroke="#333" stroke-width="0.2">&lt;0.0001</text>
<path d="M563.4 285.9V284.3H571.6V331.91" fill="none" stroke="#4a4a4a" stroke-width="0.72"/>
<text x="567.5" y="282.4" font-size="7.1" text-anchor="middle" fill="#333" stroke="#333" stroke-width="0.2">&lt;0.0001</text>
<path d="M571.6 331.91V307.1H581.6V308.8" fill="none" stroke="#4a4a4a" stroke-width="0.72"/>
<text x="576.6" y="305.2" font-size="7.1" text-anchor="middle" fill="#333" stroke="#333" stroke-width="0.2">0.011</text>
<path d="M562.4 274.4V272.4H581.6V307.1" fill="none" stroke="#4a4a4a" stroke-width="0.72"/>
<text x="572" y="270.5" font-size="7.1" text-anchor="middle" fill="#333" stroke="#333" stroke-width="0.2">0.014</text>
<path d="M546.4 273.8V262.4H581.6V264.2" fill="none" stroke="#4a4a4a" stroke-width="0.72"/>
<text x="564" y="260.5" font-size="7.1" text-anchor="middle" fill="#333" stroke="#333" stroke-width="0.2">0.011</text>
<path d="M536.1 273.8V253.2H571.9V254.7" fill="none" stroke="#4a4a4a" stroke-width="0.72"/>
<text x="554" y="251.3" font-size="7.1" text-anchor="middle" fill="#333" stroke="#333" stroke-width="0.2">0.041</text>
<rect x="620.5" y="320.8" width="6.4" height="22.4" fill="#cfe1f8" stroke="#3c4450" stroke-width="0.55"/>
<line x1="623.7" y1="320.13" x2="623.7" y2="321.47" stroke="#111" stroke-width="0.6"/>
<line x1="622.5" y1="320.13" x2="624.9" y2="320.13" stroke="#111" stroke-width="0.6"/>
<circle cx="624.15" cy="321.23" r="0.95" fill="#111"/>
<circle cx="622.85" cy="321.02" r="0.95" fill="#111"/>
<circle cx="623.68" cy="320.81" r="0.95" fill="#111"/>
<rect x="630.5" y="307.81" width="6.4" height="35.39" fill="#ee3538" stroke="#3c4450" stroke-width="0.55"/>
<line x1="633.7" y1="307.36" x2="633.7" y2="308.26" stroke="#111" stroke-width="0.6"/>
<line x1="632.5" y1="307.36" x2="634.9" y2="307.36" stroke="#111" stroke-width="0.6"/>
<circle cx="633.58" cy="307.83" r="0.95" fill="#111"/>
<circle cx="633.01" cy="308.02" r="0.95" fill="#111"/>
<circle cx="633.21" cy="307.64" r="0.95" fill="#111"/>
<rect x="640.2" y="327.97" width="6.4" height="15.23" fill="#4e9cf4" stroke="#3c4450" stroke-width="0.55"/>
<line x1="643.4" y1="327.52" x2="643.4" y2="328.42" stroke="#111" stroke-width="0.6"/>
<line x1="642.2" y1="327.52" x2="644.6" y2="327.52" stroke="#111" stroke-width="0.6"/>
<circle cx="644.2" cy="327.81" r="0.95" fill="#111"/>
<circle cx="644.64" cy="327.64" r="0.95" fill="#111"/>
<circle cx="642.66" cy="328.21" r="0.95" fill="#111"/>
<rect x="656" y="291.23" width="6.4" height="51.97" fill="#cfe1f8" stroke="#3c4450" stroke-width="0.55"/>
<line x1="659.2" y1="289.44" x2="659.2" y2="293.02" stroke="#111" stroke-width="0.6"/>
<line x1="658" y1="289.44" x2="660.4" y2="289.44" stroke="#111" stroke-width="0.6"/>
<circle cx="659.41" cy="290.39" r="0.95" fill="#111"/>
<circle cx="659.7" cy="292.3" r="0.95" fill="#111"/>
<circle cx="660.14" cy="289.89" r="0.95" fill="#111"/>
<rect x="665.6" y="313.41" width="6.4" height="29.79" fill="#ee3538" stroke="#3c4450" stroke-width="0.55"/>
<line x1="668.8" y1="312.96" x2="668.8" y2="313.86" stroke="#111" stroke-width="0.6"/>
<line x1="667.6" y1="312.96" x2="670" y2="312.96" stroke="#111" stroke-width="0.6"/>
<circle cx="668.24" cy="313.66" r="0.95" fill="#111"/>
<circle cx="670.13" cy="313.85" r="0.95" fill="#111"/>
<circle cx="669.44" cy="313.66" r="0.95" fill="#111"/>
<rect x="675.3" y="311.39" width="6.4" height="31.81" fill="#4e9cf4" stroke="#3c4450" stroke-width="0.55"/>
<line x1="678.5" y1="309.6" x2="678.5" y2="313.18" stroke="#111" stroke-width="0.6"/>
<line x1="677.3" y1="309.6" x2="679.7" y2="309.6" stroke="#111" stroke-width="0.6"/>
<circle cx="678.76" cy="311.26" r="0.95" fill="#111"/>
<circle cx="679.41" cy="311.3" r="0.95" fill="#111"/>
<circle cx="677.95" cy="311.03" r="0.95" fill="#111"/>
<line x1="617.6" y1="275.7" x2="617.6" y2="343.2" stroke="#231f20" stroke-width="0.7"/>
<line x1="617.6" y1="343.2" x2="684.1" y2="343.2" stroke="#231f20" stroke-width="0.7"/>
<line x1="615.6" y1="343.2" x2="617.6" y2="343.2" stroke="#231f20" stroke-width="0.6"/>
<text x="614.9" y="346.2" font-size="8.6" text-anchor="end" stroke="#231f20" stroke-width="0.2">0</text>
<line x1="615.6" y1="320.8" x2="617.6" y2="320.8" stroke="#231f20" stroke-width="0.6"/>
<text x="614.9" y="323.8" font-size="8.6" text-anchor="end" stroke="#231f20" stroke-width="0.2">1</text>
<line x1="615.6" y1="298.4" x2="617.6" y2="298.4" stroke="#231f20" stroke-width="0.6"/>
<text x="614.9" y="301.4" font-size="8.6" text-anchor="end" stroke="#231f20" stroke-width="0.2">2</text>
<line x1="615.6" y1="276" x2="617.6" y2="276" stroke="#231f20" stroke-width="0.6"/>
<text x="614.9" y="279" font-size="8.6" text-anchor="end" stroke="#231f20" stroke-width="0.2">3</text>
<line x1="633.55" y1="343.2" x2="633.55" y2="345.2" stroke="#231f20" stroke-width="0.6"/>
<line x1="668.85" y1="343.2" x2="668.85" y2="345.2" stroke="#231f20" stroke-width="0.6"/>
<text x="633.55" y="352.4" font-size="8.3" text-anchor="middle" stroke="#231f20" stroke-width="0.2">Vehicle</text>
<text x="668.85" y="352.4" font-size="8.3" text-anchor="middle" stroke="#231f20" stroke-width="0.2">FLC</text>
<text x="597.7" y="309.6" font-size="8.4" text-anchor="middle" stroke="#231f20" stroke-width="0.2" transform="rotate(-90 597.7 309.6)"><tspan font-style="italic">MDR1</tspan> mRNA expression</text>
<text x="608.2" y="309.6" font-size="8.4" text-anchor="middle" stroke="#231f20" stroke-width="0.2" transform="rotate(-90 608.2 309.6)">(relative)</text>
<path d="M624.2 318.33V304.3H633.4V305.56" fill="none" stroke="#4a4a4a" stroke-width="0.72"/>
<text x="628.8" y="302.4" font-size="7.1" text-anchor="middle" fill="#333" stroke="#333" stroke-width="0.2">&lt;0.0001</text>
<path d="M633.4 296.1V294.6H643.1V325.72" fill="none" stroke="#4a4a4a" stroke-width="0.72"/>
<text x="638.25" y="292.7" font-size="7.1" text-anchor="middle" fill="#333" stroke="#333" stroke-width="0.2">&lt;0.0001</text>
<path d="M624.2 290.5V283.3H643.6V286.4" fill="none" stroke="#4a4a4a" stroke-width="0.72"/>
<text x="633.9" y="281.4" font-size="7.1" text-anchor="middle" fill="#333" stroke="#333" stroke-width="0.2">0.023</text>
<path d="M659.1 286.9V283.3H668.6V311.16" fill="none" stroke="#4a4a4a" stroke-width="0.72"/>
<text x="663.85" y="281.4" font-size="7.1" text-anchor="middle" fill="#333" stroke="#333" stroke-width="0.2">0.016</text>
<path d="M643.4 275.7V273.4H678.6V307.8" fill="none" stroke="#4a4a4a" stroke-width="0.72"/>
<text x="661" y="271.5" font-size="7.1" text-anchor="middle" fill="#333" stroke="#333" stroke-width="0.2">0.012</text>
<path d="M624.2 275.1V263.2H659.1V266.5" fill="none" stroke="#4a4a4a" stroke-width="0.72"/>
<text x="641.65" y="261.3" font-size="7.1" text-anchor="middle" fill="#333" stroke="#333" stroke-width="0.2">0.007</text>
<path d="M633.2 254.7V253.2H669V266.5" fill="none" stroke="#4a4a4a" stroke-width="0.72"/>
<text x="651.1" y="251.3" font-size="7.1" text-anchor="middle" fill="#333" stroke="#333" stroke-width="0.2">0.034</text>
<rect x="594.4" y="53.9" width="5.6" height="3.8" fill="#cfe1f8" stroke="#3c4450" stroke-width="0.5"/>
<text x="601.6" y="58.8" font-size="8.4" stroke="#231f20" stroke-width="0.2">CBS12767</text>
<rect x="594.4" y="63.5" width="5.6" height="3.8" fill="#ee3538" stroke="#3c4450" stroke-width="0.5"/>
<text x="601.6" y="68.4" font-size="8.4" stroke="#231f20" stroke-width="0.2"><tspan font-style="italic">gcn5</tspan>Δ</text>
<rect x="594.4" y="73.1" width="5.6" height="3.8" fill="#4e9cf4" stroke="#3c4450" stroke-width="0.5"/>
<text x="601.6" y="78" font-size="8.4" font-style="italic" stroke="#231f20" stroke-width="0.2">GCN5 AB</text>
<text x="1" y="373.5" font-size="16.5" stroke="#231f20" stroke-width="0.2">e</text>
<line x1="102" y1="393.4" x2="245.6" y2="393.4" stroke="#4a4a4a" stroke-width="0.8"/>
<line x1="131.4" y1="390.2" x2="131.4" y2="393.4" stroke="#4a4a4a" stroke-width="0.7"/>
<text x="131.4" y="386.8" font-size="7.8" text-anchor="middle" stroke="#231f20" stroke-width="0.2">-600</text>
<line x1="166.6" y1="390.2" x2="166.6" y2="393.4" stroke="#4a4a4a" stroke-width="0.7"/>
<text x="166.6" y="386.8" font-size="7.8" text-anchor="middle" stroke="#231f20" stroke-width="0.2">-400</text>
<line x1="202.6" y1="390.2" x2="202.6" y2="393.4" stroke="#4a4a4a" stroke-width="0.7"/>
<text x="202.6" y="386.8" font-size="7.8" text-anchor="middle" stroke="#231f20" stroke-width="0.2">-200</text>
<line x1="238" y1="390.2" x2="238" y2="393.4" stroke="#4a4a4a" stroke-width="0.7"/>
<text x="238" y="386.8" font-size="7.8" text-anchor="middle" stroke="#231f20" stroke-width="0.2">0</text>
<text x="246.8" y="386.8" font-size="7.8" stroke="#231f20" stroke-width="0.2">(bp)</text>
<line x1="32" y1="413.9" x2="330" y2="413.9" stroke="#a8a8a8" stroke-width="1"/>
<polygon points="37,408.2 100.6,408.2 112.9,413.9 100.6,419.6 37,419.6" fill="#b6b6b6" stroke="#4d4d4d" stroke-width="0.6"/>
<text x="70.5" y="416.9" font-size="8" text-anchor="middle" font-style="italic" stroke="#231f20" stroke-width="0.2">B9J08_001449</text>
<polygon points="238,408.2 310.8,408.2 323.6,413.9 310.8,419.6 238,419.6" fill="#f39200" stroke="#4d4d4d" stroke-width="0.6"/>
<text x="278.5" y="416.9" font-size="8" text-anchor="middle" font-style="italic" stroke="#231f20" stroke-width="0.2">ERG11</text>
<text x="135.2" y="408" font-size="8.6" text-anchor="middle" stroke="#231f20" stroke-width="0.2" font-family='"Liberation Serif", "Times New Roman", serif'>III</text>
<line x1="126.1" y1="409.7" x2="143.7" y2="409.7" stroke="#555" stroke-width="0.7"/>
<text x="182.3" y="408" font-size="8.6" text-anchor="middle" stroke="#231f20" stroke-width="0.2" font-family='"Liberation Serif", "Times New Roman", serif'>II</text>
<line x1="173.7" y1="409.7" x2="191.2" y2="409.7" stroke="#555" stroke-width="0.7"/>
<text x="212.4" y="408" font-size="8.6" text-anchor="middle" stroke="#231f20" stroke-width="0.2" font-family='"Liberation Serif", "Times New Roman", serif'>I</text>
<line x1="202.9" y1="409.7" x2="220.2" y2="409.7" stroke="#555" stroke-width="0.7"/>
<text x="84.7" y="444" font-size="8.3" text-anchor="middle" stroke="#231f20" stroke-width="0.2"><tspan font-style="italic">ERG11</tspan> Promoter</text>
<text x="292.8" y="443.6" font-size="8.3" text-anchor="middle" stroke="#231f20" stroke-width="0.2"><tspan font-style="italic">ERG11</tspan> Promoter</text>
<line x1="28.6" y1="535.2" x2="147" y2="535.2" stroke="#231f20" stroke-width="0.6"/>
<rect x="31.3" y="479.55" width="5.6" height="55.65" fill="#4a9af0" stroke="#3c4450" stroke-width="0.5"/>
<line x1="34.1" y1="473.09" x2="34.1" y2="486.01" stroke="#111" stroke-width="0.6"/>
<line x1="33" y1="473.09" x2="35.2" y2="473.09" stroke="#111" stroke-width="0.6"/>
<line x1="33" y1="486.01" x2="35.2" y2="486.01" stroke="#111" stroke-width="0.6"/>
<circle cx="33.5" cy="473.09" r="0.95" fill="#111"/>
<circle cx="34.44" cy="483.43" r="0.95" fill="#111"/>
<circle cx="34.34" cy="478.9" r="0.95" fill="#111"/>
<rect x="40.1" y="506.88" width="5.6" height="28.32" fill="#ee1c1c" stroke="#3c4450" stroke-width="0.5"/>
<line x1="42.9" y1="506.38" x2="42.9" y2="507.38" stroke="#111" stroke-width="0.6"/>
<line x1="41.8" y1="506.38" x2="44" y2="506.38" stroke="#111" stroke-width="0.6"/>
<line x1="41.8" y1="507.38" x2="44" y2="507.38" stroke="#111" stroke-width="0.6"/>
<circle cx="42.86" cy="506.38" r="0.95" fill="#111"/>
<circle cx="42.39" cy="507.18" r="0.95" fill="#111"/>
<circle cx="43.43" cy="506.83" r="0.95" fill="#111"/>
<line x1="49.1" y1="534.8" x2="53.7" y2="534.8" stroke="#111" stroke-width="0.8"/>
<circle cx="50" cy="534.5" r="0.85" fill="#111"/>
<circle cx="51.4" cy="534.5" r="0.85" fill="#111"/>
<circle cx="52.8" cy="534.5" r="0.85" fill="#111"/>
<line x1="57.3" y1="534.8" x2="61.9" y2="534.8" stroke="#111" stroke-width="0.8"/>
<circle cx="58.2" cy="534.5" r="0.85" fill="#111"/>
<circle cx="59.6" cy="534.5" r="0.85" fill="#111"/>
<circle cx="61" cy="534.5" r="0.85" fill="#111"/>
<line x1="51.9" y1="524" x2="51.9" y2="529.6" stroke="#0b0bb8" stroke-width="1"/>
<polygon points="49.8,528.6 54,528.6 51.9,532.2" fill="#0b0bb8"/>
<line x1="59.5" y1="524" x2="59.5" y2="529.6" stroke="#f8a043" stroke-width="1"/>
<polygon points="57.4,528.6 61.6,528.6 59.5,532.2" fill="#f8a043"/>
<line x1="46.9" y1="535.2" x2="46.9" y2="537.2" stroke="#231f20" stroke-width="0.6"/>
<text x="46.9" y="544.8" font-size="8.6" text-anchor="middle" stroke="#231f20" stroke-width="0.2" font-family='"Liberation Serif", "Times New Roman", serif'>I</text>
<path d="M34.1 471.09V458.1H42.9V504.38" fill="none" stroke="#4a4a4a" stroke-width="0.72"/>
<text x="38.5" y="456.1" font-size="7" text-anchor="middle" fill="#333" stroke="#333" stroke-width="0.2">0.003</text>
<rect x="72" y="482.53" width="5.6" height="52.67" fill="#4a9af0" stroke="#3c4450" stroke-width="0.5"/>
<line x1="74.8" y1="472.59" x2="74.8" y2="492.47" stroke="#111" stroke-width="0.6"/>
<line x1="73.7" y1="472.59" x2="75.9" y2="472.59" stroke="#111" stroke-width="0.6"/>
<line x1="73.7" y1="492.47" x2="75.9" y2="492.47" stroke="#111" stroke-width="0.6"/>
<circle cx="75.35" cy="472.59" r="0.95" fill="#111"/>
<circle cx="74.82" cy="488.49" r="0.95" fill="#111"/>
<circle cx="74.81" cy="481.54" r="0.95" fill="#111"/>
<rect x="80.8" y="502.41" width="5.6" height="32.79" fill="#ee1c1c" stroke="#3c4450" stroke-width="0.5"/>
<line x1="83.6" y1="501.41" x2="83.6" y2="503.4" stroke="#111" stroke-width="0.6"/>
<line x1="82.5" y1="501.41" x2="84.7" y2="501.41" stroke="#111" stroke-width="0.6"/>
<line x1="82.5" y1="503.4" x2="84.7" y2="503.4" stroke="#111" stroke-width="0.6"/>
<circle cx="83.12" cy="501.41" r="0.95" fill="#111"/>
<circle cx="82.71" cy="503" r="0.95" fill="#111"/>
<circle cx="83.37" cy="502.31" r="0.95" fill="#111"/>
<line x1="89.8" y1="534.8" x2="94.4" y2="534.8" stroke="#111" stroke-width="0.8"/>
<circle cx="90.7" cy="534.5" r="0.85" fill="#111"/>
<circle cx="92.1" cy="534.5" r="0.85" fill="#111"/>
<circle cx="93.5" cy="534.5" r="0.85" fill="#111"/>
<line x1="98" y1="534.8" x2="102.6" y2="534.8" stroke="#111" stroke-width="0.8"/>
<circle cx="98.9" cy="534.5" r="0.85" fill="#111"/>
<circle cx="100.3" cy="534.5" r="0.85" fill="#111"/>
<circle cx="101.7" cy="534.5" r="0.85" fill="#111"/>
<line x1="92.6" y1="524" x2="92.6" y2="529.6" stroke="#0b0bb8" stroke-width="1"/>
<polygon points="90.5,528.6 94.7,528.6 92.6,532.2" fill="#0b0bb8"/>
<line x1="100.2" y1="524" x2="100.2" y2="529.6" stroke="#f8a043" stroke-width="1"/>
<polygon points="98.1,528.6 102.3,528.6 100.2,532.2" fill="#f8a043"/>
<line x1="87.6" y1="535.2" x2="87.6" y2="537.2" stroke="#231f20" stroke-width="0.6"/>
<text x="87.6" y="544.8" font-size="8.6" text-anchor="middle" stroke="#231f20" stroke-width="0.2" font-family='"Liberation Serif", "Times New Roman", serif'>II</text>
<path d="M74.8 470.59V458.1H83.6V499.41" fill="none" stroke="#4a4a4a" stroke-width="0.72"/>
<text x="79.2" y="456.1" font-size="7" text-anchor="middle" fill="#333" stroke="#333" stroke-width="0.2">0.014</text>
<rect x="112.6" y="472.59" width="5.6" height="62.61" fill="#4a9af0" stroke="#3c4450" stroke-width="0.5"/>
<line x1="115.4" y1="464.64" x2="115.4" y2="480.54" stroke="#111" stroke-width="0.6"/>
<line x1="114.3" y1="464.64" x2="116.5" y2="464.64" stroke="#111" stroke-width="0.6"/>
<line x1="114.3" y1="480.54" x2="116.5" y2="480.54" stroke="#111" stroke-width="0.6"/>
<circle cx="115.55" cy="464.64" r="0.95" fill="#111"/>
<circle cx="114.62" cy="477.36" r="0.95" fill="#111"/>
<circle cx="115.93" cy="471.8" r="0.95" fill="#111"/>
<rect x="121.4" y="492.47" width="5.6" height="42.73" fill="#ee1c1c" stroke="#3c4450" stroke-width="0.5"/>
<line x1="124.2" y1="489.98" x2="124.2" y2="494.95" stroke="#111" stroke-width="0.6"/>
<line x1="123.1" y1="489.98" x2="125.3" y2="489.98" stroke="#111" stroke-width="0.6"/>
<line x1="123.1" y1="494.95" x2="125.3" y2="494.95" stroke="#111" stroke-width="0.6"/>
<circle cx="123.72" cy="489.98" r="0.95" fill="#111"/>
<circle cx="123.72" cy="493.96" r="0.95" fill="#111"/>
<circle cx="123.38" cy="492.22" r="0.95" fill="#111"/>
<line x1="130.4" y1="534.8" x2="135" y2="534.8" stroke="#111" stroke-width="0.8"/>
<circle cx="131.3" cy="534.5" r="0.85" fill="#111"/>
<circle cx="132.7" cy="534.5" r="0.85" fill="#111"/>
<circle cx="134.1" cy="534.5" r="0.85" fill="#111"/>
<line x1="138.6" y1="534.8" x2="143.2" y2="534.8" stroke="#111" stroke-width="0.8"/>
<circle cx="139.5" cy="534.5" r="0.85" fill="#111"/>
<circle cx="140.9" cy="534.5" r="0.85" fill="#111"/>
<circle cx="142.3" cy="534.5" r="0.85" fill="#111"/>
<line x1="133.2" y1="524" x2="133.2" y2="529.6" stroke="#0b0bb8" stroke-width="1"/>
<polygon points="131.1,528.6 135.3,528.6 133.2,532.2" fill="#0b0bb8"/>
<line x1="140.8" y1="524" x2="140.8" y2="529.6" stroke="#f8a043" stroke-width="1"/>
<polygon points="138.7,528.6 142.9,528.6 140.8,532.2" fill="#f8a043"/>
<line x1="128.2" y1="535.2" x2="128.2" y2="537.2" stroke="#231f20" stroke-width="0.6"/>
<text x="128.2" y="544.8" font-size="8.6" text-anchor="middle" stroke="#231f20" stroke-width="0.2" font-family='"Liberation Serif", "Times New Roman", serif'>III</text>
<path d="M115.4 462.64V458H124.2V487.98" fill="none" stroke="#4a4a4a" stroke-width="0.72"/>
<text x="119.8" y="456" font-size="7" text-anchor="middle" fill="#333" stroke="#333" stroke-width="0.2">0.015</text>
<line x1="28.6" y1="455.4" x2="28.6" y2="535.2" stroke="#231f20" stroke-width="0.6"/>
<line x1="26.6" y1="535.2" x2="28.6" y2="535.2" stroke="#231f20" stroke-width="0.6"/>
<text x="25.9" y="538.2" font-size="8.7" text-anchor="end" stroke="#231f20" stroke-width="0.2">0</text>
<line x1="26.6" y1="515.33" x2="28.6" y2="515.33" stroke="#231f20" stroke-width="0.6"/>
<text x="25.9" y="518.33" font-size="8.7" text-anchor="end" stroke="#231f20" stroke-width="0.2">2</text>
<line x1="26.6" y1="495.45" x2="28.6" y2="495.45" stroke="#231f20" stroke-width="0.6"/>
<text x="25.9" y="498.45" font-size="8.7" text-anchor="end" stroke="#231f20" stroke-width="0.2">4</text>
<line x1="26.6" y1="475.57" x2="28.6" y2="475.57" stroke="#231f20" stroke-width="0.6"/>
<text x="25.9" y="478.57" font-size="8.7" text-anchor="end" stroke="#231f20" stroke-width="0.2">6</text>
<line x1="26.6" y1="455.7" x2="28.6" y2="455.7" stroke="#231f20" stroke-width="0.6"/>
<text x="25.9" y="458.7" font-size="8.7" text-anchor="end" stroke="#231f20" stroke-width="0.2">8</text>
<text x="16.4" y="498" font-size="8.4" text-anchor="middle" stroke="#231f20" stroke-width="0.2" transform="rotate(-90 16.4 498)">% Input</text>
<rect x="144.3" y="459.7" width="8" height="3" fill="#4a9af0" stroke="#3c4450" stroke-width="0.5"/>
<text x="154.8" y="463.9" font-size="7" stroke="#231f20" stroke-width="0.2">WT-H3K14Ac</text>
<rect x="144.3" y="470.2" width="8" height="3" fill="#ee1c1c" stroke="#3c4450" stroke-width="0.5"/>
<text x="154.8" y="474.4" font-size="7" stroke="#231f20" stroke-width="0.2"><tspan font-style="italic">gcn5</tspan>Δ-H3K14Ac</text>
<rect x="144.3" y="480.7" width="8" height="3" fill="#0b0bb8" stroke="#3c4450" stroke-width="0.5"/>
<text x="154.8" y="484.9" font-size="7" stroke="#231f20" stroke-width="0.2">WT-IgG</text>
<rect x="144.3" y="491.2" width="8" height="3" fill="#f8a043" stroke="#3c4450" stroke-width="0.5"/>
<text x="154.8" y="495.4" font-size="7" stroke="#231f20" stroke-width="0.2"><tspan font-style="italic">gcn5</tspan>Δ-IgG</text>
<line x1="232.2" y1="535.1" x2="350" y2="535.1" stroke="#231f20" stroke-width="0.6"/>
<line x1="235.1" y1="534.7" x2="239.7" y2="534.7" stroke="#111" stroke-width="0.8"/>
<circle cx="236" cy="534.4" r="0.85" fill="#111"/>
<circle cx="237.4" cy="534.4" r="0.85" fill="#111"/>
<circle cx="238.8" cy="534.4" r="0.85" fill="#111"/>
<line x1="237.4" y1="524.3" x2="237.4" y2="529.9" stroke="#d6a04c" stroke-width="1"/>
<polygon points="235.3,528.9 239.5,528.9 237.4,532.5" fill="#d6a04c"/>
<rect x="242.1" y="514.69" width="4.6" height="20.41" fill="#8fbdf4" stroke="#3c4450" stroke-width="0.5"/>
<line x1="244.4" y1="514.3" x2="244.4" y2="515.08" stroke="#111" stroke-width="0.6"/>
<line x1="243.3" y1="514.3" x2="245.5" y2="514.3" stroke="#111" stroke-width="0.6"/>
<line x1="243.3" y1="515.08" x2="245.5" y2="515.08" stroke="#111" stroke-width="0.6"/>
<circle cx="245.22" cy="514.3" r="0.95" fill="#111"/>
<circle cx="243.75" cy="514.93" r="0.95" fill="#111"/>
<circle cx="243.54" cy="514.65" r="0.95" fill="#111"/>
<rect x="249.1" y="501.74" width="4.6" height="33.36" fill="#f27878" stroke="#3c4450" stroke-width="0.5"/>
<line x1="251.4" y1="500.95" x2="251.4" y2="502.52" stroke="#111" stroke-width="0.6"/>
<line x1="250.3" y1="500.95" x2="252.5" y2="500.95" stroke="#111" stroke-width="0.6"/>
<line x1="250.3" y1="502.52" x2="252.5" y2="502.52" stroke="#111" stroke-width="0.6"/>
<circle cx="252.3" cy="500.95" r="0.95" fill="#111"/>
<circle cx="250.83" cy="502.21" r="0.95" fill="#111"/>
<circle cx="250.72" cy="501.66" r="0.95" fill="#111"/>
<rect x="256.2" y="512.34" width="4.6" height="22.76" fill="#f8a03c" stroke="#3c4450" stroke-width="0.5"/>
<line x1="258.5" y1="511.55" x2="258.5" y2="513.12" stroke="#111" stroke-width="0.6"/>
<line x1="257.4" y1="511.55" x2="259.6" y2="511.55" stroke="#111" stroke-width="0.6"/>
<line x1="257.4" y1="513.12" x2="259.6" y2="513.12" stroke="#111" stroke-width="0.6"/>
<circle cx="258.77" cy="511.55" r="0.95" fill="#111"/>
<circle cx="258.22" cy="512.81" r="0.95" fill="#111"/>
<circle cx="259.2" cy="512.26" r="0.95" fill="#111"/>
<rect x="263.3" y="525.68" width="4.6" height="9.42" fill="#3e8ce8" stroke="#3c4450" stroke-width="0.5"/>
<line x1="265.6" y1="525.29" x2="265.6" y2="526.07" stroke="#111" stroke-width="0.6"/>
<line x1="264.5" y1="525.29" x2="266.7" y2="525.29" stroke="#111" stroke-width="0.6"/>
<line x1="264.5" y1="526.07" x2="266.7" y2="526.07" stroke="#111" stroke-width="0.6"/>
<circle cx="265.12" cy="525.29" r="0.95" fill="#111"/>
<circle cx="266.43" cy="525.92" r="0.95" fill="#111"/>
<circle cx="265.28" cy="525.64" r="0.95" fill="#111"/>
<line x1="251.4" y1="535.1" x2="251.4" y2="537.1" stroke="#231f20" stroke-width="0.6"/>
<text x="251.4" y="544.7" font-size="8.6" text-anchor="middle" stroke="#231f20" stroke-width="0.2" font-family='"Liberation Serif", "Times New Roman", serif'>I</text>
<path d="M244.4 512.3V488.7H251.4V498.95" fill="none" stroke="#4a4a4a" stroke-width="0.72"/>
<text x="247.9" y="486.7" font-size="7" text-anchor="middle" fill="#333" stroke="#333" stroke-width="0.2">0.031</text>
<line x1="274.6" y1="534.7" x2="279.2" y2="534.7" stroke="#111" stroke-width="0.8"/>
<circle cx="275.5" cy="534.4" r="0.85" fill="#111"/>
<circle cx="276.9" cy="534.4" r="0.85" fill="#111"/>
<circle cx="278.3" cy="534.4" r="0.85" fill="#111"/>
<line x1="276.9" y1="524.3" x2="276.9" y2="529.9" stroke="#d6a04c" stroke-width="1"/>
<polygon points="274.8,528.9 279,528.9 276.9,532.5" fill="#d6a04c"/>
<rect x="281.6" y="517.44" width="4.6" height="17.66" fill="#8fbdf4" stroke="#3c4450" stroke-width="0.5"/>
<line x1="283.9" y1="513.51" x2="283.9" y2="521.36" stroke="#111" stroke-width="0.6"/>
<line x1="282.8" y1="513.51" x2="285" y2="513.51" stroke="#111" stroke-width="0.6"/>
<line x1="282.8" y1="521.36" x2="285" y2="521.36" stroke="#111" stroke-width="0.6"/>
<circle cx="284.08" cy="513.51" r="0.95" fill="#111"/>
<circle cx="284.68" cy="519.79" r="0.95" fill="#111"/>
<circle cx="284.23" cy="517.05" r="0.95" fill="#111"/>
<rect x="288.6" y="501.35" width="4.6" height="33.75" fill="#f27878" stroke="#3c4450" stroke-width="0.5"/>
<line x1="290.9" y1="495.85" x2="290.9" y2="506.84" stroke="#111" stroke-width="0.6"/>
<line x1="289.8" y1="495.85" x2="292" y2="495.85" stroke="#111" stroke-width="0.6"/>
<line x1="289.8" y1="506.84" x2="292" y2="506.84" stroke="#111" stroke-width="0.6"/>
<circle cx="291.66" cy="495.85" r="0.95" fill="#111"/>
<circle cx="291.27" cy="504.64" r="0.95" fill="#111"/>
<circle cx="290.09" cy="500.8" r="0.95" fill="#111"/>
<rect x="295.7" y="508.41" width="4.6" height="26.69" fill="#f8a03c" stroke="#3c4450" stroke-width="0.5"/>
<line x1="298" y1="504.49" x2="298" y2="512.34" stroke="#111" stroke-width="0.6"/>
<line x1="296.9" y1="504.49" x2="299.1" y2="504.49" stroke="#111" stroke-width="0.6"/>
<line x1="296.9" y1="512.34" x2="299.1" y2="512.34" stroke="#111" stroke-width="0.6"/>
<circle cx="298.69" cy="504.49" r="0.95" fill="#111"/>
<circle cx="298.16" cy="510.77" r="0.95" fill="#111"/>
<circle cx="297.66" cy="508.02" r="0.95" fill="#111"/>
<rect x="302.8" y="524.89" width="4.6" height="10.21" fill="#3e8ce8" stroke="#3c4450" stroke-width="0.5"/>
<line x1="305.1" y1="522.93" x2="305.1" y2="526.86" stroke="#111" stroke-width="0.6"/>
<line x1="304" y1="522.93" x2="306.2" y2="522.93" stroke="#111" stroke-width="0.6"/>
<line x1="304" y1="526.86" x2="306.2" y2="526.86" stroke="#111" stroke-width="0.6"/>
<circle cx="304.54" cy="522.93" r="0.95" fill="#111"/>
<circle cx="305.73" cy="526.07" r="0.95" fill="#111"/>
<circle cx="305.25" cy="524.7" r="0.95" fill="#111"/>
<line x1="290.9" y1="535.1" x2="290.9" y2="537.1" stroke="#231f20" stroke-width="0.6"/>
<text x="290.9" y="544.7" font-size="8.6" text-anchor="middle" stroke="#231f20" stroke-width="0.2" font-family='"Liberation Serif", "Times New Roman", serif'>II</text>
<path d="M283.9 511.51V482.9H290.9V493.85" fill="none" stroke="#4a4a4a" stroke-width="0.72"/>
<text x="287.4" y="480.9" font-size="7" text-anchor="middle" fill="#333" stroke="#333" stroke-width="0.2">0.008</text>
<line x1="315.1" y1="534.7" x2="319.7" y2="534.7" stroke="#111" stroke-width="0.8"/>
<circle cx="316" cy="534.4" r="0.85" fill="#111"/>
<circle cx="317.4" cy="534.4" r="0.85" fill="#111"/>
<circle cx="318.8" cy="534.4" r="0.85" fill="#111"/>
<line x1="317.4" y1="524.3" x2="317.4" y2="529.9" stroke="#d6a04c" stroke-width="1"/>
<polygon points="315.3,528.9 319.5,528.9 317.4,532.5" fill="#d6a04c"/>
<rect x="322.1" y="507.62" width="4.6" height="27.48" fill="#8fbdf4" stroke="#3c4450" stroke-width="0.5"/>
<line x1="324.4" y1="505.27" x2="324.4" y2="509.98" stroke="#111" stroke-width="0.6"/>
<line x1="323.3" y1="505.27" x2="325.5" y2="505.27" stroke="#111" stroke-width="0.6"/>
<line x1="323.3" y1="509.98" x2="325.5" y2="509.98" stroke="#111" stroke-width="0.6"/>
<circle cx="325.19" cy="505.27" r="0.95" fill="#111"/>
<circle cx="324.89" cy="509.04" r="0.95" fill="#111"/>
<circle cx="325.23" cy="507.39" r="0.95" fill="#111"/>
<rect x="329.1" y="482.9" width="4.6" height="52.2" fill="#f27878" stroke="#3c4450" stroke-width="0.5"/>
<line x1="331.4" y1="477.01" x2="331.4" y2="488.79" stroke="#111" stroke-width="0.6"/>
<line x1="330.3" y1="477.01" x2="332.5" y2="477.01" stroke="#111" stroke-width="0.6"/>
<line x1="330.3" y1="488.79" x2="332.5" y2="488.79" stroke="#111" stroke-width="0.6"/>
<circle cx="331.52" cy="477.01" r="0.95" fill="#111"/>
<circle cx="331.76" cy="486.43" r="0.95" fill="#111"/>
<circle cx="331.6" cy="482.31" r="0.95" fill="#111"/>
<rect x="336.2" y="496.63" width="4.6" height="38.47" fill="#f8a03c" stroke="#3c4450" stroke-width="0.5"/>
<line x1="338.5" y1="494.67" x2="338.5" y2="498.6" stroke="#111" stroke-width="0.6"/>
<line x1="337.4" y1="494.67" x2="339.6" y2="494.67" stroke="#111" stroke-width="0.6"/>
<line x1="337.4" y1="498.6" x2="339.6" y2="498.6" stroke="#111" stroke-width="0.6"/>
<circle cx="338.07" cy="494.67" r="0.95" fill="#111"/>
<circle cx="339.32" cy="497.81" r="0.95" fill="#111"/>
<circle cx="338.16" cy="496.44" r="0.95" fill="#111"/>
<rect x="343.3" y="509.2" width="4.6" height="25.9" fill="#3e8ce8" stroke="#3c4450" stroke-width="0.5"/>
<line x1="345.6" y1="508.02" x2="345.6" y2="510.37" stroke="#111" stroke-width="0.6"/>
<line x1="344.5" y1="508.02" x2="346.7" y2="508.02" stroke="#111" stroke-width="0.6"/>
<line x1="344.5" y1="510.37" x2="346.7" y2="510.37" stroke="#111" stroke-width="0.6"/>
<circle cx="346.11" cy="508.02" r="0.95" fill="#111"/>
<circle cx="346.42" cy="509.9" r="0.95" fill="#111"/>
<circle cx="345.87" cy="509.08" r="0.95" fill="#111"/>
<line x1="331.4" y1="535.1" x2="331.4" y2="537.1" stroke="#231f20" stroke-width="0.6"/>
<text x="331.4" y="544.7" font-size="8.6" text-anchor="middle" stroke="#231f20" stroke-width="0.2" font-family='"Liberation Serif", "Times New Roman", serif'>III</text>
<path d="M324.4 503.27V465.7H331.4V475.01" fill="none" stroke="#4a4a4a" stroke-width="0.72"/>
<text x="327.9" y="463.7" font-size="7" text-anchor="middle" fill="#333" stroke="#333" stroke-width="0.2">0.002</text>
<line x1="232.2" y1="456.3" x2="232.2" y2="535.1" stroke="#231f20" stroke-width="0.6"/>
<line x1="230.2" y1="535.1" x2="232.2" y2="535.1" stroke="#231f20" stroke-width="0.6"/>
<text x="229.5" y="538.1" font-size="8.7" text-anchor="end" stroke="#231f20" stroke-width="0.2">0</text>
<line x1="230.2" y1="515.48" x2="232.2" y2="515.48" stroke="#231f20" stroke-width="0.6"/>
<text x="229.5" y="518.48" font-size="8.7" text-anchor="end" stroke="#231f20" stroke-width="0.2">5</text>
<line x1="230.2" y1="495.85" x2="232.2" y2="495.85" stroke="#231f20" stroke-width="0.6"/>
<text x="229.5" y="498.85" font-size="8.7" text-anchor="end" stroke="#231f20" stroke-width="0.2">10</text>
<line x1="230.2" y1="476.23" x2="232.2" y2="476.23" stroke="#231f20" stroke-width="0.6"/>
<text x="229.5" y="479.23" font-size="8.7" text-anchor="end" stroke="#231f20" stroke-width="0.2">15</text>
<line x1="230.2" y1="456.6" x2="232.2" y2="456.6" stroke="#231f20" stroke-width="0.6"/>
<text x="229.5" y="459.6" font-size="8.7" text-anchor="end" stroke="#231f20" stroke-width="0.2">20</text>
<text x="216.6" y="495.7" font-size="8.4" text-anchor="middle" stroke="#231f20" stroke-width="0.2" transform="rotate(-90 216.6 495.7)">% Input</text>
<rect x="353" y="460.3" width="8" height="3" fill="#c8913c" stroke="#3c4450" stroke-width="0.5"/>
<text x="362.6" y="464.6" font-size="7.1" stroke="#231f20" stroke-width="0.2">IgG</text>
<rect x="353" y="471.1" width="8" height="3" fill="#8fbdf4" stroke="#3c4450" stroke-width="0.5"/>
<text x="362.6" y="475.4" font-size="7.1" stroke="#231f20" stroke-width="0.2">0</text>
<rect x="353" y="481.5" width="8" height="3" fill="#f27878" stroke="#3c4450" stroke-width="0.5"/>
<text x="362.6" y="485.8" font-size="7.1" stroke="#231f20" stroke-width="0.2">30</text>
<rect x="353" y="491.9" width="8" height="3" fill="#f8a03c" stroke="#3c4450" stroke-width="0.5"/>
<text x="362.6" y="496.2" font-size="7.1" stroke="#231f20" stroke-width="0.2">60</text>
<rect x="353" y="502.7" width="8" height="3" fill="#3e8ce8" stroke="#3c4450" stroke-width="0.5"/>
<text x="362.6" y="507" font-size="7.1" stroke="#231f20" stroke-width="0.2">120</text>
<path d="M375.8 471.6H377.4V505.2H375.8" fill="none" stroke="#4a4a4a" stroke-width="0.6"/>
<text x="379.6" y="482.2" font-size="6.9" stroke="#231f20" stroke-width="0.2">FLC(min)</text>
<text x="379.6" y="494.4" font-size="6.9" stroke="#231f20" stroke-width="0.2">IP:</text>
<text x="379.6" y="502.8" font-size="6.9" stroke="#231f20" stroke-width="0.2">Anti-H3K14Ac</text>
<text x="0.4" y="576.8" font-size="16.5" stroke="#231f20" stroke-width="0.2">f</text>
<line x1="103.7" y1="594" x2="247.3" y2="594" stroke="#4a4a4a" stroke-width="0.8"/>
<line x1="120.8" y1="590.8" x2="120.8" y2="594" stroke="#4a4a4a" stroke-width="0.7"/>
<text x="120.8" y="588.4" font-size="7.8" text-anchor="middle" stroke="#231f20" stroke-width="0.2">-2000</text>
<line x1="150.6" y1="590.8" x2="150.6" y2="594" stroke="#4a4a4a" stroke-width="0.7"/>
<text x="150.6" y="588.4" font-size="7.8" text-anchor="middle" stroke="#231f20" stroke-width="0.2">-1500</text>
<line x1="180" y1="590.8" x2="180" y2="594" stroke="#4a4a4a" stroke-width="0.7"/>
<text x="180" y="588.4" font-size="7.8" text-anchor="middle" stroke="#231f20" stroke-width="0.2">-1000</text>
<line x1="209.8" y1="590.8" x2="209.8" y2="594" stroke="#4a4a4a" stroke-width="0.7"/>
<text x="209.8" y="588.4" font-size="7.8" text-anchor="middle" stroke="#231f20" stroke-width="0.2">-500</text>
<line x1="239" y1="590.8" x2="239" y2="594" stroke="#4a4a4a" stroke-width="0.7"/>
<text x="239" y="588.4" font-size="7.8" text-anchor="middle" stroke="#231f20" stroke-width="0.2">0</text>
<text x="246.7" y="588.4" font-size="7.8" stroke="#231f20" stroke-width="0.2">(bp)</text>
<line x1="115" y1="611" x2="332" y2="611" stroke="#8c8c8c" stroke-width="0.7"/>
<polygon points="33.2,610.1 48.4,604.7 115,604.7 115,615.5 48.4,615.5" fill="#9e9e9e" stroke="#4d4d4d" stroke-width="0.6"/>
<text x="83" y="613" font-size="8" text-anchor="middle" font-style="italic" stroke="#231f20" stroke-width="0.2">B9J08_000165</text>
<polygon points="239,604.7 310.1,604.7 326.4,610.1 310.1,615.5 239,615.5" fill="#1a9fe3" stroke="#4d4d4d" stroke-width="0.6"/>
<text x="283.5" y="613" font-size="8" text-anchor="middle" font-style="italic" stroke="#231f20" stroke-width="0.2">CDR1</text>
<text x="150.7" y="604.4" font-size="8.6" text-anchor="middle" stroke="#231f20" stroke-width="0.2" font-family='"Liberation Serif", "Times New Roman", serif'>IV</text>
<line x1="145.2" y1="606.3" x2="156.2" y2="606.3" stroke="#888" stroke-width="0.6"/>
<text x="175.9" y="604.4" font-size="8.6" text-anchor="middle" stroke="#231f20" stroke-width="0.2" font-family='"Liberation Serif", "Times New Roman", serif'>III</text>
<line x1="170.4" y1="606.3" x2="181.4" y2="606.3" stroke="#888" stroke-width="0.6"/>
<text x="206.8" y="604.4" font-size="8.6" text-anchor="middle" stroke="#231f20" stroke-width="0.2" font-family='"Liberation Serif", "Times New Roman", serif'>II</text>
<line x1="202.3" y1="606.3" x2="211.3" y2="606.3" stroke="#888" stroke-width="0.6"/>
<text x="232.6" y="604.4" font-size="8.6" text-anchor="middle" stroke="#231f20" stroke-width="0.2" font-family='"Liberation Serif", "Times New Roman", serif'>I</text>
<line x1="229.6" y1="606.3" x2="235.6" y2="606.3" stroke="#888" stroke-width="0.6"/>
<text x="86.2" y="643.6" font-size="8.5" text-anchor="middle" stroke="#231f20" stroke-width="0.2"><tspan font-style="italic">CDR1</tspan> Promoter</text>
<text x="292.8" y="644.3" font-size="8.5" text-anchor="middle" stroke="#231f20" stroke-width="0.2"><tspan font-style="italic">CDR1</tspan> Promoter</text>
<line x1="29.2" y1="736.3" x2="146.4" y2="736.3" stroke="#231f20" stroke-width="0.6"/>
<rect x="31.3" y="709.81" width="4.5" height="26.49" fill="#4a9af0" stroke="#3c4450" stroke-width="0.5"/>
<line x1="33.55" y1="705.53" x2="33.55" y2="714.1" stroke="#111" stroke-width="0.6"/>
<line x1="32.45" y1="705.53" x2="34.65" y2="705.53" stroke="#111" stroke-width="0.6"/>
<line x1="32.45" y1="714.1" x2="34.65" y2="714.1" stroke="#111" stroke-width="0.6"/>
<circle cx="32.67" cy="705.53" r="0.95" fill="#111"/>
<circle cx="32.85" cy="712.38" r="0.95" fill="#111"/>
<circle cx="33.36" cy="709.39" r="0.95" fill="#111"/>
<rect x="37.7" y="721.5" width="4.5" height="14.8" fill="#ee1c1c" stroke="#3c4450" stroke-width="0.5"/>
<line x1="39.95" y1="721.11" x2="39.95" y2="721.89" stroke="#111" stroke-width="0.6"/>
<line x1="38.85" y1="721.11" x2="41.05" y2="721.11" stroke="#111" stroke-width="0.6"/>
<line x1="38.85" y1="721.89" x2="41.05" y2="721.89" stroke="#111" stroke-width="0.6"/>
<circle cx="40.28" cy="721.11" r="0.95" fill="#111"/>
<circle cx="39.3" cy="721.73" r="0.95" fill="#111"/>
<circle cx="39.25" cy="721.46" r="0.95" fill="#111"/>
<line x1="44.2" y1="735.9" x2="48.8" y2="735.9" stroke="#111" stroke-width="0.8"/>
<circle cx="45.1" cy="735.6" r="0.85" fill="#111"/>
<circle cx="46.5" cy="735.6" r="0.85" fill="#111"/>
<circle cx="47.9" cy="735.6" r="0.85" fill="#111"/>
<line x1="50" y1="735.9" x2="54.6" y2="735.9" stroke="#111" stroke-width="0.8"/>
<circle cx="50.9" cy="735.6" r="0.85" fill="#111"/>
<circle cx="52.3" cy="735.6" r="0.85" fill="#111"/>
<circle cx="53.7" cy="735.6" r="0.85" fill="#111"/>
<line x1="46.6" y1="725.1" x2="46.6" y2="730.7" stroke="#0b0bb8" stroke-width="1"/>
<polygon points="44.5,729.7 48.7,729.7 46.6,733.3" fill="#0b0bb8"/>
<line x1="51.8" y1="725.1" x2="51.8" y2="730.7" stroke="#f8a043" stroke-width="1"/>
<polygon points="49.7,729.7 53.9,729.7 51.8,733.3" fill="#f8a043"/>
<line x1="43.2" y1="736.3" x2="43.2" y2="738.3" stroke="#231f20" stroke-width="0.6"/>
<text x="43.2" y="745.9" font-size="8.6" text-anchor="middle" stroke="#231f20" stroke-width="0.2" font-family='"Liberation Serif", "Times New Roman", serif'>I</text>
<rect x="61.1" y="681.77" width="4.5" height="54.53" fill="#4a9af0" stroke="#3c4450" stroke-width="0.5"/>
<line x1="63.35" y1="673.2" x2="63.35" y2="690.34" stroke="#111" stroke-width="0.6"/>
<line x1="62.25" y1="673.2" x2="64.45" y2="673.2" stroke="#111" stroke-width="0.6"/>
<line x1="62.25" y1="690.34" x2="64.45" y2="690.34" stroke="#111" stroke-width="0.6"/>
<circle cx="62.87" cy="673.2" r="0.95" fill="#111"/>
<circle cx="63.81" cy="686.91" r="0.95" fill="#111"/>
<circle cx="62.72" cy="680.91" r="0.95" fill="#111"/>
<rect x="67.5" y="708.26" width="4.5" height="28.04" fill="#ee1c1c" stroke="#3c4450" stroke-width="0.5"/>
<line x1="69.75" y1="706.31" x2="69.75" y2="710.2" stroke="#111" stroke-width="0.6"/>
<line x1="68.65" y1="706.31" x2="70.85" y2="706.31" stroke="#111" stroke-width="0.6"/>
<line x1="68.65" y1="710.2" x2="70.85" y2="710.2" stroke="#111" stroke-width="0.6"/>
<circle cx="70.18" cy="706.31" r="0.95" fill="#111"/>
<circle cx="70.04" cy="709.42" r="0.95" fill="#111"/>
<circle cx="69.1" cy="708.06" r="0.95" fill="#111"/>
<line x1="74" y1="735.9" x2="78.6" y2="735.9" stroke="#111" stroke-width="0.8"/>
<circle cx="74.9" cy="735.6" r="0.85" fill="#111"/>
<circle cx="76.3" cy="735.6" r="0.85" fill="#111"/>
<circle cx="77.7" cy="735.6" r="0.85" fill="#111"/>
<line x1="79.8" y1="735.9" x2="84.4" y2="735.9" stroke="#111" stroke-width="0.8"/>
<circle cx="80.7" cy="735.6" r="0.85" fill="#111"/>
<circle cx="82.1" cy="735.6" r="0.85" fill="#111"/>
<circle cx="83.5" cy="735.6" r="0.85" fill="#111"/>
<line x1="76.4" y1="725.1" x2="76.4" y2="730.7" stroke="#0b0bb8" stroke-width="1"/>
<polygon points="74.3,729.7 78.5,729.7 76.4,733.3" fill="#0b0bb8"/>
<line x1="81.6" y1="725.1" x2="81.6" y2="730.7" stroke="#f8a043" stroke-width="1"/>
<polygon points="79.5,729.7 83.7,729.7 81.6,733.3" fill="#f8a043"/>
<line x1="73" y1="736.3" x2="73" y2="738.3" stroke="#231f20" stroke-width="0.6"/>
<text x="73" y="745.9" font-size="8.6" text-anchor="middle" stroke="#231f20" stroke-width="0.2" font-family='"Liberation Serif", "Times New Roman", serif'>II</text>
<path d="M63.35 671.2V665.7H69.75V704.31" fill="none" stroke="#4a4a4a" stroke-width="0.72"/>
<text x="66.55" y="663.7" font-size="7" text-anchor="middle" fill="#333" stroke="#333" stroke-width="0.2">0.005</text>
<rect x="90.9" y="691.12" width="4.5" height="45.18" fill="#4a9af0" stroke="#3c4450" stroke-width="0.5"/>
<line x1="93.15" y1="682.55" x2="93.15" y2="699.69" stroke="#111" stroke-width="0.6"/>
<line x1="92.05" y1="682.55" x2="94.25" y2="682.55" stroke="#111" stroke-width="0.6"/>
<line x1="92.05" y1="699.69" x2="94.25" y2="699.69" stroke="#111" stroke-width="0.6"/>
<circle cx="93.21" cy="682.55" r="0.95" fill="#111"/>
<circle cx="93.06" cy="696.26" r="0.95" fill="#111"/>
<circle cx="92.99" cy="690.26" r="0.95" fill="#111"/>
<rect x="97.3" y="703.97" width="4.5" height="32.33" fill="#ee1c1c" stroke="#3c4450" stroke-width="0.5"/>
<line x1="99.55" y1="702.02" x2="99.55" y2="705.92" stroke="#111" stroke-width="0.6"/>
<line x1="98.45" y1="702.02" x2="100.65" y2="702.02" stroke="#111" stroke-width="0.6"/>
<line x1="98.45" y1="705.92" x2="100.65" y2="705.92" stroke="#111" stroke-width="0.6"/>
<circle cx="100.44" cy="702.02" r="0.95" fill="#111"/>
<circle cx="98.82" cy="705.14" r="0.95" fill="#111"/>
<circle cx="98.69" cy="703.78" r="0.95" fill="#111"/>
<line x1="103.8" y1="735.9" x2="108.4" y2="735.9" stroke="#111" stroke-width="0.8"/>
<circle cx="104.7" cy="735.6" r="0.85" fill="#111"/>
<circle cx="106.1" cy="735.6" r="0.85" fill="#111"/>
<circle cx="107.5" cy="735.6" r="0.85" fill="#111"/>
<line x1="109.6" y1="735.9" x2="114.2" y2="735.9" stroke="#111" stroke-width="0.8"/>
<circle cx="110.5" cy="735.6" r="0.85" fill="#111"/>
<circle cx="111.9" cy="735.6" r="0.85" fill="#111"/>
<circle cx="113.3" cy="735.6" r="0.85" fill="#111"/>
<line x1="106.2" y1="725.1" x2="106.2" y2="730.7" stroke="#0b0bb8" stroke-width="1"/>
<polygon points="104.1,729.7 108.3,729.7 106.2,733.3" fill="#0b0bb8"/>
<line x1="111.4" y1="725.1" x2="111.4" y2="730.7" stroke="#f8a043" stroke-width="1"/>
<polygon points="109.3,729.7 113.5,729.7 111.4,733.3" fill="#f8a043"/>
<line x1="102.8" y1="736.3" x2="102.8" y2="738.3" stroke="#231f20" stroke-width="0.6"/>
<text x="102.8" y="745.9" font-size="8.6" text-anchor="middle" stroke="#231f20" stroke-width="0.2" font-family='"Liberation Serif", "Times New Roman", serif'>III</text>
<rect x="120.7" y="695.79" width="4.5" height="40.51" fill="#4a9af0" stroke="#3c4450" stroke-width="0.5"/>
<line x1="122.95" y1="689.17" x2="122.95" y2="702.41" stroke="#111" stroke-width="0.6"/>
<line x1="121.85" y1="689.17" x2="124.05" y2="689.17" stroke="#111" stroke-width="0.6"/>
<line x1="121.85" y1="702.41" x2="124.05" y2="702.41" stroke="#111" stroke-width="0.6"/>
<circle cx="123.74" cy="689.17" r="0.95" fill="#111"/>
<circle cx="122.78" cy="699.76" r="0.95" fill="#111"/>
<circle cx="122.41" cy="695.13" r="0.95" fill="#111"/>
<rect x="127.1" y="716.82" width="4.5" height="19.48" fill="#ee1c1c" stroke="#3c4450" stroke-width="0.5"/>
<line x1="129.35" y1="715.27" x2="129.35" y2="718.38" stroke="#111" stroke-width="0.6"/>
<line x1="128.25" y1="715.27" x2="130.45" y2="715.27" stroke="#111" stroke-width="0.6"/>
<line x1="128.25" y1="718.38" x2="130.45" y2="718.38" stroke="#111" stroke-width="0.6"/>
<circle cx="129.04" cy="715.27" r="0.95" fill="#111"/>
<circle cx="129.11" cy="717.76" r="0.95" fill="#111"/>
<circle cx="130.17" cy="716.67" r="0.95" fill="#111"/>
<line x1="133.6" y1="735.9" x2="138.2" y2="735.9" stroke="#111" stroke-width="0.8"/>
<circle cx="134.5" cy="735.6" r="0.85" fill="#111"/>
<circle cx="135.9" cy="735.6" r="0.85" fill="#111"/>
<circle cx="137.3" cy="735.6" r="0.85" fill="#111"/>
<line x1="139.4" y1="735.9" x2="144" y2="735.9" stroke="#111" stroke-width="0.8"/>
<circle cx="140.3" cy="735.6" r="0.85" fill="#111"/>
<circle cx="141.7" cy="735.6" r="0.85" fill="#111"/>
<circle cx="143.1" cy="735.6" r="0.85" fill="#111"/>
<line x1="136" y1="725.1" x2="136" y2="730.7" stroke="#0b0bb8" stroke-width="1"/>
<polygon points="133.9,729.7 138.1,729.7 136,733.3" fill="#0b0bb8"/>
<line x1="141.2" y1="725.1" x2="141.2" y2="730.7" stroke="#f8a043" stroke-width="1"/>
<polygon points="139.1,729.7 143.3,729.7 141.2,733.3" fill="#f8a043"/>
<line x1="132.6" y1="736.3" x2="132.6" y2="738.3" stroke="#231f20" stroke-width="0.6"/>
<text x="132.6" y="745.9" font-size="8.6" text-anchor="middle" stroke="#231f20" stroke-width="0.2" font-family='"Liberation Serif", "Times New Roman", serif'>IV</text>
<path d="M122.95 687.17V665.9H129.35V713.27" fill="none" stroke="#4a4a4a" stroke-width="0.72"/>
<text x="126.15" y="663.9" font-size="7" text-anchor="middle" fill="#333" stroke="#333" stroke-width="0.2">0.012</text>
<line x1="29.2" y1="658.1" x2="29.2" y2="736.3" stroke="#231f20" stroke-width="0.6"/>
<line x1="27.2" y1="736.3" x2="29.2" y2="736.3" stroke="#231f20" stroke-width="0.6"/>
<text x="26.5" y="739.3" font-size="8.7" text-anchor="end" stroke="#231f20" stroke-width="0.2">0</text>
<line x1="27.2" y1="720.72" x2="29.2" y2="720.72" stroke="#231f20" stroke-width="0.6"/>
<text x="26.5" y="723.72" font-size="8.7" text-anchor="end" stroke="#231f20" stroke-width="0.2">2</text>
<line x1="27.2" y1="705.14" x2="29.2" y2="705.14" stroke="#231f20" stroke-width="0.6"/>
<text x="26.5" y="708.14" font-size="8.7" text-anchor="end" stroke="#231f20" stroke-width="0.2">4</text>
<line x1="27.2" y1="689.56" x2="29.2" y2="689.56" stroke="#231f20" stroke-width="0.6"/>
<text x="26.5" y="692.56" font-size="8.7" text-anchor="end" stroke="#231f20" stroke-width="0.2">6</text>
<line x1="27.2" y1="673.98" x2="29.2" y2="673.98" stroke="#231f20" stroke-width="0.6"/>
<text x="26.5" y="676.98" font-size="8.7" text-anchor="end" stroke="#231f20" stroke-width="0.2">8</text>
<line x1="27.2" y1="658.4" x2="29.2" y2="658.4" stroke="#231f20" stroke-width="0.6"/>
<text x="26.5" y="661.4" font-size="8.7" text-anchor="end" stroke="#231f20" stroke-width="0.2">10</text>
<text x="16.8" y="697" font-size="8.4" text-anchor="middle" stroke="#231f20" stroke-width="0.2" transform="rotate(-90 16.8 697)">% Input</text>
<rect x="144" y="662.1" width="8" height="3" fill="#4a9af0" stroke="#3c4450" stroke-width="0.5"/>
<text x="154.5" y="666.3" font-size="7" stroke="#231f20" stroke-width="0.2">WT-H3K14Ac</text>
<rect x="144" y="673.2" width="8" height="3" fill="#ee1c1c" stroke="#3c4450" stroke-width="0.5"/>
<text x="154.5" y="677.4" font-size="7" stroke="#231f20" stroke-width="0.2"><tspan font-style="italic">gcn5</tspan>Δ-H3K14Ac</text>
<rect x="144" y="683.7" width="8" height="3" fill="#0b0bb8" stroke="#3c4450" stroke-width="0.5"/>
<text x="154.5" y="687.9" font-size="7" stroke="#231f20" stroke-width="0.2">WT-IgG</text>
<rect x="144" y="694.2" width="8" height="3" fill="#f8a043" stroke="#3c4450" stroke-width="0.5"/>
<text x="154.5" y="698.4" font-size="7" stroke="#231f20" stroke-width="0.2"><tspan font-style="italic">gcn5</tspan>Δ-IgG</text>
<line x1="232.4" y1="736.3" x2="350.8" y2="736.3" stroke="#231f20" stroke-width="0.6"/>
<line x1="234.2" y1="735.9" x2="238.1" y2="735.9" stroke="#111" stroke-width="0.8"/>
<circle cx="235.1" cy="735.6" r="0.85" fill="#111"/>
<circle cx="236.15" cy="735.6" r="0.85" fill="#111"/>
<circle cx="237.2" cy="735.6" r="0.85" fill="#111"/>
<line x1="236.15" y1="725.5" x2="236.15" y2="731.1" stroke="#d6a04c" stroke-width="1"/>
<polygon points="234.05,730.1 238.25,730.1 236.15,733.7" fill="#d6a04c"/>
<rect x="240" y="724.82" width="3.9" height="11.48" fill="#8fbdf4" stroke="#3c4450" stroke-width="0.5"/>
<line x1="241.95" y1="723.77" x2="241.95" y2="725.86" stroke="#111" stroke-width="0.6"/>
<line x1="240.85" y1="723.77" x2="243.05" y2="723.77" stroke="#111" stroke-width="0.6"/>
<line x1="240.85" y1="725.86" x2="243.05" y2="725.86" stroke="#111" stroke-width="0.6"/>
<circle cx="241.19" cy="723.77" r="0.95" fill="#111"/>
<circle cx="241.43" cy="725.44" r="0.95" fill="#111"/>
<circle cx="241.6" cy="724.71" r="0.95" fill="#111"/>
<rect x="245.2" y="714.38" width="3.9" height="21.92" fill="#f27878" stroke="#3c4450" stroke-width="0.5"/>
<line x1="247.15" y1="711.24" x2="247.15" y2="717.51" stroke="#111" stroke-width="0.6"/>
<line x1="246.05" y1="711.24" x2="248.25" y2="711.24" stroke="#111" stroke-width="0.6"/>
<line x1="246.05" y1="717.51" x2="248.25" y2="717.51" stroke="#111" stroke-width="0.6"/>
<circle cx="247.87" cy="711.24" r="0.95" fill="#111"/>
<circle cx="247.14" cy="716.26" r="0.95" fill="#111"/>
<circle cx="247.55" cy="714.06" r="0.95" fill="#111"/>
<rect x="250.5" y="723.25" width="3.9" height="13.05" fill="#f8a03c" stroke="#3c4450" stroke-width="0.5"/>
<line x1="252.45" y1="721.68" x2="252.45" y2="724.82" stroke="#111" stroke-width="0.6"/>
<line x1="251.35" y1="721.68" x2="253.55" y2="721.68" stroke="#111" stroke-width="0.6"/>
<line x1="251.35" y1="724.82" x2="253.55" y2="724.82" stroke="#111" stroke-width="0.6"/>
<circle cx="251.73" cy="721.68" r="0.95" fill="#111"/>
<circle cx="252.47" cy="724.19" r="0.95" fill="#111"/>
<circle cx="253.07" cy="723.09" r="0.95" fill="#111"/>
<rect x="255.7" y="729.51" width="3.9" height="6.79" fill="#3e8ce8" stroke="#3c4450" stroke-width="0.5"/>
<line x1="257.65" y1="728.99" x2="257.65" y2="730.04" stroke="#111" stroke-width="0.6"/>
<line x1="256.55" y1="728.99" x2="258.75" y2="728.99" stroke="#111" stroke-width="0.6"/>
<line x1="256.55" y1="730.04" x2="258.75" y2="730.04" stroke="#111" stroke-width="0.6"/>
<circle cx="257.69" cy="728.99" r="0.95" fill="#111"/>
<circle cx="258.45" cy="729.83" r="0.95" fill="#111"/>
<circle cx="258.34" cy="729.46" r="0.95" fill="#111"/>
<line x1="246.4" y1="736.3" x2="246.4" y2="738.3" stroke="#231f20" stroke-width="0.6"/>
<text x="246.4" y="745.9" font-size="8.6" text-anchor="middle" stroke="#231f20" stroke-width="0.2" font-family='"Liberation Serif", "Times New Roman", serif'>I</text>
<path d="M241.95 721.77V703.6H247.15V709.24" fill="none" stroke="#4a4a4a" stroke-width="0.72"/>
<text x="244.55" y="701.6" font-size="7" text-anchor="middle" fill="#333" stroke="#333" stroke-width="0.2">0.0003</text>
<line x1="264" y1="735.9" x2="267.9" y2="735.9" stroke="#111" stroke-width="0.8"/>
<circle cx="264.9" cy="735.6" r="0.85" fill="#111"/>
<circle cx="265.95" cy="735.6" r="0.85" fill="#111"/>
<circle cx="267" cy="735.6" r="0.85" fill="#111"/>
<line x1="265.95" y1="725.5" x2="265.95" y2="731.1" stroke="#d6a04c" stroke-width="1"/>
<polygon points="263.85,730.1 268.05,730.1 265.95,733.7" fill="#d6a04c"/>
<rect x="269.8" y="694.02" width="3.9" height="42.28" fill="#8fbdf4" stroke="#3c4450" stroke-width="0.5"/>
<line x1="271.75" y1="691.93" x2="271.75" y2="696.11" stroke="#111" stroke-width="0.6"/>
<line x1="270.65" y1="691.93" x2="272.85" y2="691.93" stroke="#111" stroke-width="0.6"/>
<line x1="270.65" y1="696.11" x2="272.85" y2="696.11" stroke="#111" stroke-width="0.6"/>
<circle cx="271.52" cy="691.93" r="0.95" fill="#111"/>
<circle cx="270.85" cy="695.27" r="0.95" fill="#111"/>
<circle cx="272.21" cy="693.81" r="0.95" fill="#111"/>
<rect x="275" y="678.36" width="3.9" height="57.94" fill="#f27878" stroke="#3c4450" stroke-width="0.5"/>
<line x1="276.95" y1="673.66" x2="276.95" y2="683.06" stroke="#111" stroke-width="0.6"/>
<line x1="275.85" y1="673.66" x2="278.05" y2="673.66" stroke="#111" stroke-width="0.6"/>
<line x1="275.85" y1="683.06" x2="278.05" y2="683.06" stroke="#111" stroke-width="0.6"/>
<circle cx="276.28" cy="673.66" r="0.95" fill="#111"/>
<circle cx="276.07" cy="681.18" r="0.95" fill="#111"/>
<circle cx="277.37" cy="677.89" r="0.95" fill="#111"/>
<rect x="280.3" y="701.85" width="3.9" height="34.45" fill="#f8a03c" stroke="#3c4450" stroke-width="0.5"/>
<line x1="282.25" y1="700.8" x2="282.25" y2="702.89" stroke="#111" stroke-width="0.6"/>
<line x1="281.15" y1="700.8" x2="283.35" y2="700.8" stroke="#111" stroke-width="0.6"/>
<line x1="281.15" y1="702.89" x2="283.35" y2="702.89" stroke="#111" stroke-width="0.6"/>
<circle cx="282.87" cy="700.8" r="0.95" fill="#111"/>
<circle cx="282.86" cy="702.47" r="0.95" fill="#111"/>
<circle cx="283.07" cy="701.74" r="0.95" fill="#111"/>
<rect x="285.5" y="715.42" width="3.9" height="20.88" fill="#3e8ce8" stroke="#3c4450" stroke-width="0.5"/>
<line x1="287.45" y1="709.16" x2="287.45" y2="721.68" stroke="#111" stroke-width="0.6"/>
<line x1="286.35" y1="709.16" x2="288.55" y2="709.16" stroke="#111" stroke-width="0.6"/>
<line x1="286.35" y1="721.68" x2="288.55" y2="721.68" stroke="#111" stroke-width="0.6"/>
<circle cx="286.91" cy="709.16" r="0.95" fill="#111"/>
<circle cx="286.7" cy="719.18" r="0.95" fill="#111"/>
<circle cx="286.77" cy="714.79" r="0.95" fill="#111"/>
<line x1="276.2" y1="736.3" x2="276.2" y2="738.3" stroke="#231f20" stroke-width="0.6"/>
<text x="276.2" y="745.9" font-size="8.6" text-anchor="middle" stroke="#231f20" stroke-width="0.2" font-family='"Liberation Serif", "Times New Roman", serif'>II</text>
<path d="M271.75 689.93V668.5H276.95V671.66" fill="none" stroke="#4a4a4a" stroke-width="0.72"/>
<text x="274.35" y="666.5" font-size="7" text-anchor="middle" fill="#333" stroke="#333" stroke-width="0.2">0.0008</text>
<line x1="294" y1="735.9" x2="297.9" y2="735.9" stroke="#111" stroke-width="0.8"/>
<circle cx="294.9" cy="735.6" r="0.85" fill="#111"/>
<circle cx="295.95" cy="735.6" r="0.85" fill="#111"/>
<circle cx="297" cy="735.6" r="0.85" fill="#111"/>
<line x1="295.95" y1="725.5" x2="295.95" y2="731.1" stroke="#d6a04c" stroke-width="1"/>
<polygon points="293.85,730.1 298.05,730.1 295.95,733.7" fill="#d6a04c"/>
<rect x="299.8" y="708.63" width="3.9" height="27.67" fill="#8fbdf4" stroke="#3c4450" stroke-width="0.5"/>
<line x1="301.75" y1="706.55" x2="301.75" y2="710.72" stroke="#111" stroke-width="0.6"/>
<line x1="300.65" y1="706.55" x2="302.85" y2="706.55" stroke="#111" stroke-width="0.6"/>
<line x1="300.65" y1="710.72" x2="302.85" y2="710.72" stroke="#111" stroke-width="0.6"/>
<circle cx="302.61" cy="706.55" r="0.95" fill="#111"/>
<circle cx="301.05" cy="709.89" r="0.95" fill="#111"/>
<circle cx="301.14" cy="708.43" r="0.95" fill="#111"/>
<rect x="305" y="692.45" width="3.9" height="43.85" fill="#f27878" stroke="#3c4450" stroke-width="0.5"/>
<line x1="306.95" y1="689.32" x2="306.95" y2="695.58" stroke="#111" stroke-width="0.6"/>
<line x1="305.85" y1="689.32" x2="308.05" y2="689.32" stroke="#111" stroke-width="0.6"/>
<line x1="305.85" y1="695.58" x2="308.05" y2="695.58" stroke="#111" stroke-width="0.6"/>
<circle cx="306.09" cy="689.32" r="0.95" fill="#111"/>
<circle cx="306.14" cy="694.33" r="0.95" fill="#111"/>
<circle cx="306.12" cy="692.14" r="0.95" fill="#111"/>
<rect x="310.3" y="709.68" width="3.9" height="26.62" fill="#f8a03c" stroke="#3c4450" stroke-width="0.5"/>
<line x1="312.25" y1="707.07" x2="312.25" y2="712.29" stroke="#111" stroke-width="0.6"/>
<line x1="311.15" y1="707.07" x2="313.35" y2="707.07" stroke="#111" stroke-width="0.6"/>
<line x1="311.15" y1="712.29" x2="313.35" y2="712.29" stroke="#111" stroke-width="0.6"/>
<circle cx="311.99" cy="707.07" r="0.95" fill="#111"/>
<circle cx="311.64" cy="711.24" r="0.95" fill="#111"/>
<circle cx="311.91" cy="709.42" r="0.95" fill="#111"/>
<rect x="315.5" y="717.51" width="3.9" height="18.79" fill="#3e8ce8" stroke="#3c4450" stroke-width="0.5"/>
<line x1="317.45" y1="714.38" x2="317.45" y2="720.64" stroke="#111" stroke-width="0.6"/>
<line x1="316.35" y1="714.38" x2="318.55" y2="714.38" stroke="#111" stroke-width="0.6"/>
<line x1="316.35" y1="720.64" x2="318.55" y2="720.64" stroke="#111" stroke-width="0.6"/>
<circle cx="318.22" cy="714.38" r="0.95" fill="#111"/>
<circle cx="316.85" cy="719.39" r="0.95" fill="#111"/>
<circle cx="318.02" cy="717.19" r="0.95" fill="#111"/>
<line x1="306.2" y1="736.3" x2="306.2" y2="738.3" stroke="#231f20" stroke-width="0.6"/>
<text x="306.2" y="745.9" font-size="8.6" text-anchor="middle" stroke="#231f20" stroke-width="0.2" font-family='"Liberation Serif", "Times New Roman", serif'>III</text>
<path d="M301.75 704.55V684.3H306.95V687.32" fill="none" stroke="#4a4a4a" stroke-width="0.72"/>
<text x="304.35" y="682.3" font-size="7" text-anchor="middle" fill="#333" stroke="#333" stroke-width="0.2">0.0009</text>
<line x1="324.2" y1="735.9" x2="328.1" y2="735.9" stroke="#111" stroke-width="0.8"/>
<circle cx="325.1" cy="735.6" r="0.85" fill="#111"/>
<circle cx="326.15" cy="735.6" r="0.85" fill="#111"/>
<circle cx="327.2" cy="735.6" r="0.85" fill="#111"/>
<line x1="326.15" y1="725.5" x2="326.15" y2="731.1" stroke="#d6a04c" stroke-width="1"/>
<polygon points="324.05,730.1 328.25,730.1 326.15,733.7" fill="#d6a04c"/>
<rect x="330" y="707.07" width="3.9" height="29.23" fill="#8fbdf4" stroke="#3c4450" stroke-width="0.5"/>
<line x1="331.95" y1="703.41" x2="331.95" y2="710.72" stroke="#111" stroke-width="0.6"/>
<line x1="330.85" y1="703.41" x2="333.05" y2="703.41" stroke="#111" stroke-width="0.6"/>
<line x1="330.85" y1="710.72" x2="333.05" y2="710.72" stroke="#111" stroke-width="0.6"/>
<circle cx="332.38" cy="703.41" r="0.95" fill="#111"/>
<circle cx="332.07" cy="709.26" r="0.95" fill="#111"/>
<circle cx="332.09" cy="706.7" r="0.95" fill="#111"/>
<rect x="335.2" y="698.19" width="3.9" height="38.11" fill="#f27878" stroke="#3c4450" stroke-width="0.5"/>
<line x1="337.15" y1="693.5" x2="337.15" y2="702.89" stroke="#111" stroke-width="0.6"/>
<line x1="336.05" y1="693.5" x2="338.25" y2="693.5" stroke="#111" stroke-width="0.6"/>
<line x1="336.05" y1="702.89" x2="338.25" y2="702.89" stroke="#111" stroke-width="0.6"/>
<circle cx="337.64" cy="693.5" r="0.95" fill="#111"/>
<circle cx="337.31" cy="701.01" r="0.95" fill="#111"/>
<circle cx="336.66" cy="697.72" r="0.95" fill="#111"/>
<rect x="340.5" y="714.9" width="3.9" height="21.4" fill="#f8a03c" stroke="#3c4450" stroke-width="0.5"/>
<line x1="342.45" y1="713.33" x2="342.45" y2="716.46" stroke="#111" stroke-width="0.6"/>
<line x1="341.35" y1="713.33" x2="343.55" y2="713.33" stroke="#111" stroke-width="0.6"/>
<line x1="341.35" y1="716.46" x2="343.55" y2="716.46" stroke="#111" stroke-width="0.6"/>
<circle cx="342.14" cy="713.33" r="0.95" fill="#111"/>
<circle cx="341.99" cy="715.84" r="0.95" fill="#111"/>
<circle cx="342.27" cy="714.74" r="0.95" fill="#111"/>
<rect x="345.7" y="724.29" width="3.9" height="12.01" fill="#3e8ce8" stroke="#3c4450" stroke-width="0.5"/>
<line x1="347.65" y1="722.73" x2="347.65" y2="725.86" stroke="#111" stroke-width="0.6"/>
<line x1="346.55" y1="722.73" x2="348.75" y2="722.73" stroke="#111" stroke-width="0.6"/>
<line x1="346.55" y1="725.86" x2="348.75" y2="725.86" stroke="#111" stroke-width="0.6"/>
<circle cx="348.53" cy="722.73" r="0.95" fill="#111"/>
<circle cx="347.52" cy="725.23" r="0.95" fill="#111"/>
<circle cx="346.88" cy="724.14" r="0.95" fill="#111"/>
<line x1="336.4" y1="736.3" x2="336.4" y2="738.3" stroke="#231f20" stroke-width="0.6"/>
<text x="336.4" y="745.9" font-size="8.6" text-anchor="middle" stroke="#231f20" stroke-width="0.2" font-family='"Liberation Serif", "Times New Roman", serif'>IV</text>
<line x1="232.4" y1="657.7" x2="232.4" y2="736.3" stroke="#231f20" stroke-width="0.6"/>
<line x1="230.4" y1="736.3" x2="232.4" y2="736.3" stroke="#231f20" stroke-width="0.6"/>
<text x="229.7" y="739.3" font-size="8.7" text-anchor="end" stroke="#231f20" stroke-width="0.2">0</text>
<line x1="230.4" y1="710.2" x2="232.4" y2="710.2" stroke="#231f20" stroke-width="0.6"/>
<text x="229.7" y="713.2" font-size="8.7" text-anchor="end" stroke="#231f20" stroke-width="0.2">5</text>
<line x1="230.4" y1="684.1" x2="232.4" y2="684.1" stroke="#231f20" stroke-width="0.6"/>
<text x="229.7" y="687.1" font-size="8.7" text-anchor="end" stroke="#231f20" stroke-width="0.2">10</text>
<line x1="230.4" y1="658" x2="232.4" y2="658" stroke="#231f20" stroke-width="0.6"/>
<text x="229.7" y="661" font-size="8.7" text-anchor="end" stroke="#231f20" stroke-width="0.2">15</text>
<text x="216.2" y="697" font-size="8.4" text-anchor="middle" stroke="#231f20" stroke-width="0.2" transform="rotate(-90 216.2 697)">% Input</text>
<rect x="356.4" y="661.8" width="8" height="3" fill="#c8913c" stroke="#3c4450" stroke-width="0.5"/>
<text x="366" y="666.1" font-size="7.1" stroke="#231f20" stroke-width="0.2">IgG</text>
<rect x="356.4" y="672.3" width="8" height="3" fill="#8fbdf4" stroke="#3c4450" stroke-width="0.5"/>
<text x="366" y="676.6" font-size="7.1" stroke="#231f20" stroke-width="0.2">0</text>
<rect x="356.4" y="682.8" width="8" height="3" fill="#f27878" stroke="#3c4450" stroke-width="0.5"/>
<text x="366" y="687.1" font-size="7.1" stroke="#231f20" stroke-width="0.2">30</text>
<rect x="356.4" y="693.3" width="8" height="3" fill="#f8a03c" stroke="#3c4450" stroke-width="0.5"/>
<text x="366" y="697.6" font-size="7.1" stroke="#231f20" stroke-width="0.2">60</text>
<rect x="356.4" y="703.8" width="8" height="3" fill="#3e8ce8" stroke="#3c4450" stroke-width="0.5"/>
<text x="366" y="708.1" font-size="7.1" stroke="#231f20" stroke-width="0.2">120</text>
<path d="M380.4 672.8H382V706.3H380.4" fill="none" stroke="#4a4a4a" stroke-width="0.6"/>
<text x="384.2" y="683.35" font-size="6.9" stroke="#231f20" stroke-width="0.2">FLC(min)</text>
<text x="384.2" y="695.55" font-size="6.9" stroke="#231f20" stroke-width="0.2">IP:</text>
<text x="384.2" y="703.95" font-size="6.9" stroke="#231f20" stroke-width="0.2">Anti-H3K14Ac</text>
<text x="434.2" y="373.4" font-size="16.5" stroke="#231f20" stroke-width="0.2">g</text>
<text x="478.6" y="387.6" font-size="8.3" text-anchor="middle" stroke="#231f20" stroke-width="0.2">CBS12767</text>
<text x="530.4" y="387.6" font-size="8.3" text-anchor="middle" stroke="#231f20" stroke-width="0.2"><tspan font-style="italic">gcn5</tspan>Δ</text>
<text x="582.4" y="387.6" font-size="8.3" text-anchor="middle" font-style="italic" stroke="#231f20" stroke-width="0.2">GCN5 AB</text>
<defs><linearGradient id="gbg" x1="0" y1="0" x2="1" y2="0"><stop offset="0" stop-color="#b4b4b0"/><stop offset="0.04" stop-color="#c9c9c5"/><stop offset="0.5" stop-color="#d0d0cc"/><stop offset="1" stop-color="#cacac6"/></linearGradient><linearGradient id="gtube" x1="0" y1="0" x2="1" y2="0"><stop offset="0" stop-color="#d0d0cc"/><stop offset="0.12" stop-color="#dcdcd8"/><stop offset="0.5" stop-color="#d8d8d4"/><stop offset="0.88" stop-color="#dcdcd8"/><stop offset="1" stop-color="#cfcfcb"/></linearGradient><filter id="gblur" x="-50%" y="-100%" width="200%" height="300%"><feGaussianBlur stdDeviation="1.8"/></filter><filter id="gblur2" x="-20%" y="-50%" width="140%" height="200%"><feGaussianBlur stdDeviation="0.6"/></filter><filter id="gblur4" x="-20%" y="-20%" width="140%" height="140%"><feGaussianBlur stdDeviation="1.1"/></filter><filter id="gblur3" x="-20%" y="-20%" width="140%" height="140%"><feGaussianBlur stdDeviation="1.2"/></filter><clipPath id="gclip"><rect x="446.9" y="389.7" width="168.1" height="95.7"/></clipPath></defs>
<g clip-path="url(#gclip)"><rect x="446.9" y="389.7" width="168.1" height="95.7" fill="url(#gbg)"/><ellipse cx="477.5" cy="485.0" rx="13" ry="3.6" fill="#6c6c6c" filter="url(#gblur)"/><ellipse cx="530.5" cy="485.0" rx="13" ry="3.6" fill="#6c6c6c" filter="url(#gblur)"/><ellipse cx="583" cy="485.0" rx="13" ry="3.6" fill="#6c6c6c" filter="url(#gblur)"/><path d="M449.5 387.7L505 387.7L489.5 472.5Q477.25 479.5 465 472.5Z" fill="url(#gtube)" stroke="#e2e2de" stroke-width="1.3" filter="url(#gblur4)"/><path d="M463.57 460.6L490.93 460.6L488.9 472Q477.25 477.5 465.6 472Z" fill="#e2caa8" filter="url(#gblur2)"/><path d="M464.57 466.6L489.93 466.6L488.5 472Q477.25 476.5 466 472Z" fill="#cfb28e" opacity="0.5" filter="url(#gblur3)"/><path d="M507.5 387.7L557.5 387.7L543 472.5Q530.75 479.5 518.5 472.5Z" fill="url(#gtube)" stroke="#e2e2de" stroke-width="1.3" filter="url(#gblur4)"/><path d="M517.72 460.6L544.28 460.6L542.4 472Q530.75 477.5 519.1 472Z" fill="#f6928a" filter="url(#gblur2)"/><path d="M518.72 466.6L543.28 466.6L542 472Q530.75 476.5 519.5 472Z" fill="#ee746c" opacity="0.5" filter="url(#gblur3)"/><path d="M562.5 387.7L613 387.7L596 472.5Q583.25 479.5 570.5 472.5Z" fill="url(#gtube)" stroke="#e2e2de" stroke-width="1.3" filter="url(#gblur4)"/><path d="M570.15 460.6L597.64 460.6L595.4 472Q583.25 477.5 571.1 472Z" fill="#e4d6b0" filter="url(#gblur2)"/><path d="M571.15 466.6L596.64 466.6L595 472Q583.25 476.5 571.5 472Z" fill="#d2c196" opacity="0.5" filter="url(#gblur3)"/><path d="M465.4 396.5H491M465.4 400.3H491" stroke="#5e5e5e" stroke-width="0.9" opacity="0.75" filter="url(#gblur2)"/><path d="M520.4 394.7H546M520.4 397.8H546" stroke="#5e5e5e" stroke-width="0.9" opacity="0.75" filter="url(#gblur2)"/><path d="M580.4 395.2H604.7M580.4 398.2H604.7" stroke="#5e5e5e" stroke-width="0.9" opacity="0.75" filter="url(#gblur2)"/></g>
<text x="409" y="529.8" font-size="16.5" stroke="#231f20" stroke-width="0.2">h</text>
<text x="481.5" y="538.6" font-size="8.3" text-anchor="middle" stroke="#231f20" stroke-width="0.2">CBS12767</text>
<text x="561.15" y="538.6" font-size="8.3" text-anchor="middle" stroke="#231f20" stroke-width="0.2"><tspan font-style="italic">gcn5</tspan>Δ</text>
<text x="640.95" y="538.6" font-size="8.3" text-anchor="middle" font-style="italic" stroke="#231f20" stroke-width="0.2">GCN5 AB</text>
<text x="440.2" y="575.2" font-size="8.3" text-anchor="end" stroke="#231f20" stroke-width="0.2">BF</text>
<text x="440.2" y="631.6" font-size="8.3" text-anchor="end" stroke="#231f20" stroke-width="0.2">R-6G</text>
<defs><filter id="noise" x="0" y="0" width="100%" height="100%"><feTurbulence type="fractalNoise" baseFrequency="0.8" numOctaves="2" seed="4" result="t"/><feColorMatrix type="matrix" values="0 0 0 0 0  0 0 0 0 0  0 0 0 0 0  0 0 0 -1.2 0.75"/></filter><radialGradient id="blot"><stop offset="0" stop-color="#808080" stop-opacity="0.3"/><stop offset="1" stop-color="#808080" stop-opacity="0"/></radialGradient><filter id="rblur" x="-10%" y="-10%" width="120%" height="120%"><feGaussianBlur stdDeviation="0.6"/></filter><filter id="rhaze" x="-30%" y="-30%" width="160%" height="160%"><feGaussianBlur stdDeviation="3"/></filter></defs>
<rect x="442.7" y="541.7" width="77.6" height="57.9" fill="#adadad"/>
<circle cx="500" cy="560" r="14" fill="url(#blot)"/>
<circle cx="455" cy="585" r="14" fill="url(#blot)"/>
<rect x="442.7" y="541.7" width="77.6" height="57.9" filter="url(#noise)" opacity="0.24"/>
<rect x="442.7" y="601.4" width="77.6" height="57.8" fill="#040000"/>
<rect x="522.3" y="541.7" width="77.7" height="57.9" fill="#adadad"/>
<circle cx="540" cy="570" r="14" fill="url(#blot)"/>
<circle cx="590" cy="555" r="12" fill="url(#blot)"/>
<rect x="522.3" y="541.7" width="77.7" height="57.9" filter="url(#noise)" opacity="0.24"/>
<rect x="522.3" y="601.4" width="77.7" height="57.8" fill="#040000"/>
<rect x="602.3" y="541.7" width="77.3" height="57.9" fill="#adadad"/>
<circle cx="620" cy="580" r="14" fill="url(#blot)"/>
<circle cx="670" cy="560" r="10" fill="url(#blot)"/>
<rect x="602.3" y="541.7" width="77.3" height="57.9" filter="url(#noise)" opacity="0.24"/>
<rect x="602.3" y="601.4" width="77.3" height="57.8" fill="#040000"/>
<text x="509.6" y="592.2" font-size="7.2" text-anchor="middle" fill="#222" stroke="#222" stroke-width="0.2">50 μm</text>
<line x1="505.2" y1="595.6" x2="513.4" y2="595.6" stroke="#222" stroke-width="0.8"/>
<defs><clipPath id="rclip"><rect x="522.3" y="601.4" width="77.7" height="57.8"/></clipPath></defs>
<g clip-path="url(#rclip)"><g filter="url(#rhaze)" opacity="0.35"><circle cx="535" cy="625" r="8" fill="#6a0a00"/><circle cx="545" cy="615" r="8" fill="#6a0a00"/><circle cx="560" cy="640" r="8" fill="#6a0a00"/><circle cx="575" cy="615" r="8" fill="#6a0a00"/><circle cx="590" cy="630" r="8" fill="#6a0a00"/><circle cx="530" cy="645" r="8" fill="#6a0a00"/><circle cx="565" cy="655" r="8" fill="#6a0a00"/><circle cx="585" cy="650" r="8" fill="#6a0a00"/><circle cx="550" cy="635" r="8" fill="#6a0a00"/></g></g>
<g filter="url(#rblur)"><circle cx="579.45" cy="646.77" r="0.92" fill="#c81a08"/><circle cx="525.5" cy="628.38" r="0.87" fill="#c81a08"/><circle cx="531.87" cy="628.57" r="0.82" fill="#5a0a02"/><circle cx="524.29" cy="614.49" r="1.01" fill="#5a0a02"/><circle cx="535.38" cy="646.88" r="0.86" fill="#5a0a02"/><circle cx="535.71" cy="624.89" r="1.03" fill="#8e1204"/><circle cx="555.63" cy="654.85" r="0.89" fill="#8e1204"/><circle cx="589.5" cy="612.35" r="0.73" fill="#5a0a02"/><circle cx="559.46" cy="645.37" r="0.84" fill="#c81a08"/><circle cx="576.87" cy="606.08" r="0.7" fill="#5a0a02"/><circle cx="537.29" cy="628.77" r="0.68" fill="#5a0a02"/><circle cx="595.16" cy="622.36" r="0.82" fill="#5a0a02"/><circle cx="564.17" cy="654.62" r="0.64" fill="#5a0a02"/><circle cx="538.18" cy="644.57" r="1.02" fill="#c81a08"/><circle cx="534.16" cy="642.15" r="0.84" fill="#8e1204"/><circle cx="551.1" cy="618.91" r="1.04" fill="#5a0a02"/><circle cx="537.99" cy="626.39" r="1.01" fill="#5a0a02"/><circle cx="546.95" cy="620.08" r="0.59" fill="#5a0a02"/><circle cx="594.15" cy="629.93" r="1.04" fill="#5a0a02"/><circle cx="554.03" cy="615.64" r="0.96" fill="#8e1204"/><circle cx="583.99" cy="621.05" r="1.04" fill="#5a0a02"/><circle cx="533.35" cy="652.42" r="0.63" fill="#5a0a02"/><circle cx="538.28" cy="620.85" r="1.05" fill="#8e1204"/><circle cx="597.18" cy="627.71" r="0.91" fill="#8e1204"/><circle cx="575.18" cy="632.42" r="0.96" fill="#5a0a02"/><circle cx="536.88" cy="654.69" r="0.64" fill="#c81a08"/><circle cx="552.81" cy="623.18" r="0.94" fill="#5a0a02"/><circle cx="575.88" cy="639.45" r="0.73" fill="#8e1204"/><circle cx="544.56" cy="629.5" r="0.9" fill="#8e1204"/><circle cx="524.56" cy="638.61" r="0.82" fill="#5a0a02"/><circle cx="577.45" cy="632.55" r="0.95" fill="#8e1204"/><circle cx="529" cy="633.77" r="0.97" fill="#5a0a02"/><circle cx="575.41" cy="656.87" r="0.81" fill="#f83412"/><circle cx="535.88" cy="649.08" r="0.79" fill="#c81a08"/><circle cx="577.78" cy="643.15" r="0.94" fill="#5a0a02"/><circle cx="573.68" cy="625.88" r="0.94" fill="#8e1204"/><circle cx="577.84" cy="603.94" r="0.77" fill="#5a0a02"/><circle cx="539.88" cy="640.68" r="0.57" fill="#8e1204"/><circle cx="582.46" cy="625.92" r="1.03" fill="#5a0a02"/><circle cx="557.64" cy="636.49" r="0.86" fill="#5a0a02"/><circle cx="541.3" cy="652.8" r="0.75" fill="#5a0a02"/><circle cx="572.14" cy="648.18" r="1.03" fill="#8e1204"/><circle cx="546.11" cy="618.88" r="1.03" fill="#8e1204"/><circle cx="533.05" cy="639.32" r="0.87" fill="#c81a08"/><circle cx="563.8" cy="644.91" r="0.65" fill="#8e1204"/><circle cx="536.21" cy="625.22" r="0.6" fill="#5a0a02"/><circle cx="569.87" cy="610.25" r="1" fill="#8e1204"/><circle cx="573.08" cy="653.98" r="0.9" fill="#8e1204"/><circle cx="555.52" cy="637.36" r="0.8" fill="#f83412"/><circle cx="535.65" cy="643.26" r="0.62" fill="#c81a08"/><circle cx="585.06" cy="651.71" r="0.75" fill="#5a0a02"/><circle cx="547.56" cy="648.88" r="0.67" fill="#c81a08"/><circle cx="558.98" cy="635.16" r="1.05" fill="#8e1204"/><circle cx="588.67" cy="651.54" r="0.56" fill="#c81a08"/><circle cx="583.8" cy="628.87" r="0.81" fill="#5a0a02"/><circle cx="524.67" cy="635.01" r="0.55" fill="#5a0a02"/><circle cx="575.21" cy="608.4" r="0.65" fill="#8e1204"/><circle cx="556.15" cy="649.85" r="0.87" fill="#f83412"/><circle cx="586.98" cy="628.95" r="0.91" fill="#8e1204"/><circle cx="558.51" cy="644.71" r="0.55" fill="#5a0a02"/><circle cx="567.37" cy="638.58" r="0.71" fill="#8e1204"/><circle cx="564.39" cy="624.62" r="0.76" fill="#8e1204"/><circle cx="526.98" cy="643.28" r="0.59" fill="#5a0a02"/><circle cx="531.3" cy="630.51" r="0.75" fill="#5a0a02"/><circle cx="547.69" cy="611.47" r="1.03" fill="#8e1204"/><circle cx="533.49" cy="618.72" r="0.62" fill="#c81a08"/><circle cx="554.63" cy="611.39" r="0.57" fill="#8e1204"/><circle cx="564.84" cy="650.14" r="0.61" fill="#8e1204"/><circle cx="563.06" cy="640.16" r="0.79" fill="#8e1204"/><circle cx="533.28" cy="643.33" r="0.83" fill="#5a0a02"/><circle cx="545.27" cy="654.96" r="0.66" fill="#8e1204"/><circle cx="574.69" cy="625" r="0.62" fill="#8e1204"/><circle cx="523.35" cy="646.72" r="0.56" fill="#5a0a02"/><circle cx="538.04" cy="626.68" r="0.67" fill="#8e1204"/><circle cx="559.67" cy="620.44" r="0.56" fill="#c81a08"/><circle cx="527.36" cy="610.81" r="0.89" fill="#f83412"/><circle cx="558.33" cy="621.64" r="0.66" fill="#8e1204"/><circle cx="551.75" cy="649.04" r="1.02" fill="#5a0a02"/><circle cx="583.56" cy="623.5" r="0.73" fill="#8e1204"/><circle cx="571.44" cy="653.63" r="1.05" fill="#5a0a02"/><circle cx="557.5" cy="641.65" r="0.65" fill="#5a0a02"/><circle cx="581.57" cy="645.29" r="0.7" fill="#5a0a02"/><circle cx="593.07" cy="620.44" r="0.65" fill="#8e1204"/><circle cx="528.69" cy="650.89" r="0.78" fill="#c81a08"/><circle cx="531.64" cy="648.07" r="0.89" fill="#8e1204"/><circle cx="528.47" cy="633.31" r="0.58" fill="#5a0a02"/><circle cx="568.38" cy="652.56" r="0.88" fill="#5a0a02"/><circle cx="574.46" cy="611.45" r="0.56" fill="#5a0a02"/><circle cx="533.6" cy="606.1" r="0.89" fill="#8e1204"/><circle cx="527.65" cy="654.53" r="0.63" fill="#8e1204"/><circle cx="584.39" cy="611.84" r="1.04" fill="#5a0a02"/><circle cx="524.87" cy="627.64" r="0.57" fill="#5a0a02"/><circle cx="586.68" cy="633.94" r="0.91" fill="#c81a08"/><circle cx="591.62" cy="653.7" r="0.87" fill="#8e1204"/><circle cx="547.66" cy="628.37" r="0.87" fill="#5a0a02"/><circle cx="595.23" cy="613.25" r="0.87" fill="#8e1204"/><circle cx="580.24" cy="617.63" r="0.82" fill="#5a0a02"/><circle cx="568.59" cy="650.21" r="0.56" fill="#5a0a02"/><circle cx="560.13" cy="634.29" r="0.86" fill="#5a0a02"/><circle cx="592.41" cy="619.56" r="0.96" fill="#5a0a02"/><circle cx="550.18" cy="620.28" r="0.68" fill="#8e1204"/><circle cx="561.98" cy="641.81" r="0.59" fill="#5a0a02"/><circle cx="573.68" cy="621.9" r="0.9" fill="#5a0a02"/><circle cx="590.12" cy="651.81" r="0.93" fill="#5a0a02"/><circle cx="555.74" cy="635" r="0.62" fill="#c81a08"/><circle cx="564.16" cy="632" r="0.91" fill="#f83412"/><circle cx="543.56" cy="647.71" r="0.62" fill="#5a0a02"/><circle cx="565.34" cy="645.35" r="0.57" fill="#5a0a02"/><circle cx="579.24" cy="603.96" r="1.03" fill="#5a0a02"/><circle cx="556.3" cy="616.81" r="0.56" fill="#f83412"/><circle cx="532.79" cy="613.63" r="0.63" fill="#5a0a02"/><circle cx="535.65" cy="657.25" r="0.85" fill="#5a0a02"/><circle cx="534.2" cy="645.07" r="0.76" fill="#5a0a02"/><circle cx="591.7" cy="646.6" r="0.77" fill="#5a0a02"/><circle cx="594.18" cy="632.12" r="0.85" fill="#f83412"/><circle cx="563.12" cy="651.24" r="1" fill="#5a0a02"/><circle cx="526.19" cy="647.61" r="0.65" fill="#5a0a02"/><circle cx="550.32" cy="644.31" r="0.73" fill="#5a0a02"/><circle cx="529.78" cy="620.89" r="0.97" fill="#5a0a02"/><circle cx="540.85" cy="628.35" r="0.69" fill="#8e1204"/><circle cx="583.59" cy="644.53" r="0.79" fill="#8e1204"/><circle cx="530.2" cy="613.5" r="0.6" fill="#8e1204"/><circle cx="570.31" cy="647.78" r="0.89" fill="#5a0a02"/><circle cx="562.18" cy="630.37" r="0.9" fill="#8e1204"/><circle cx="545.83" cy="628.47" r="0.73" fill="#c81a08"/><circle cx="574.74" cy="631.54" r="0.59" fill="#5a0a02"/><circle cx="554.57" cy="656.45" r="1.01" fill="#5a0a02"/><circle cx="535.22" cy="616.07" r="1" fill="#f83412"/><circle cx="586.76" cy="643.61" r="0.65" fill="#8e1204"/><circle cx="591.14" cy="615.74" r="0.82" fill="#f83412"/><circle cx="531.76" cy="619.86" r="0.81" fill="#8e1204"/><circle cx="527.46" cy="646.88" r="0.83" fill="#8e1204"/><circle cx="551.61" cy="651.88" r="0.7" fill="#5a0a02"/><circle cx="548.38" cy="612.81" r="0.93" fill="#8e1204"/><circle cx="536.11" cy="611.42" r="0.82" fill="#8e1204"/><circle cx="567.34" cy="618.33" r="0.7" fill="#c81a08"/><circle cx="530.67" cy="646.38" r="0.83" fill="#5a0a02"/><circle cx="537.22" cy="613.02" r="0.87" fill="#8e1204"/><circle cx="578.48" cy="605.83" r="0.97" fill="#8e1204"/><circle cx="547.41" cy="649.85" r="1.01" fill="#8e1204"/><circle cx="585.21" cy="649.71" r="0.61" fill="#8e1204"/><circle cx="527.54" cy="643.12" r="0.92" fill="#8e1204"/><circle cx="584.14" cy="642.19" r="1.03" fill="#c81a08"/><circle cx="596.36" cy="608.17" r="0.58" fill="#5a0a02"/><circle cx="536.86" cy="656.18" r="0.93" fill="#f83412"/><circle cx="549.27" cy="635.14" r="1.03" fill="#f83412"/><circle cx="528.77" cy="644.8" r="0.7" fill="#8e1204"/><circle cx="596.67" cy="649.94" r="0.72" fill="#5a0a02"/><circle cx="577.54" cy="642.02" r="0.6" fill="#5a0a02"/><circle cx="542.77" cy="614.77" r="0.67" fill="#5a0a02"/><circle cx="528.85" cy="617.52" r="0.79" fill="#5a0a02"/><circle cx="564.28" cy="623.95" r="0.6" fill="#c81a08"/><circle cx="556.92" cy="615.33" r="0.56" fill="#5a0a02"/><circle cx="598.57" cy="646.76" r="1.04" fill="#5a0a02"/><circle cx="593.45" cy="650.56" r="0.85" fill="#f83412"/><circle cx="558.91" cy="603.66" r="0.94" fill="#5a0a02"/><circle cx="588.41" cy="654.84" r="0.86" fill="#8e1204"/><circle cx="539.62" cy="625.93" r="0.96" fill="#8e1204"/><circle cx="556.03" cy="652.52" r="0.96" fill="#5a0a02"/><circle cx="537.28" cy="653.39" r="1.04" fill="#5a0a02"/><circle cx="539.7" cy="625.91" r="0.78" fill="#5a0a02"/><circle cx="546.42" cy="604.97" r="0.89" fill="#5a0a02"/><circle cx="568.48" cy="652.38" r="0.96" fill="#5a0a02"/><circle cx="568.64" cy="610.01" r="1.01" fill="#5a0a02"/><circle cx="525.65" cy="612.71" r="0.68" fill="#5a0a02"/><circle cx="551.53" cy="645.66" r="0.81" fill="#5a0a02"/><circle cx="576.44" cy="607.43" r="0.87" fill="#5a0a02"/><circle cx="537.34" cy="640.81" r="0.99" fill="#5a0a02"/><circle cx="533.93" cy="603.38" r="0.74" fill="#5a0a02"/><circle cx="547.01" cy="625.53" r="0.8" fill="#5a0a02"/><circle cx="583.32" cy="605.53" r="0.57" fill="#8e1204"/><circle cx="531.48" cy="637.44" r="0.6" fill="#5a0a02"/><circle cx="524.89" cy="642.98" r="0.85" fill="#8e1204"/><circle cx="563.65" cy="658.43" r="0.59" fill="#c81a08"/><circle cx="568.17" cy="613.93" r="0.7" fill="#c81a08"/><circle cx="586.11" cy="610.1" r="0.8" fill="#5a0a02"/><circle cx="539" cy="627.73" r="0.59" fill="#5a0a02"/><circle cx="555.5" cy="643.89" r="0.79" fill="#c81a08"/><circle cx="544" cy="626.25" r="0.74" fill="#8e1204"/><circle cx="541.9" cy="617.1" r="0.77" fill="#c81a08"/><circle cx="536.69" cy="610.06" r="0.92" fill="#5a0a02"/><circle cx="524.03" cy="604.82" r="0.8" fill="#c81a08"/><circle cx="526.31" cy="635.26" r="0.91" fill="#5a0a02"/><circle cx="569.63" cy="614.76" r="0.61" fill="#c81a08"/><circle cx="555.71" cy="617.51" r="0.81" fill="#5a0a02"/><circle cx="586.82" cy="655.77" r="0.69" fill="#8e1204"/><circle cx="589.68" cy="635.05" r="0.93" fill="#5a0a02"/><circle cx="591.58" cy="628.38" r="0.66" fill="#5a0a02"/><circle cx="571.15" cy="615.9" r="0.87" fill="#f83412"/><circle cx="547.46" cy="631.98" r="0.8" fill="#5a0a02"/><circle cx="557.15" cy="634.39" r="0.62" fill="#c81a08"/><circle cx="567.81" cy="649.76" r="0.67" fill="#5a0a02"/><circle cx="552.84" cy="623.86" r="0.6" fill="#5a0a02"/><circle cx="534.79" cy="639.05" r="0.9" fill="#8e1204"/><circle cx="543.75" cy="612.3" r="0.99" fill="#5a0a02"/><circle cx="577.82" cy="644.95" r="0.87" fill="#5a0a02"/><circle cx="543.03" cy="625.19" r="0.6" fill="#5a0a02"/><circle cx="591.8" cy="630.71" r="0.92" fill="#5a0a02"/><circle cx="554.08" cy="628.17" r="0.76" fill="#5a0a02"/><circle cx="564.26" cy="638.76" r="0.71" fill="#8e1204"/><circle cx="541.81" cy="615.59" r="0.61" fill="#8e1204"/><circle cx="529.64" cy="657.49" r="0.77" fill="#8e1204"/><circle cx="537.56" cy="638.18" r="0.99" fill="#5a0a02"/><circle cx="533.42" cy="639.02" r="0.65" fill="#5a0a02"/><circle cx="577.16" cy="606.37" r="0.98" fill="#5a0a02"/><circle cx="546.5" cy="633.25" r="0.87" fill="#c81a08"/><circle cx="559.8" cy="635.39" r="0.93" fill="#8e1204"/><circle cx="533.46" cy="613.71" r="0.91" fill="#8e1204"/><circle cx="577.84" cy="617.7" r="0.77" fill="#5a0a02"/><circle cx="588.2" cy="611.5" r="0.6" fill="#8e1204"/><circle cx="542.37" cy="622.28" r="0.91" fill="#5a0a02"/><circle cx="530.16" cy="631.87" r="0.79" fill="#8e1204"/><circle cx="592.9" cy="618.14" r="0.99" fill="#5a0a02"/><circle cx="545.24" cy="613.26" r="0.57" fill="#f83412"/><circle cx="554.76" cy="650.86" r="0.76" fill="#8e1204"/><circle cx="574.46" cy="621.36" r="0.8" fill="#8e1204"/><circle cx="569.81" cy="646.82" r="0.8" fill="#5a0a02"/><circle cx="586.8" cy="638.67" r="0.82" fill="#5a0a02"/><circle cx="544.65" cy="611.36" r="0.8" fill="#5a0a02"/><circle cx="553.54" cy="608.1" r="0.98" fill="#5a0a02"/><circle cx="592.95" cy="613.84" r="0.58" fill="#5a0a02"/><circle cx="551.55" cy="634.89" r="0.6" fill="#5a0a02"/><circle cx="565.01" cy="647.31" r="0.91" fill="#c81a08"/><circle cx="563.47" cy="602.55" r="0.78" fill="#5a0a02"/><circle cx="581.08" cy="619.11" r="0.95" fill="#5a0a02"/><circle cx="560.7" cy="639.64" r="0.86" fill="#8e1204"/><circle cx="589.43" cy="616.58" r="0.65" fill="#f83412"/><circle cx="532.62" cy="652.07" r="0.64" fill="#c81a08"/><circle cx="529.67" cy="627.2" r="0.74" fill="#8e1204"/><circle cx="553.43" cy="609.35" r="0.75" fill="#5a0a02"/><circle cx="570.43" cy="653.83" r="0.65" fill="#8e1204"/><circle cx="586.77" cy="617.28" r="0.67" fill="#5a0a02"/><circle cx="571.73" cy="643.5" r="0.96" fill="#8e1204"/><circle cx="578.76" cy="613.71" r="0.91" fill="#8e1204"/><circle cx="526.79" cy="648.22" r="0.63" fill="#f83412"/><circle cx="576.94" cy="626.56" r="0.86" fill="#c81a08"/><circle cx="554.37" cy="640.08" r="0.55" fill="#5a0a02"/><circle cx="595.8" cy="648.94" r="1.01" fill="#5a0a02"/><circle cx="545.95" cy="653.22" r="0.73" fill="#8e1204"/><circle cx="543.34" cy="634.29" r="0.71" fill="#c81a08"/><circle cx="554.52" cy="624.34" r="1.04" fill="#8e1204"/><circle cx="547.1" cy="635.25" r="0.71" fill="#8e1204"/><circle cx="524.86" cy="647.9" r="0.94" fill="#c81a08"/><circle cx="558.19" cy="609.41" r="0.99" fill="#8e1204"/><circle cx="529.74" cy="629.58" r="0.66" fill="#c81a08"/><circle cx="550.23" cy="639.96" r="0.7" fill="#5a0a02"/><circle cx="545.39" cy="607.75" r="1.02" fill="#5a0a02"/><circle cx="534.52" cy="640.92" r="0.71" fill="#5a0a02"/><circle cx="560.89" cy="604.38" r="0.9" fill="#f83412"/><circle cx="568.34" cy="652.03" r="0.78" fill="#5a0a02"/><circle cx="563.12" cy="631.04" r="0.81" fill="#5a0a02"/><circle cx="554.56" cy="613.36" r="1.02" fill="#8e1204"/><circle cx="531.66" cy="619.61" r="0.73" fill="#5a0a02"/><circle cx="568" cy="612.19" r="0.92" fill="#5a0a02"/><circle cx="535.82" cy="610.03" r="1.01" fill="#5a0a02"/><circle cx="587.8" cy="638.57" r="0.78" fill="#5a0a02"/><circle cx="553.23" cy="628.42" r="0.57" fill="#8e1204"/><circle cx="531.76" cy="642.91" r="0.69" fill="#5a0a02"/><circle cx="549.04" cy="637.42" r="0.75" fill="#5a0a02"/><circle cx="597.94" cy="637.26" r="0.78" fill="#8e1204"/><circle cx="560.96" cy="639.92" r="0.71" fill="#8e1204"/><circle cx="551.09" cy="643.17" r="0.69" fill="#8e1204"/><circle cx="572.17" cy="611.23" r="0.84" fill="#8e1204"/><circle cx="591.5" cy="645.85" r="0.72" fill="#5a0a02"/><circle cx="535.59" cy="654.53" r="0.8" fill="#5a0a02"/><circle cx="554.41" cy="647.99" r="0.72" fill="#f83412"/><circle cx="528.27" cy="645.42" r="0.65" fill="#5a0a02"/><circle cx="546.9" cy="616.22" r="0.6" fill="#5a0a02"/><circle cx="579.33" cy="653.76" r="0.94" fill="#c81a08"/><circle cx="561.01" cy="634.94" r="0.67" fill="#5a0a02"/><circle cx="586.76" cy="645.21" r="0.67" fill="#8e1204"/><circle cx="552.05" cy="643.7" r="0.79" fill="#5a0a02"/><circle cx="523.57" cy="610.62" r="1.01" fill="#8e1204"/><circle cx="582.8" cy="613.15" r="0.92" fill="#c81a08"/><circle cx="547.69" cy="624.31" r="0.87" fill="#5a0a02"/><circle cx="583.15" cy="618.88" r="0.55" fill="#5a0a02"/><circle cx="540.56" cy="602.71" r="0.66" fill="#5a0a02"/><circle cx="572.76" cy="624.53" r="1.01" fill="#5a0a02"/><circle cx="586.32" cy="656.35" r="0.68" fill="#5a0a02"/><circle cx="567.95" cy="647.07" r="0.89" fill="#8e1204"/><circle cx="566.27" cy="655.13" r="0.56" fill="#f83412"/><circle cx="551.94" cy="634.61" r="0.69" fill="#5a0a02"/><circle cx="535.08" cy="649.86" r="0.65" fill="#8e1204"/><circle cx="538.78" cy="623.04" r="0.65" fill="#8e1204"/><circle cx="544.28" cy="648.54" r="0.87" fill="#5a0a02"/><circle cx="543.98" cy="614.13" r="0.69" fill="#5a0a02"/><circle cx="556.77" cy="616.77" r="0.79" fill="#8e1204"/><circle cx="587.32" cy="649.2" r="0.75" fill="#f83412"/><circle cx="538.53" cy="645.46" r="0.8" fill="#5a0a02"/><circle cx="557.81" cy="649.47" r="1.01" fill="#8e1204"/><circle cx="577" cy="641.69" r="0.86" fill="#5a0a02"/><circle cx="527.92" cy="644.49" r="0.8" fill="#5a0a02"/><circle cx="577.97" cy="645.1" r="1.02" fill="#8e1204"/><circle cx="581.18" cy="614.72" r="1.03" fill="#8e1204"/><circle cx="579.96" cy="643.9" r="0.98" fill="#c81a08"/><circle cx="581.61" cy="641.43" r="0.61" fill="#5a0a02"/><circle cx="549.13" cy="609.58" r="0.61" fill="#5a0a02"/><circle cx="554.82" cy="653.24" r="0.98" fill="#8e1204"/><circle cx="596.76" cy="629.94" r="0.88" fill="#8e1204"/><circle cx="527.02" cy="655.93" r="0.8" fill="#5a0a02"/><circle cx="569.89" cy="613.63" r="0.67" fill="#f83412"/><circle cx="556.87" cy="606.11" r="1.01" fill="#8e1204"/><circle cx="546.32" cy="610.73" r="0.67" fill="#5a0a02"/><circle cx="581.22" cy="657.81" r="0.83" fill="#5a0a02"/><circle cx="544.52" cy="634.29" r="0.94" fill="#5a0a02"/><circle cx="583.77" cy="653.19" r="0.66" fill="#c81a08"/><circle cx="574.31" cy="643.45" r="0.55" fill="#5a0a02"/><circle cx="547.6" cy="625.41" r="0.55" fill="#c81a08"/><circle cx="592.19" cy="657.32" r="0.73" fill="#8e1204"/><circle cx="588.85" cy="617.91" r="1.03" fill="#5a0a02"/><circle cx="587.27" cy="629.7" r="0.6" fill="#f83412"/><circle cx="571.87" cy="630.72" r="0.65" fill="#5a0a02"/><circle cx="559.16" cy="631.47" r="0.91" fill="#5a0a02"/><circle cx="550.63" cy="640.18" r="0.65" fill="#8e1204"/><circle cx="559.86" cy="606.23" r="1" fill="#5a0a02"/><circle cx="545.35" cy="642.19" r="0.99" fill="#5a0a02"/><circle cx="573.59" cy="605.22" r="0.97" fill="#5a0a02"/><circle cx="539.12" cy="615.48" r="0.81" fill="#5a0a02"/><circle cx="566.7" cy="650.6" r="0.63" fill="#5a0a02"/><circle cx="549.44" cy="611.69" r="0.71" fill="#f83412"/><circle cx="586.67" cy="654.55" r="0.59" fill="#8e1204"/><circle cx="538.88" cy="640.07" r="0.72" fill="#5a0a02"/><circle cx="564.03" cy="635.24" r="0.85" fill="#5a0a02"/><circle cx="565.41" cy="609.28" r="0.57" fill="#c81a08"/><circle cx="530.5" cy="613.35" r="0.93" fill="#8e1204"/><circle cx="559.34" cy="642.7" r="0.65" fill="#5a0a02"/><circle cx="538.72" cy="612.72" r="0.66" fill="#5a0a02"/><circle cx="527.8" cy="655.29" r="0.64" fill="#8e1204"/><circle cx="593.6" cy="604.99" r="0.66" fill="#8e1204"/><circle cx="550.46" cy="619.02" r="0.85" fill="#5a0a02"/><circle cx="560.23" cy="640.38" r="1.02" fill="#8e1204"/><circle cx="598.85" cy="626.46" r="0.94" fill="#8e1204"/><circle cx="537.95" cy="625.66" r="0.56" fill="#5a0a02"/><circle cx="548.19" cy="616.62" r="0.56" fill="#5a0a02"/><circle cx="550.39" cy="626.73" r="1" fill="#8e1204"/><circle cx="539.9" cy="657.59" r="0.84" fill="#5a0a02"/><circle cx="545.06" cy="652.01" r="0.9" fill="#8e1204"/><circle cx="582.75" cy="658.1" r="0.71" fill="#8e1204"/><circle cx="535.6" cy="646.06" r="0.85" fill="#5a0a02"/><circle cx="541.2" cy="646.2" r="0.59" fill="#c81a08"/><circle cx="574.66" cy="653.85" r="1.04" fill="#c81a08"/><circle cx="574.25" cy="656.86" r="0.88" fill="#5a0a02"/><circle cx="552.34" cy="626.79" r="1.02" fill="#5a0a02"/><circle cx="560.88" cy="652.86" r="0.69" fill="#5a0a02"/><circle cx="568.3" cy="615.47" r="0.6" fill="#5a0a02"/><circle cx="547.23" cy="623.7" r="0.69" fill="#8e1204"/><circle cx="552.34" cy="627.26" r="0.66" fill="#f83412"/><circle cx="556.25" cy="634.78" r="0.67" fill="#5a0a02"/><circle cx="569.28" cy="653.15" r="0.8" fill="#8e1204"/><circle cx="570.83" cy="625.16" r="0.89" fill="#5a0a02"/><circle cx="557.98" cy="629.18" r="0.66" fill="#5a0a02"/><circle cx="559.32" cy="654.78" r="0.61" fill="#f83412"/><circle cx="594.7" cy="643.67" r="0.56" fill="#8e1204"/><circle cx="577.72" cy="627.33" r="0.71" fill="#5a0a02"/><circle cx="554.45" cy="606.85" r="0.59" fill="#5a0a02"/><circle cx="557.31" cy="619.99" r="0.65" fill="#5a0a02"/><circle cx="561.03" cy="644.52" r="0.67" fill="#5a0a02"/><circle cx="583.91" cy="619.45" r="0.71" fill="#f83412"/><circle cx="572.76" cy="650.48" r="0.85" fill="#5a0a02"/><circle cx="568.02" cy="610.74" r="0.87" fill="#5a0a02"/><circle cx="529.53" cy="615.59" r="0.8" fill="#8e1204"/><circle cx="542.25" cy="610.32" r="0.81" fill="#8e1204"/><circle cx="566.92" cy="638.01" r="0.96" fill="#8e1204"/><circle cx="530.26" cy="617.1" r="0.82" fill="#c81a08"/><circle cx="591.72" cy="642.67" r="0.61" fill="#5a0a02"/><circle cx="577.05" cy="628.64" r="0.73" fill="#5a0a02"/><circle cx="558.37" cy="614.12" r="1.04" fill="#f83412"/><circle cx="581.64" cy="620.66" r="0.56" fill="#8e1204"/><circle cx="593.81" cy="629.2" r="0.56" fill="#5a0a02"/><circle cx="594" cy="611.11" r="0.99" fill="#5a0a02"/><circle cx="554.79" cy="638.24" r="0.73" fill="#f83412"/><circle cx="597.22" cy="641.21" r="0.77" fill="#5a0a02"/><circle cx="575.81" cy="613.11" r="1.02" fill="#f83412"/><circle cx="598.67" cy="647.04" r="1" fill="#f83412"/><circle cx="532.53" cy="609.4" r="0.73" fill="#8e1204"/><circle cx="585.96" cy="645.7" r="0.63" fill="#5a0a02"/><circle cx="573.52" cy="638.12" r="0.88" fill="#5a0a02"/><circle cx="526.74" cy="621.38" r="0.61" fill="#5a0a02"/><circle cx="577.22" cy="643.33" r="0.71" fill="#8e1204"/><circle cx="588.74" cy="609.31" r="0.94" fill="#5a0a02"/><circle cx="552.7" cy="645.34" r="0.91" fill="#5a0a02"/><circle cx="567.58" cy="648.44" r="0.76" fill="#5a0a02"/><circle cx="540.53" cy="621.84" r="0.73" fill="#5a0a02"/><circle cx="538.14" cy="656.24" r="0.68" fill="#8e1204"/><circle cx="529.22" cy="606.82" r="0.59" fill="#5a0a02"/><circle cx="565.46" cy="636.15" r="0.84" fill="#5a0a02"/><circle cx="571.21" cy="608.99" r="1.04" fill="#5a0a02"/><circle cx="578" cy="606.93" r="0.66" fill="#5a0a02"/><circle cx="583.05" cy="615.41" r="0.74" fill="#5a0a02"/><circle cx="568.22" cy="649.77" r="0.9" fill="#5a0a02"/><circle cx="533.72" cy="650.06" r="0.88" fill="#5a0a02"/><circle cx="591.34" cy="635.72" r="0.83" fill="#5a0a02"/><circle cx="536.66" cy="632.55" r="0.65" fill="#8e1204"/><circle cx="541.06" cy="610.84" r="0.87" fill="#5a0a02"/><circle cx="545.86" cy="628.69" r="0.86" fill="#5a0a02"/><circle cx="551.52" cy="632.42" r="0.88" fill="#8e1204"/><circle cx="581.32" cy="626.91" r="0.64" fill="#8e1204"/><circle cx="580.87" cy="633.5" r="0.81" fill="#5a0a02"/><circle cx="536.47" cy="646.38" r="0.55" fill="#8e1204"/><circle cx="585.74" cy="602.34" r="1.04" fill="#8e1204"/><circle cx="581.88" cy="603.05" r="0.68" fill="#8e1204"/><circle cx="591.5" cy="642.42" r="0.72" fill="#8e1204"/><circle cx="543.64" cy="617.85" r="0.91" fill="#c81a08"/><circle cx="527.24" cy="645.01" r="1.03" fill="#5a0a02"/><circle cx="594.1" cy="610.65" r="0.89" fill="#5a0a02"/><circle cx="574.84" cy="628.88" r="0.58" fill="#c81a08"/><circle cx="546.59" cy="616.1" r="1.05" fill="#5a0a02"/><circle cx="525.47" cy="649.58" r="1.01" fill="#5a0a02"/><circle cx="567.74" cy="627.44" r="0.66" fill="#8e1204"/><circle cx="556.28" cy="628.46" r="0.67" fill="#c81a08"/><circle cx="552.96" cy="612.58" r="0.84" fill="#c81a08"/><circle cx="564.53" cy="615.47" r="0.71" fill="#f83412"/><circle cx="564.66" cy="618.32" r="1.03" fill="#8e1204"/><circle cx="543.39" cy="640.54" r="0.73" fill="#8e1204"/><circle cx="551.76" cy="645.99" r="0.96" fill="#5a0a02"/><circle cx="566.05" cy="640.41" r="1.04" fill="#5a0a02"/><circle cx="571.34" cy="620.14" r="0.83" fill="#5a0a02"/><circle cx="598.11" cy="631.8" r="0.89" fill="#8e1204"/><circle cx="577.15" cy="630.73" r="0.88" fill="#5a0a02"/><circle cx="543.16" cy="625.01" r="0.98" fill="#5a0a02"/><circle cx="531.56" cy="615.41" r="0.63" fill="#5a0a02"/><circle cx="543.09" cy="637.61" r="0.59" fill="#c81a08"/><circle cx="546.78" cy="615.86" r="0.77" fill="#8e1204"/><circle cx="544.46" cy="635.46" r="1" fill="#5a0a02"/><circle cx="544.34" cy="651.36" r="0.74" fill="#5a0a02"/><circle cx="549.61" cy="603.47" r="0.83" fill="#5a0a02"/><circle cx="597.5" cy="637.6" r="0.7" fill="#c81a08"/><circle cx="541.86" cy="613.46" r="0.64" fill="#5a0a02"/><circle cx="566.52" cy="649.38" r="0.8" fill="#8e1204"/><circle cx="532.77" cy="614.99" r="0.84" fill="#c81a08"/><circle cx="598.63" cy="645.47" r="0.93" fill="#8e1204"/><circle cx="539.88" cy="620.55" r="0.81" fill="#c81a08"/><circle cx="569.81" cy="639.66" r="0.78" fill="#8e1204"/><circle cx="569.85" cy="629.65" r="0.99" fill="#c81a08"/><circle cx="578.21" cy="642.51" r="0.8" fill="#5a0a02"/><circle cx="581.44" cy="623.33" r="0.72" fill="#5a0a02"/><circle cx="589.32" cy="650.58" r="0.9" fill="#8e1204"/><circle cx="582.55" cy="633.81" r="0.55" fill="#8e1204"/><circle cx="562.13" cy="645.12" r="0.85" fill="#5a0a02"/><circle cx="539.43" cy="652.73" r="1.03" fill="#5a0a02"/><circle cx="582.08" cy="652.26" r="0.96" fill="#5a0a02"/><circle cx="549.31" cy="641.15" r="0.92" fill="#5a0a02"/><circle cx="567.59" cy="605.55" r="1.03" fill="#c81a08"/><circle cx="545.5" cy="642.72" r="0.82" fill="#5a0a02"/><circle cx="589.3" cy="648.03" r="0.64" fill="#5a0a02"/><circle cx="590.46" cy="644.66" r="0.59" fill="#5a0a02"/><circle cx="550.36" cy="616.8" r="0.55" fill="#5a0a02"/><circle cx="549.23" cy="637.1" r="0.56" fill="#8e1204"/><circle cx="565.78" cy="637.37" r="0.73" fill="#8e1204"/><circle cx="584.65" cy="650.7" r="0.76" fill="#5a0a02"/><circle cx="569.63" cy="614.65" r="0.86" fill="#8e1204"/><circle cx="586.87" cy="623.37" r="0.8" fill="#c81a08"/><circle cx="530.19" cy="637.32" r="0.79" fill="#8e1204"/><circle cx="568.38" cy="653.79" r="0.94" fill="#f83412"/><circle cx="563.62" cy="630.71" r="0.7" fill="#8e1204"/><circle cx="587.89" cy="641.72" r="0.73" fill="#8e1204"/><circle cx="578.45" cy="632.52" r="0.97" fill="#c81a08"/><circle cx="596.48" cy="613.32" r="0.62" fill="#5a0a02"/><circle cx="537.66" cy="620.08" r="1" fill="#5a0a02"/><circle cx="568.41" cy="621.45" r="0.83" fill="#c81a08"/><circle cx="539.41" cy="632.91" r="0.75" fill="#8e1204"/></g>
<circle cx="498" cy="627" r="0.6" fill="#a01800"/>
<circle cx="507" cy="625" r="0.6" fill="#a01800"/>
<circle cx="485" cy="640" r="0.6" fill="#a01800"/>
<circle cx="475" cy="612" r="0.6" fill="#a01800"/>
<circle cx="455" cy="631" r="0.6" fill="#a01800"/>
<circle cx="640" cy="617" r="0.6" fill="#a01800"/>
<circle cx="660" cy="640" r="0.6" fill="#a01800"/></svg></body></html>
